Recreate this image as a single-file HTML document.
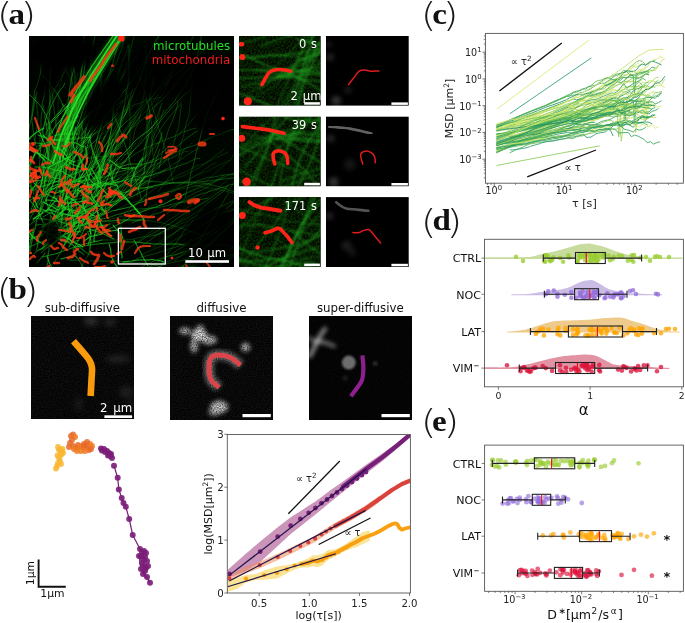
<!DOCTYPE html>
<html><head><meta charset="utf-8"><title>Figure</title>
<style>html,body{margin:0;padding:0;background:#fff;}svg{display:block;}</style></head>
<body><svg width="685" height="623" viewBox="0 0 685 623">
<rect width="685" height="623" fill="#fff"/>
<defs>
<clipPath id="clipc"><rect x="485.8" y="33.8" width="197.2" height="149"/></clipPath>
<clipPath id="clipb"><rect x="227.7" y="434.9" width="182.3" height="157.7"/></clipPath>
<clipPath id="clipA"><rect x="29" y="36" width="205" height="231"/></clipPath>
<filter color-interpolation-filters="sRGB" id="blur05" x="-5%" y="-5%" width="110%" height="110%"><feGaussianBlur stdDeviation="0.5"/></filter>
<filter color-interpolation-filters="sRGB" id="blur06" x="-5%" y="-5%" width="110%" height="110%"><feGaussianBlur stdDeviation="0.6"/></filter>
<filter color-interpolation-filters="sRGB" id="blur07" x="-5%" y="-5%" width="110%" height="110%"><feGaussianBlur stdDeviation="0.7"/></filter>
<filter color-interpolation-filters="sRGB" id="blur09" x="-5%" y="-5%" width="110%" height="110%"><feGaussianBlur stdDeviation="0.9"/></filter>
<filter color-interpolation-filters="sRGB" id="grain" x="-20%" y="-20%" width="140%" height="140%"><feGaussianBlur in="SourceGraphic" stdDeviation="2.2" result="b"/><feTurbulence type="fractalNoise" baseFrequency="0.8" numOctaves="1" seed="5" result="n"/><feColorMatrix in="n" type="matrix" values="0 0 0 0 1  0 0 0 0 1  0 0 0 0 1  1.3 0 0 0 0.05" result="na"/><feComposite in="b" in2="na" operator="arithmetic" k1="1" k2="0" k3="0" k4="0"/></filter>
<filter color-interpolation-filters="sRGB" id="blur1" x="-50%" y="-50%" width="200%" height="200%"><feGaussianBlur stdDeviation="1"/></filter>
<filter color-interpolation-filters="sRGB" id="blur2" x="-50%" y="-50%" width="200%" height="200%"><feGaussianBlur stdDeviation="2"/></filter>
<filter color-interpolation-filters="sRGB" id="blur3" x="-50%" y="-50%" width="200%" height="200%"><feGaussianBlur stdDeviation="3"/></filter>
<filter color-interpolation-filters="sRGB" id="gnoise" x="0" y="0" width="100%" height="100%"><feTurbulence type="fractalNoise" baseFrequency="0.7" numOctaves="1" seed="4"/><feColorMatrix type="matrix" values="0 0 0 0 0  0 0.16 0 0 -0.04  0 0 0 0 0  0 0 0 0 1"/></filter>
<filter color-interpolation-filters="sRGB" id="gnoise2" x="0" y="0" width="100%" height="100%"><feTurbulence type="fractalNoise" baseFrequency="0.55" numOctaves="2" seed="9"/><feColorMatrix type="matrix" values="0.1 0 0 0 -0.03  0 0.42 0 0 -0.12  0 0 0 0 0  0 0 0 0 1"/></filter>
<filter color-interpolation-filters="sRGB" id="wnoise0" x="0" y="0" width="100%" height="100%"><feTurbulence type="fractalNoise" baseFrequency="0.85" numOctaves="1" seed="1"/><feColorMatrix type="matrix" values="0.15 0 0 0 -0.042  0.15 0 0 0 -0.042  0.15 0 0 0 -0.042  0 0 0 0 1"/></filter>
<filter color-interpolation-filters="sRGB" id="wnoise1" x="0" y="0" width="100%" height="100%"><feTurbulence type="fractalNoise" baseFrequency="0.85" numOctaves="1" seed="2"/><feColorMatrix type="matrix" values="0.15 0 0 0 -0.042  0.15 0 0 0 -0.042  0.15 0 0 0 -0.042  0 0 0 0 1"/></filter>
<filter color-interpolation-filters="sRGB" id="wnoise2" x="0" y="0" width="100%" height="100%"><feTurbulence type="fractalNoise" baseFrequency="0.85" numOctaves="1" seed="3"/><feColorMatrix type="matrix" values="0.06 0 0 0 -0.014  0.06 0 0 0 -0.014  0.06 0 0 0 -0.014  0 0 0 0 1"/></filter>
</defs>
<text transform="translate(-3.3 26.8) scale(1.2 1)" font-size="33.8" font-weight="200" font-family='"DejaVu Sans Light", "DejaVu Sans", sans-serif' fill="#1a1a1a">(</text>
<text transform="translate(20.5 26.8) scale(1.2 1)" font-size="33.8" font-weight="200" font-family='"DejaVu Sans Light", "DejaVu Sans", sans-serif' fill="#1a1a1a">)</text>
<text transform="translate(8.5 23.6) scale(1.12 1)" font-size="29.5" font-weight="bold" font-family='"Liberation Serif", "DejaVu Serif", serif' fill="#111">a</text>
<text transform="translate(-3.4 302.7) scale(1.2 1)" font-size="33.8" font-weight="200" font-family='"DejaVu Sans Light", "DejaVu Sans", sans-serif' fill="#1a1a1a">(</text>
<text transform="translate(22.7 302.7) scale(1.2 1)" font-size="33.8" font-weight="200" font-family='"DejaVu Sans Light", "DejaVu Sans", sans-serif' fill="#1a1a1a">)</text>
<text transform="translate(8.5 299.1) scale(1.12 1)" font-size="29.5" font-weight="bold" font-family='"Liberation Serif", "DejaVu Serif", serif' fill="#111">b</text>
<text transform="translate(420.7 26.7) scale(1.2 1)" font-size="33.8" font-weight="200" font-family='"DejaVu Sans Light", "DejaVu Sans", sans-serif' fill="#1a1a1a">(</text>
<text transform="translate(442.8 26.7) scale(1.2 1)" font-size="33.8" font-weight="200" font-family='"DejaVu Sans Light", "DejaVu Sans", sans-serif' fill="#1a1a1a">)</text>
<text transform="translate(432.2 23.5) scale(1.12 1)" font-size="29.5" font-weight="bold" font-family='"Liberation Serif", "DejaVu Serif", serif' fill="#111">c</text>
<text transform="translate(420.7 233.6) scale(1.2 1)" font-size="33.8" font-weight="200" font-family='"DejaVu Sans Light", "DejaVu Sans", sans-serif' fill="#1a1a1a">(</text>
<text transform="translate(446.5 233.6) scale(1.2 1)" font-size="33.8" font-weight="200" font-family='"DejaVu Sans Light", "DejaVu Sans", sans-serif' fill="#1a1a1a">)</text>
<text transform="translate(432.4 230.1) scale(1.12 1)" font-size="29.5" font-weight="bold" font-family='"Liberation Serif", "DejaVu Serif", serif' fill="#111">d</text>
<text transform="translate(420.7 433.6) scale(1.2 1)" font-size="33.8" font-weight="200" font-family='"DejaVu Sans Light", "DejaVu Sans", sans-serif' fill="#1a1a1a">(</text>
<text transform="translate(443.5 433.6) scale(1.2 1)" font-size="33.8" font-weight="200" font-family='"DejaVu Sans Light", "DejaVu Sans", sans-serif' fill="#1a1a1a">)</text>
<text transform="translate(432.0 430.5) scale(1.12 1)" font-size="29.5" font-weight="bold" font-family='"Liberation Serif", "DejaVu Serif", serif' fill="#111">e</text>
<g clip-path="url(#clipA)">
<rect x="29" y="36" width="205" height="231" fill="#000"/>
<rect x="29" y="36" width="205" height="231" filter="url(#gnoise)" opacity="0.6"/>
<g filter="url(#blur07)" fill="none" stroke="#22d422" stroke-linecap="round">
<path d="M64 243Q69 235 72 232Q75 228 78 225Q81 222 84 218Q87 215 90 212Q94 209 97 206Q101 203 104 200Q107 197 111 194Q115 191 118 188Q121 185 124 182L128 179" stroke-opacity="0.46" stroke-width="0.9"/>
<path d="M128 179Q134 173 137 169Q139 165 142 162Q144 158 146 153Q147 149 149 145Q151 141 152 137Q154 133 155 128Q157 124 158 120Q159 115 160 111L161 107" stroke-opacity="0.16" stroke-width="0.9"/>
<path d="M80 196Q87 191 90 188Q94 185 97 182Q100 179 103 175Q106 172 109 168Q112 165 115 162Q118 159 122 155Q125 152 128 149Q131 146 134 142Q137 139 141 136Q144 134 148 131Q151 128 154 125L157 121" stroke-opacity="0.65" stroke-width="0.9"/>
<path d="M157 121Q164 115 166 111Q169 108 172 104Q175 101 177 97Q180 93 182 90Q185 86 187 82Q190 78 191 74Q193 70 195 66Q196 61 197 57Q198 53 199 48Q200 44 201 39Q201 35 202 31L202 26" stroke-opacity="0.37" stroke-width="0.9"/>
<path d="M49 239Q58 235 61 232Q65 230 69 228Q73 225 77 223Q81 221 85 219Q89 217 93 215L96 212" stroke-opacity="0.66" stroke-width="0.9"/>
<path d="M96 212Q104 208 108 206Q112 204 116 202Q120 200 124 198Q129 196 132 194L136 192" stroke-opacity="0.16" stroke-width="0.9"/>
<path d="M102 210Q110 207 114 205Q118 203 121 200Q125 197 128 194Q131 191 134 187Q137 184 141 181Q144 178 147 175L150 172" stroke-opacity="0.46" stroke-width="0.9"/>
<path d="M150 172Q157 165 160 162Q163 159 166 156Q170 153 173 150Q177 147 180 144Q183 141 187 138Q190 136 194 133L198 131" stroke-opacity="0.37" stroke-width="0.9"/>
<path d="M81 202Q86 195 88 191Q90 187 92 183Q95 179 97 175Q99 171 101 167Q104 163 105 159Q107 155 109 151Q111 147 112 143Q114 139 116 135L118 131" stroke-opacity="0.57" stroke-width="0.9"/>
<path d="M118 131Q123 123 126 119Q128 115 130 111Q132 107 134 104Q137 100 138 95Q140 91 142 87Q144 83 146 79Q149 75 151 72L153 68" stroke-opacity="0.16" stroke-width="0.9"/>
<path d="M43 197Q50 192 54 189Q58 186 61 184Q65 181 68 178Q71 175 74 171Q77 168 79 164Q82 160 85 157L88 154" stroke-opacity="0.62" stroke-width="0.9"/>
<path d="M88 154Q93 146 96 143Q99 139 101 135Q103 131 106 128Q108 124 111 120Q113 116 116 113Q118 109 120 105L123 101" stroke-opacity="0.16" stroke-width="0.9"/>
<path d="M84 182Q89 175 91 171Q93 167 95 163Q97 159 99 155Q102 151 104 147Q107 143 109 139L111 136" stroke-opacity="0.47" stroke-width="0.9"/>
<path d="M111 136Q115 127 117 124Q119 120 122 116Q124 112 126 108Q128 104 130 100L132 96" stroke-opacity="0.30" stroke-width="0.9"/>
<path d="M50 233Q53 225 55 220Q56 216 58 212Q60 208 61 203Q62 199 63 194L64 190" stroke-opacity="0.40" stroke-width="0.9"/>
<path d="M64 190Q66 181 68 177Q69 173 70 169Q71 164 72 160Q73 155 73 151L74 146" stroke-opacity="0.22" stroke-width="0.9"/>
<path d="M67 198Q72 191 75 187Q78 183 80 180Q83 176 86 173Q89 170 92 166Q95 163 99 160Q102 158 106 155Q109 151 111 147L114 144" stroke-opacity="0.45" stroke-width="0.9"/>
<path d="M114 144Q119 136 122 133Q125 129 127 126Q130 122 133 119Q135 115 137 111Q139 107 141 103Q143 99 144 94L146 90" stroke-opacity="0.23" stroke-width="0.9"/>
<path d="M63 223Q70 217 74 215Q78 213 81 210Q85 207 89 205Q93 203 97 200Q100 198 104 196Q108 194 112 191L116 189" stroke-opacity="0.49" stroke-width="0.9"/>
<path d="M116 189Q124 185 128 184Q133 182 137 180Q141 179 145 177Q150 176 154 174Q158 173 162 171L166 169" stroke-opacity="0.37" stroke-width="0.9"/>
<path d="M45 202Q49 194 51 190Q53 185 54 181Q56 177 57 173Q58 168 59 164Q60 160 61 155Q62 151 64 147Q65 142 67 138Q69 134 71 130Q72 126 74 122Q75 117 77 113Q78 109 79 104L80 100" stroke-opacity="0.69" stroke-width="0.9"/>
<path d="M80 100Q80 91 80 87Q81 82 81 78Q82 73 82 69Q82 64 83 60Q83 55 83 51Q83 46 84 42Q84 37 84 33Q84 28 84 24Q84 19 84 15Q84 10 85 6Q85 1 85 -3L85 -8" stroke-opacity="0.35" stroke-width="0.9"/>
<path d="M68 237Q72 229 75 225Q77 222 79 218Q82 214 84 210Q86 206 88 202Q90 198 93 194Q95 190 98 187L101 183" stroke-opacity="0.62" stroke-width="0.9"/>
<path d="M101 183Q107 177 110 173Q113 170 116 167Q118 163 121 160Q124 156 127 153Q130 150 133 146L136 143" stroke-opacity="0.24" stroke-width="0.9"/>
<path d="M85 225Q90 217 92 213Q95 209 96 205Q98 201 100 197Q102 193 104 189Q106 185 107 180Q109 176 110 172L111 168" stroke-opacity="0.66" stroke-width="0.9"/>
<path d="M111 168Q113 159 114 154Q115 150 116 146Q118 141 118 137Q119 132 120 128Q120 124 121 119Q122 115 123 110L124 106" stroke-opacity="0.33" stroke-width="0.9"/>
<path d="M60 240Q61 231 61 226Q62 222 62 217Q62 213 62 208Q62 204 61 199Q60 195 60 190Q60 186 60 181Q59 177 60 172Q60 168 60 163Q60 159 60 154Q59 150 59 145Q59 141 59 136L59 132" stroke-opacity="0.63" stroke-width="0.9"/>
<path d="M59 132Q59 123 58 118Q58 114 58 109Q58 105 58 100Q59 96 59 91Q60 87 61 82Q62 78 63 74Q64 69 65 65Q66 61 66 56Q67 52 67 47Q68 43 68 38L69 34" stroke-opacity="0.16" stroke-width="0.9"/>
<path d="M65 189Q72 183 76 181Q80 178 83 176Q87 173 90 170Q94 167 97 164L100 161" stroke-opacity="0.61" stroke-width="0.9"/>
<path d="M100 161Q107 155 110 152Q113 149 117 146Q120 143 124 140L128 138" stroke-opacity="0.24" stroke-width="0.9"/>
<path d="M46 231Q51 224 54 221Q57 217 60 214Q63 211 66 207Q69 204 72 201Q75 197 78 194Q81 190 83 186Q85 182 88 179L90 175" stroke-opacity="0.67" stroke-width="0.9"/>
<path d="M90 175Q94 167 95 162Q97 158 98 154Q100 150 102 146Q104 141 105 137Q107 133 109 129Q112 125 114 122L117 118" stroke-opacity="0.27" stroke-width="0.9"/>
<path d="M26 227Q30 219 32 215Q34 211 36 207Q38 203 40 199Q42 195 43 191Q44 186 45 182L46 177" stroke-opacity="0.52" stroke-width="0.9"/>
<path d="M46 177Q49 169 50 165Q51 160 52 156Q54 152 55 147Q56 143 57 138Q58 134 59 130L60 125" stroke-opacity="0.24" stroke-width="0.9"/>
<path d="M67 225Q73 218 76 215Q80 212 83 209Q86 206 90 203Q93 200 96 197Q99 193 102 190Q105 186 108 183Q111 180 114 177Q117 173 119 169Q122 166 125 162Q127 158 130 155L133 151" stroke-opacity="0.42" stroke-width="0.9"/>
<path d="M133 151Q138 144 141 140Q143 136 145 132Q147 128 148 124Q150 120 152 116Q153 112 155 107Q157 103 159 99Q162 96 164 92Q166 88 167 83Q168 79 170 75Q171 71 173 66L174 62" stroke-opacity="0.21" stroke-width="0.9"/>
<path d="M76 247Q85 246 90 245Q94 244 99 244Q103 243 108 243Q112 243 117 242Q121 242 126 242Q130 242 135 242Q139 242 144 243Q148 243 153 244Q157 244 161 244Q166 245 170 244Q175 244 179 244L184 245" stroke-opacity="0.67" stroke-width="0.9"/>
<path d="M184 245Q193 245 197 245Q202 245 206 245Q211 245 215 245Q220 245 224 245Q229 246 233 247Q238 248 242 249Q247 249 251 250Q255 251 260 251Q264 252 269 252Q273 253 278 254Q282 255 286 256L291 258" stroke-opacity="0.17" stroke-width="0.9"/>
<path d="M95 235Q103 231 107 230Q111 228 115 226Q119 224 123 222Q127 220 131 217Q135 215 139 213Q143 211 147 210Q151 208 156 207Q160 205 164 204Q168 202 172 200Q177 198 181 196L184 194" stroke-opacity="0.68" stroke-width="0.9"/>
<path d="M184 194Q192 190 196 188Q200 185 204 183Q208 180 211 177Q214 174 218 171Q221 169 224 165Q228 162 231 159Q233 155 236 152Q240 149 243 146Q247 143 250 140Q254 137 257 134L260 131" stroke-opacity="0.18" stroke-width="0.9"/>
<path d="M43 246Q50 240 53 237Q56 233 60 231Q63 228 67 225Q71 222 74 220Q78 218 82 215Q86 213 89 210Q93 207 96 204Q100 201 103 198L106 195" stroke-opacity="0.54" stroke-width="0.9"/>
<path d="M106 195Q113 189 116 186Q119 183 123 180Q126 177 129 174Q133 171 136 168Q139 164 142 161Q145 158 148 155Q151 151 154 148Q157 144 160 141L162 137" stroke-opacity="0.33" stroke-width="0.9"/>
<path d="M83 189Q86 181 87 176Q89 172 90 168Q92 164 93 160Q94 155 96 151Q97 147 99 142L100 138" stroke-opacity="0.49" stroke-width="0.9"/>
<path d="M100 138Q103 130 105 125Q106 121 108 117Q110 113 111 109Q113 104 114 100Q116 96 117 92L118 87" stroke-opacity="0.19" stroke-width="0.9"/>
<path d="M31 210Q34 202 36 197Q38 193 39 189Q40 185 42 180Q43 176 44 172Q46 168 47 163L48 159" stroke-opacity="0.56" stroke-width="0.9"/>
<path d="M48 159Q49 150 49 145Q49 141 49 136Q48 132 47 127Q46 123 45 119Q44 114 44 110L43 105" stroke-opacity="0.32" stroke-width="0.9"/>
<path d="M41 253Q48 247 51 245Q55 242 59 239Q62 237 66 234Q70 232 74 230Q78 228 82 226Q86 224 90 222Q94 220 98 218Q102 216 106 213L109 210" stroke-opacity="0.54" stroke-width="0.9"/>
<path d="M109 210Q115 203 118 200Q122 197 125 194Q128 191 131 187Q134 184 137 181Q140 177 143 174Q146 171 150 168Q153 165 156 161L159 158" stroke-opacity="0.36" stroke-width="0.9"/>
<path d="M72 195Q80 192 84 189Q88 187 92 186Q96 184 100 183Q105 181 109 179L113 178" stroke-opacity="0.61" stroke-width="0.9"/>
<path d="M113 178Q121 174 125 173Q130 171 134 169Q138 167 142 165Q146 163 150 161L154 159" stroke-opacity="0.26" stroke-width="0.9"/>
<path d="M67 219Q70 210 71 206Q72 202 73 197Q74 193 74 188Q75 184 75 179Q76 175 76 171L77 166" stroke-opacity="0.60" stroke-width="0.9"/>
<path d="M77 166Q79 157 80 153Q81 148 81 144Q82 140 83 135Q84 131 86 127L87 122" stroke-opacity="0.23" stroke-width="0.9"/>
<path d="M42 235Q49 229 53 227Q56 224 60 221Q63 218 67 216Q70 213 74 210Q77 207 81 204L84 201" stroke-opacity="0.37" stroke-width="0.9"/>
<path d="M84 201Q92 196 95 194Q99 191 103 188Q106 186 110 183Q114 181 118 179Q122 176 126 174L130 172" stroke-opacity="0.16" stroke-width="0.9"/>
<path d="M86 194Q94 189 98 187Q102 184 106 183Q110 182 115 181L119 179" stroke-opacity="0.57" stroke-width="0.9"/>
<path d="M119 179Q128 177 132 176Q136 175 141 174Q145 173 150 172L154 171" stroke-opacity="0.23" stroke-width="0.9"/>
<path d="M68 220Q75 215 79 213Q83 211 87 209Q91 207 95 205Q99 202 103 200Q107 198 111 197L115 195" stroke-opacity="0.36" stroke-width="0.9"/>
<path d="M115 195Q123 191 127 189Q131 186 135 184Q139 182 143 180Q147 177 150 174Q153 171 157 168L160 165" stroke-opacity="0.17" stroke-width="0.9"/>
<path d="M61 218Q63 209 64 205Q64 200 66 196Q67 192 68 187Q69 183 71 179Q72 174 73 170Q73 165 74 161Q75 157 76 152Q77 148 77 143Q78 139 79 134L80 130" stroke-opacity="0.61" stroke-width="0.9"/>
<path d="M80 130Q83 121 84 117Q85 113 86 108Q87 104 89 100Q90 96 92 92Q94 88 97 84Q99 80 101 76Q103 72 105 68Q107 64 110 60Q112 57 115 53L117 49" stroke-opacity="0.32" stroke-width="0.9"/>
<path d="M78 191Q86 189 91 189Q95 188 100 187Q104 186 108 184Q113 183 117 182Q121 181 126 180Q130 179 134 177L139 176" stroke-opacity="0.59" stroke-width="0.9"/>
<path d="M139 176Q147 172 151 170Q155 168 159 166Q163 163 166 161Q170 159 174 156Q178 154 182 151Q185 149 189 146L192 143" stroke-opacity="0.17" stroke-width="0.9"/>
<path d="M70 218Q78 214 82 212Q86 209 90 208Q94 206 98 204Q102 202 106 200Q110 197 114 196Q118 194 123 193Q127 191 131 190Q136 189 140 188Q145 188 149 187Q153 186 158 185Q162 184 167 184L171 183" stroke-opacity="0.50" stroke-width="0.9"/>
<path d="M171 183Q180 182 185 182Q189 183 194 183Q198 183 203 183Q207 184 212 185Q216 186 220 187Q225 188 229 190Q233 191 237 193Q242 194 246 196Q250 197 254 200Q257 203 261 205Q264 208 268 211L271 215" stroke-opacity="0.33" stroke-width="0.9"/>
<path d="M28 191Q35 186 39 183Q42 180 46 177Q49 174 53 172Q57 170 61 167Q65 165 69 164L73 162" stroke-opacity="0.57" stroke-width="0.9"/>
<path d="M73 162Q82 159 86 159Q91 158 95 157Q100 157 104 156Q109 156 113 156L118 156" stroke-opacity="0.30" stroke-width="0.9"/>
<path d="M65 171Q70 163 73 159Q76 156 78 152Q80 148 83 144Q85 140 87 136Q89 132 91 128Q93 124 94 120Q96 116 97 111Q99 107 100 103Q102 99 103 94L104 90" stroke-opacity="0.70" stroke-width="0.9"/>
<path d="M104 90Q107 81 109 77Q111 73 113 69Q115 65 117 61Q119 57 120 53Q122 49 123 44Q125 40 125 36Q126 31 127 27Q128 22 129 18L131 14" stroke-opacity="0.23" stroke-width="0.9"/>
<path d="M53 219Q56 210 58 207Q61 203 62 199Q64 194 65 190Q66 186 67 181L68 177" stroke-opacity="0.62" stroke-width="0.9"/>
<path d="M68 177Q69 168 69 163Q70 159 71 155Q72 150 73 146Q74 142 76 137L77 133" stroke-opacity="0.24" stroke-width="0.9"/>
<path d="M53 264Q58 257 60 253Q62 249 65 245Q67 241 69 237Q71 233 73 229Q74 225 76 220Q77 216 79 212Q81 208 83 204Q85 200 87 196Q89 192 92 188Q94 185 96 181Q99 177 101 173Q104 169 106 165L109 162" stroke-opacity="0.46" stroke-width="0.9"/>
<path d="M109 162Q113 154 116 150Q118 146 121 143Q123 139 126 135Q129 132 131 128Q134 124 137 121Q139 117 143 114Q146 111 149 108Q152 104 154 101Q156 97 159 93Q162 90 165 86Q168 83 170 79L173 75" stroke-opacity="0.26" stroke-width="0.9"/>
<path d="M72 188Q77 180 80 177Q83 173 86 170Q89 167 91 163Q94 160 97 156Q100 152 103 149Q105 145 108 142Q111 139 114 135Q117 132 120 128Q123 125 126 122Q130 119 133 116Q136 112 139 109L142 106" stroke-opacity="0.37" stroke-width="0.9"/>
<path d="M142 106Q149 100 152 97Q155 93 158 90Q162 87 165 84Q168 81 171 78Q175 75 178 72Q182 69 185 66Q188 63 192 60Q195 57 199 55Q202 52 206 49Q209 46 212 43L216 40" stroke-opacity="0.28" stroke-width="0.9"/>
<path d="M71 231Q74 222 76 218Q78 214 80 210Q82 206 85 203Q87 199 89 195Q91 191 93 186Q94 182 97 178Q99 174 101 170Q103 166 104 162Q106 158 109 154Q111 150 113 146L115 142" stroke-opacity="0.58" stroke-width="0.9"/>
<path d="M115 142Q118 134 119 130Q120 125 121 121Q122 116 123 112Q124 107 125 103Q125 99 126 94Q127 90 128 85Q128 81 129 76Q129 72 129 67Q129 63 129 58Q129 54 129 49L129 45" stroke-opacity="0.36" stroke-width="0.9"/>
<path d="M75 187Q81 181 83 177Q86 173 88 169Q89 165 91 161Q92 156 93 152Q95 148 96 144Q97 139 98 135Q100 131 101 126Q103 122 104 118L105 114" stroke-opacity="0.56" stroke-width="0.9"/>
<path d="M105 114Q108 105 110 101Q111 96 112 92Q114 88 115 84Q117 79 118 75Q119 71 121 66Q122 62 124 58Q126 54 127 50L128 45" stroke-opacity="0.16" stroke-width="0.9"/>
<path d="M35 202Q40 195 43 191Q46 188 49 185Q52 181 55 178Q57 174 60 171Q63 168 67 165Q70 162 73 159L76 155" stroke-opacity="0.46" stroke-width="0.9"/>
<path d="M76 155Q82 149 85 145Q88 142 91 138Q94 135 97 131Q100 128 102 124Q104 120 107 117L110 113" stroke-opacity="0.21" stroke-width="0.9"/>
<path d="M117 199Q122 191 124 187Q126 184 130 180Q133 177 136 174Q140 171 143 168Q146 165 150 162Q153 160 157 157Q160 154 164 151L167 148" stroke-opacity="0.37" stroke-width="0.9"/>
<path d="M167 148Q173 141 176 138Q179 135 182 131Q185 128 188 125Q191 121 194 118Q197 114 200 111Q203 107 206 104L209 101" stroke-opacity="0.21" stroke-width="0.9"/>
<path d="M43 217Q51 212 55 211Q59 209 64 208Q68 206 72 206L77 205" stroke-opacity="0.62" stroke-width="0.9"/>
<path d="M77 205Q86 206 90 206Q95 206 99 206Q104 205 108 205L113 205" stroke-opacity="0.19" stroke-width="0.9"/>
<path d="M68 230Q77 229 82 228Q86 228 91 227Q95 226 99 226L104 225" stroke-opacity="0.40" stroke-width="0.9"/>
<path d="M104 225Q113 223 117 222Q122 222 126 221Q130 221 135 221L139 221" stroke-opacity="0.18" stroke-width="0.9"/>
<path d="M30 254Q31 245 32 241Q33 236 34 232Q36 228 36 223Q37 219 39 215Q40 210 42 206L43 202" stroke-opacity="0.62" stroke-width="0.9"/>
<path d="M43 202Q46 193 47 189Q49 185 51 181Q53 177 54 172Q56 168 58 164L61 161" stroke-opacity="0.28" stroke-width="0.9"/>
<path d="M33 221Q38 214 41 210Q43 206 45 202Q46 198 48 194Q50 190 52 186Q54 182 56 178Q59 174 61 170Q63 166 66 162Q68 159 71 155L73 151" stroke-opacity="0.63" stroke-width="0.9"/>
<path d="M73 151Q79 144 81 140Q84 137 87 134Q90 130 93 127Q97 124 100 121Q103 117 106 114Q109 111 113 108Q116 105 120 103L123 100" stroke-opacity="0.38" stroke-width="0.9"/>
<path d="M50 190Q59 186 63 185Q67 183 71 182Q75 180 80 178Q84 177 88 175L92 174" stroke-opacity="0.69" stroke-width="0.9"/>
<path d="M92 174Q101 171 105 169Q109 168 113 166Q118 164 122 163L126 161" stroke-opacity="0.37" stroke-width="0.9"/>
<path d="M92 183Q96 175 98 171Q100 167 101 163Q103 159 104 155Q106 150 108 146Q110 142 111 138Q113 134 116 130Q118 126 120 122Q122 118 125 115Q127 111 129 106Q130 102 132 98Q133 94 135 90Q137 86 139 81L141 77" stroke-opacity="0.50" stroke-width="0.9"/>
<path d="M141 77Q143 69 145 65Q146 60 148 56Q150 52 152 48Q154 44 157 40Q159 36 161 32Q163 28 165 24Q168 21 170 17Q173 13 175 9Q177 5 180 2Q182 -2 185 -6Q187 -9 190 -13Q192 -17 194 -21L196 -25" stroke-opacity="0.35" stroke-width="0.9"/>
<path d="M47 210Q51 202 53 198Q55 194 56 190Q58 185 59 181Q60 177 61 172Q62 168 62 163Q63 159 63 154Q64 150 65 145Q66 141 66 137L67 132" stroke-opacity="0.64" stroke-width="0.9"/>
<path d="M67 132Q68 123 69 119Q70 114 71 110Q72 106 72 101Q73 97 74 92Q75 88 75 83Q75 79 75 74Q74 70 73 65L73 61" stroke-opacity="0.34" stroke-width="0.9"/>
<path d="M54 235Q62 231 65 229Q69 226 73 224Q76 221 80 218Q83 215 86 212L90 209" stroke-opacity="0.47" stroke-width="0.9"/>
<path d="M90 209Q97 203 101 201Q104 198 108 195Q111 192 114 189Q118 186 121 183L124 180" stroke-opacity="0.15" stroke-width="0.9"/>
<path d="M70 203Q73 195 75 191Q77 186 78 182Q79 178 80 173Q81 169 82 164Q83 160 84 156Q86 151 87 147Q88 143 90 139L91 134" stroke-opacity="0.66" stroke-width="0.9"/>
<path d="M91 134Q95 126 96 122Q98 118 99 113Q99 109 100 104Q100 100 101 95Q101 91 101 86Q101 82 101 77L101 73" stroke-opacity="0.34" stroke-width="0.9"/>
<path d="M50 235Q57 230 61 228Q65 226 69 224Q73 222 78 221Q82 220 87 219Q91 218 95 217Q100 215 104 214Q108 213 112 211Q117 210 121 209Q126 208 130 207Q134 205 138 203Q142 202 147 200L151 198" stroke-opacity="0.65" stroke-width="0.9"/>
<path d="M151 198Q159 195 163 193Q167 192 172 191Q176 189 180 188Q185 186 189 185Q193 183 197 181Q201 180 206 178Q210 177 214 177Q219 176 223 175Q228 175 232 174Q237 174 241 173Q245 172 250 171L254 170" stroke-opacity="0.32" stroke-width="0.9"/>
<path d="M10 217Q16 211 19 208Q23 205 27 202Q30 200 34 198Q38 196 42 194Q46 192 50 190Q54 188 59 186L63 185" stroke-opacity="0.64" stroke-width="0.9"/>
<path d="M63 185Q71 181 75 179Q79 178 84 176Q88 175 92 173Q97 172 101 171Q105 170 110 169L114 167" stroke-opacity="0.16" stroke-width="0.9"/>
<path d="M93 197Q96 189 98 185Q100 181 102 177Q104 173 106 169Q108 165 110 161Q113 157 115 153L118 149" stroke-opacity="0.41" stroke-width="0.9"/>
<path d="M118 149Q122 142 125 138Q127 134 129 130Q132 126 134 122Q136 118 138 114Q139 110 141 106L143 102" stroke-opacity="0.32" stroke-width="0.9"/>
<path d="M38 232Q46 227 49 224Q53 221 56 218Q60 215 62 212Q65 208 68 205Q71 201 74 198Q77 194 80 191Q83 188 87 185Q90 182 93 179Q96 175 99 172L103 170" stroke-opacity="0.39" stroke-width="0.9"/>
<path d="M103 170Q108 162 110 158Q112 154 115 151Q118 147 121 144Q123 140 126 136Q129 133 131 129Q134 126 136 122Q139 118 141 114Q143 110 145 106L147 102" stroke-opacity="0.27" stroke-width="0.9"/>
<path d="M78 195Q85 189 88 186Q91 182 94 178Q96 175 99 171Q101 168 104 164Q107 160 110 157Q112 153 115 149Q117 145 119 141Q121 137 123 134Q126 130 129 126Q131 123 134 119Q136 115 139 112L142 109" stroke-opacity="0.39" stroke-width="0.9"/>
<path d="M142 109Q148 102 151 98Q154 95 156 91Q159 87 162 84Q165 80 168 77Q171 74 174 70Q176 67 179 63Q182 59 184 55Q186 51 188 47Q190 43 192 39Q194 35 196 32Q199 28 201 24L203 20" stroke-opacity="0.28" stroke-width="0.9"/>
<path d="M53 200Q56 192 58 188Q60 184 62 180Q64 176 66 171Q68 167 70 164Q73 160 75 156Q78 152 81 149Q83 145 87 142L90 139" stroke-opacity="0.45" stroke-width="0.9"/>
<path d="M90 139Q96 132 99 129Q103 126 106 123Q108 119 111 116Q114 112 117 109Q120 106 123 102Q126 99 129 95L131 92" stroke-opacity="0.22" stroke-width="0.9"/>
<path d="M67 225Q76 223 81 222Q85 222 89 221Q94 220 98 219Q103 219 107 218Q111 217 116 215Q120 214 124 213Q129 211 133 210L137 209" stroke-opacity="0.51" stroke-width="0.9"/>
<path d="M137 209Q146 209 151 208Q155 208 160 207Q164 207 169 205Q173 204 177 203Q182 202 186 202Q191 201 195 200Q200 200 204 199L208 198" stroke-opacity="0.37" stroke-width="0.9"/>
<path d="M43 248Q47 240 48 235Q49 231 51 227Q53 223 55 219Q57 215 58 210Q59 206 60 202Q62 197 63 193Q63 189 64 184Q65 180 66 175Q67 171 67 166L67 162" stroke-opacity="0.48" stroke-width="0.9"/>
<path d="M67 162Q67 153 67 148Q67 144 67 139Q68 135 68 130Q68 126 69 122Q70 117 71 113Q71 108 73 104Q74 100 75 95Q75 91 76 86Q76 82 77 77L78 73" stroke-opacity="0.16" stroke-width="0.9"/>
<path d="M30 181Q39 180 44 181Q48 181 53 181Q57 182 62 182Q66 182 71 182Q75 181 80 181L84 181" stroke-opacity="0.66" stroke-width="0.9"/>
<path d="M84 181Q93 179 97 178Q102 177 106 176Q110 174 115 173Q119 172 123 171L128 169" stroke-opacity="0.18" stroke-width="0.9"/>
<path d="M87 224Q95 219 99 216Q102 214 106 211Q110 209 113 206Q117 203 120 201Q124 198 128 195Q131 192 135 190Q138 187 142 184L146 182" stroke-opacity="0.63" stroke-width="0.9"/>
<path d="M146 182Q153 177 157 175Q161 173 165 170Q169 168 172 165Q176 163 180 160Q184 158 187 155Q191 153 195 150L199 148" stroke-opacity="0.25" stroke-width="0.9"/>
<path d="M39 205Q43 197 45 193Q46 189 48 184Q49 180 51 176Q53 172 55 168Q57 164 59 160Q61 156 62 152Q64 147 66 143L67 139" stroke-opacity="0.62" stroke-width="0.9"/>
<path d="M67 139Q70 130 71 126Q72 122 73 117Q74 113 75 108Q76 104 77 100Q77 95 78 91Q79 86 80 82Q81 77 81 73L82 69" stroke-opacity="0.29" stroke-width="0.9"/>
<path d="M42 184Q48 178 52 176Q55 173 58 169Q61 166 65 163Q69 161 72 158Q76 156 80 153Q83 151 87 148Q90 145 94 142L97 139" stroke-opacity="0.52" stroke-width="0.9"/>
<path d="M97 139Q104 133 107 130Q111 127 114 124Q118 121 120 118Q123 114 127 112Q130 109 134 106Q138 104 142 102L146 99" stroke-opacity="0.21" stroke-width="0.9"/>
<path d="M84 205Q85 196 86 191Q88 187 88 183Q89 178 90 174Q91 169 93 165Q95 161 96 157Q97 152 99 148Q101 144 103 140L105 136" stroke-opacity="0.61" stroke-width="0.9"/>
<path d="M105 136Q109 128 112 125Q115 121 118 118Q120 114 124 111Q128 109 131 106Q135 104 140 103Q144 101 148 100Q153 99 157 98L161 97" stroke-opacity="0.27" stroke-width="0.9"/>
<path d="M71 218Q78 213 82 209Q85 206 88 203Q91 200 95 197Q98 194 101 191L105 188" stroke-opacity="0.49" stroke-width="0.9"/>
<path d="M105 188Q112 183 116 180Q119 178 123 175Q127 172 130 169L134 167" stroke-opacity="0.26" stroke-width="0.9"/>
<path d="M32 211Q37 203 39 199Q42 195 44 192Q47 188 49 184Q52 181 55 177Q57 173 59 169Q61 165 64 162Q66 158 68 154Q71 150 73 146Q75 142 78 139Q81 135 84 132L86 128" stroke-opacity="0.47" stroke-width="0.9"/>
<path d="M86 128Q92 121 95 117Q97 114 100 110Q102 106 104 102Q106 98 109 95Q112 91 114 87Q117 84 120 80Q122 76 125 73Q127 69 130 65Q132 62 135 58L138 55" stroke-opacity="0.25" stroke-width="0.9"/>
<path d="M41 250Q49 246 53 244Q57 241 61 239Q65 237 69 235Q74 234 78 232Q82 230 86 229Q91 228 95 226L99 225" stroke-opacity="0.42" stroke-width="0.9"/>
<path d="M99 225Q107 221 111 219Q116 218 120 217Q124 216 129 214Q133 213 137 212Q142 210 146 209Q150 207 154 205L158 204" stroke-opacity="0.24" stroke-width="0.9"/>
<path d="M39 187Q48 185 52 183Q56 182 60 180Q64 178 68 176Q72 174 77 173Q81 171 85 170L90 169" stroke-opacity="0.67" stroke-width="0.9"/>
<path d="M90 169Q98 167 102 165Q107 164 111 162Q115 160 119 157Q122 155 127 154L131 152" stroke-opacity="0.25" stroke-width="0.9"/>
<path d="M72 227Q81 225 85 224Q90 223 94 222Q99 221 103 221Q108 221 112 221Q117 220 121 220Q125 220 130 220Q134 220 139 220L143 220" stroke-opacity="0.67" stroke-width="0.9"/>
<path d="M143 220Q152 221 157 222Q161 222 166 224Q170 225 174 226Q179 227 183 229Q187 230 191 232Q196 233 200 235L204 236" stroke-opacity="0.23" stroke-width="0.9"/>
<path d="M57 229Q63 224 67 221Q70 218 74 215Q78 213 82 211Q85 208 89 206Q93 204 97 201Q101 199 104 196Q108 194 112 191Q116 189 119 186L123 184" stroke-opacity="0.45" stroke-width="0.9"/>
<path d="M123 184Q131 180 136 179Q140 177 144 177Q149 176 153 175Q157 173 162 172Q166 171 170 169Q174 168 179 166Q183 164 187 163Q191 161 195 159L200 158" stroke-opacity="0.37" stroke-width="0.9"/>
<path d="M51 230Q57 223 60 220Q64 217 67 214Q70 211 73 208Q77 205 80 202Q83 199 86 195Q89 192 93 189Q96 186 99 183Q102 180 106 177Q109 174 113 171L116 168" stroke-opacity="0.52" stroke-width="0.9"/>
<path d="M116 168Q123 163 127 160Q131 157 134 155Q138 152 142 150Q146 148 150 146Q154 144 158 143Q163 141 167 139Q171 138 175 136Q179 134 183 132Q187 131 192 129L196 128" stroke-opacity="0.33" stroke-width="0.9"/>
<path d="M24 229Q31 224 35 221Q38 218 41 215Q45 212 48 209Q51 205 54 202L57 198" stroke-opacity="0.52" stroke-width="0.9"/>
<path d="M57 198Q62 191 65 188Q68 185 71 181Q74 178 77 175Q81 172 83 168L86 165" stroke-opacity="0.25" stroke-width="0.9"/>
<path d="M54 181Q58 173 61 169Q63 165 66 162Q69 158 72 155Q75 152 78 148Q81 145 85 142Q88 139 91 135Q94 132 96 128Q99 125 102 121Q105 118 107 114Q110 111 113 107Q115 103 118 100Q121 96 123 92L126 89" stroke-opacity="0.64" stroke-width="0.9"/>
<path d="M126 89Q131 81 134 78Q136 74 139 70Q141 66 144 63Q146 59 148 55Q150 51 152 47Q154 43 156 39Q159 35 161 31Q164 28 166 24Q169 20 172 17Q174 13 178 10Q181 7 184 4Q187 1 191 -2L194 -5" stroke-opacity="0.21" stroke-width="0.9"/>
<path d="M59 210Q63 202 65 198Q67 194 69 190Q71 186 73 182Q75 178 76 174Q78 170 79 165Q80 161 81 157Q82 152 83 148Q83 143 84 139Q85 134 86 130Q87 126 89 121L90 117" stroke-opacity="0.63" stroke-width="0.9"/>
<path d="M90 117Q94 109 96 105Q97 101 99 97Q101 92 102 88Q104 84 106 80Q108 76 110 72Q111 68 113 63Q114 59 115 55Q117 50 118 46Q120 42 122 38L124 34" stroke-opacity="0.35" stroke-width="0.9"/>
<path d="M59 231Q62 222 62 218Q63 213 64 209Q65 205 66 200Q66 196 67 191Q68 187 69 182Q70 178 70 174Q70 169 70 165Q70 160 70 156Q71 151 71 147Q72 142 72 138Q73 133 73 129L73 124" stroke-opacity="0.57" stroke-width="0.9"/>
<path d="M73 124Q72 115 72 111Q72 106 72 102Q72 97 72 93Q72 88 72 84Q72 79 72 75Q71 70 71 66Q71 61 71 57Q70 52 70 48Q70 43 70 39Q70 34 69 30Q68 25 67 21L67 17" stroke-opacity="0.26" stroke-width="0.9"/>
<path d="M34 190Q43 187 47 185Q51 184 56 182Q60 180 64 179Q68 177 72 175Q76 173 80 171L84 169" stroke-opacity="0.35" stroke-width="0.9"/>
<path d="M84 169Q92 165 96 162Q100 160 104 158Q108 155 111 153Q115 151 119 148L123 146" stroke-opacity="0.19" stroke-width="0.9"/>
<path d="M50 232Q56 225 60 223Q63 220 67 217Q70 214 74 211Q77 208 81 206Q84 203 88 201Q92 198 96 196Q100 194 104 191Q107 189 111 187L115 185" stroke-opacity="0.54" stroke-width="0.9"/>
<path d="M115 185Q123 180 127 178Q131 176 135 174Q139 172 143 170Q147 168 151 166Q155 164 160 163Q164 161 168 159Q172 158 176 156Q180 154 184 152L189 151" stroke-opacity="0.23" stroke-width="0.9"/>
<path d="M40 210Q42 201 42 197Q43 193 44 188Q44 184 45 179L45 175" stroke-opacity="0.70" stroke-width="0.9"/>
<path d="M45 175Q48 166 49 162Q50 157 51 153Q52 148 53 144L54 140" stroke-opacity="0.18" stroke-width="0.9"/>
<path d="M45 211Q53 209 58 207Q62 206 66 204Q70 202 74 200Q78 199 83 198Q87 197 92 197Q96 196 101 196Q105 196 110 195Q114 195 119 194Q123 193 127 192Q132 191 136 190Q140 189 145 188L149 187" stroke-opacity="0.44" stroke-width="0.9"/>
<path d="M149 187Q158 185 162 184Q167 184 171 183Q176 183 180 183Q185 183 189 184Q194 185 198 186Q202 187 207 188Q211 188 216 189Q220 190 225 191Q229 192 233 193Q238 194 242 194L247 195" stroke-opacity="0.23" stroke-width="0.9"/>
<path d="M56 185Q65 184 69 183Q74 183 78 181Q83 180 87 180Q92 179 96 178Q100 178 105 177Q109 175 113 174Q118 172 122 171Q126 170 131 169Q135 167 139 166Q143 164 148 163L152 162" stroke-opacity="0.41" stroke-width="0.9"/>
<path d="M152 162Q160 159 165 157Q169 156 173 154Q177 152 181 150Q185 148 190 147Q194 146 198 144Q202 142 206 140Q210 138 214 136Q219 135 223 133Q227 131 231 130L236 129" stroke-opacity="0.34" stroke-width="0.9"/>
<path d="M26 249Q34 245 38 243Q43 242 47 240Q51 239 56 238Q60 237 64 235Q68 233 72 231Q76 229 80 226Q84 224 87 222L91 219" stroke-opacity="0.69" stroke-width="0.9"/>
<path d="M91 219Q99 215 103 212Q107 210 110 207Q113 204 117 201Q121 198 124 195Q127 192 130 189Q133 186 136 182L139 179" stroke-opacity="0.35" stroke-width="0.9"/>
<path d="M60 216Q63 208 65 203Q66 199 67 195Q69 190 71 186Q72 182 74 178Q75 174 77 169Q78 165 79 161Q80 156 81 152Q82 148 82 143Q82 139 82 134Q82 130 82 125L82 121" stroke-opacity="0.57" stroke-width="0.9"/>
<path d="M82 121Q82 112 81 107Q80 103 79 98Q77 94 76 90Q74 86 72 82Q70 78 68 74Q66 70 64 66Q62 62 60 58Q58 54 56 50Q53 46 50 42L48 39" stroke-opacity="0.18" stroke-width="0.9"/>
<path d="M52 198Q60 195 64 194Q69 193 73 191Q77 190 81 188Q86 187 90 186Q94 185 99 184Q103 184 108 184Q112 183 117 182Q121 181 126 181Q130 181 135 180Q139 180 144 181L148 181" stroke-opacity="0.38" stroke-width="0.9"/>
<path d="M148 181Q157 182 162 182Q166 182 171 183Q175 183 180 183Q184 182 189 182Q193 182 197 182Q202 182 206 181Q211 181 215 180Q220 180 224 179Q229 178 233 178Q238 178 242 177L247 176" stroke-opacity="0.37" stroke-width="0.9"/>
<path d="M79 222Q87 218 90 216Q94 213 98 211Q101 208 105 205Q109 203 112 200L115 196" stroke-opacity="0.70" stroke-width="0.9"/>
<path d="M115 196Q120 189 123 185Q125 181 127 178Q130 174 132 170L134 166" stroke-opacity="0.37" stroke-width="0.9"/>
<path d="M78 215Q82 207 84 203Q86 199 88 195Q89 191 92 187Q94 183 96 179Q98 175 101 171Q103 168 105 164Q108 160 110 156Q112 152 115 149Q118 145 121 142Q124 138 127 135L129 131" stroke-opacity="0.43" stroke-width="0.9"/>
<path d="M129 131Q136 125 139 122Q143 119 146 116Q149 113 152 109Q155 106 159 103Q162 100 165 97Q168 93 171 90Q174 86 177 83Q180 80 182 76Q185 73 188 69Q191 66 194 63L197 59" stroke-opacity="0.30" stroke-width="0.9"/>
<path d="M62 207Q63 198 63 194Q63 189 63 185Q63 180 63 176Q64 171 64 167Q65 162 66 158Q67 154 69 149Q70 145 72 141Q73 137 75 132Q77 128 78 124Q80 120 81 116Q83 111 84 107L86 103" stroke-opacity="0.61" stroke-width="0.9"/>
<path d="M86 103Q87 94 88 90Q89 85 89 81Q90 76 90 72Q91 67 91 63Q91 58 92 54Q92 49 93 45Q94 40 95 36Q96 32 97 27Q98 23 99 19Q100 14 102 10Q104 6 105 2L107 -2" stroke-opacity="0.36" stroke-width="0.9"/>
<path d="M69 260Q78 260 83 261Q87 261 92 261Q96 261 101 261Q105 261 110 261Q114 261 119 261L123 262" stroke-opacity="0.43" stroke-width="0.9"/>
<path d="M123 262Q132 263 137 263Q141 263 146 263Q150 264 155 265Q159 266 163 268Q167 270 171 273L175 275" stroke-opacity="0.34" stroke-width="0.9"/>
<path d="M74 238Q79 231 83 228Q86 224 89 222Q93 219 97 216Q100 214 104 211Q108 208 111 205Q115 203 118 200Q122 197 125 194Q129 191 132 188Q136 186 139 183L143 180" stroke-opacity="0.40" stroke-width="0.9"/>
<path d="M143 180Q150 175 153 172Q157 169 160 166Q164 163 166 159Q168 156 170 151Q172 147 174 143Q175 139 176 134Q178 130 179 126Q179 121 180 117Q180 112 181 108L181 103" stroke-opacity="0.28" stroke-width="0.9"/>
<path d="M73 250Q77 242 80 238Q82 234 84 230Q86 226 89 222Q91 218 93 214Q94 210 96 206Q97 201 98 197Q98 193 98 188Q98 184 98 179L99 175" stroke-opacity="0.67" stroke-width="0.9"/>
<path d="M99 175Q98 166 97 161Q96 157 94 153Q92 149 90 144Q88 140 86 136Q84 132 82 128Q80 125 77 121Q74 117 72 114Q69 110 66 107L62 104" stroke-opacity="0.33" stroke-width="0.9"/>
<path d="M70 220Q78 215 82 213Q86 211 90 209Q94 207 98 206Q103 205 107 204Q111 202 116 201Q120 200 124 199Q129 198 133 196Q137 194 141 192Q145 190 149 188L153 187" stroke-opacity="0.56" stroke-width="0.9"/>
<path d="M153 187Q162 184 166 182Q170 180 174 179Q179 177 183 176Q187 174 191 172Q195 170 199 168Q203 165 206 163Q210 160 213 157Q217 154 221 152L224 149" stroke-opacity="0.21" stroke-width="0.9"/>
<path d="M92 205Q95 197 96 193Q97 188 98 184Q99 179 101 175Q102 171 103 166Q104 162 105 158Q106 153 107 149Q108 145 109 140Q110 136 111 131Q112 127 112 122Q113 118 113 113Q113 109 114 104L115 100" stroke-opacity="0.69" stroke-width="0.9"/>
<path d="M115 100Q117 91 119 87Q120 83 122 79Q123 74 125 70Q126 66 128 62Q129 57 130 53Q131 49 132 44Q133 40 134 36Q135 31 136 27Q138 23 139 18Q140 14 141 9L142 5" stroke-opacity="0.24" stroke-width="0.9"/>
<path d="M64 226Q71 221 75 219Q79 217 83 214Q87 212 91 210Q95 208 99 206Q104 205 108 203L112 202" stroke-opacity="0.52" stroke-width="0.9"/>
<path d="M112 202Q120 198 124 196Q128 194 132 191Q136 189 140 187Q144 185 148 183L152 181" stroke-opacity="0.32" stroke-width="0.9"/>
<path d="M36 225Q45 224 50 225Q54 225 58 227Q63 228 67 230L71 231" stroke-opacity="0.65" stroke-width="0.9"/>
<path d="M71 231Q79 235 84 236Q88 238 92 240Q96 241 100 243L104 245" stroke-opacity="0.22" stroke-width="0.9"/>
<path d="M108 193Q111 185 113 181Q115 177 117 173Q119 169 121 165Q124 161 127 158Q130 155 133 151Q136 148 139 145Q142 142 145 138L148 135" stroke-opacity="0.41" stroke-width="0.9"/>
<path d="M148 135Q155 129 157 125Q160 121 163 118Q166 114 169 111Q171 108 175 104Q178 101 181 98Q184 95 188 92L191 89" stroke-opacity="0.34" stroke-width="0.9"/>
<path d="M42 257Q50 255 55 254Q59 253 63 251Q67 250 72 248Q76 247 80 245Q85 244 89 243Q93 242 98 241L102 240" stroke-opacity="0.66" stroke-width="0.9"/>
<path d="M102 240Q111 240 116 240Q120 240 125 240Q129 240 134 239Q138 238 142 237Q147 236 151 236Q156 235 160 234L164 233" stroke-opacity="0.28" stroke-width="0.9"/>
<path d="M104 214Q106 206 107 201Q108 197 109 193Q110 188 111 184Q112 179 113 175Q114 171 116 166L117 162" stroke-opacity="0.49" stroke-width="0.9"/>
<path d="M117 162Q119 153 120 149Q122 145 124 141Q126 137 128 133Q130 129 132 125L134 121" stroke-opacity="0.15" stroke-width="0.9"/>
<path d="M123 262Q129 261 132 261Q135 260 138 260Q141 260 144 260Q147 260 149 260Q152 259 155 260Q158 260 161 261L164 262" stroke-opacity="0.84" stroke-width="1.1"/>
<path d="M96 196Q99 191 101 189Q102 186 104 184L106 182" stroke-opacity="0.68" stroke-width="1.1"/>
<path d="M108 176Q113 172 115 170Q118 168 120 167Q123 166 126 165Q129 164 132 164Q135 164 138 164L141 164" stroke-opacity="0.51" stroke-width="1.1"/>
<path d="M43 202Q48 205 51 206Q54 207 56 209L59 210" stroke-opacity="0.85" stroke-width="1.1"/>
<path d="M38 146Q43 144 46 143Q49 142 52 141Q55 141 58 140Q60 139 63 139Q66 139 69 139L72 140" stroke-opacity="0.49" stroke-width="1.1"/>
<path d="M102 228Q100 222 100 219Q99 217 98 214Q97 211 96 208L94 206" stroke-opacity="0.86" stroke-width="1.1"/>
<path d="M68 158Q65 153 62 151Q60 149 58 148L55 147" stroke-opacity="0.88" stroke-width="1.1"/>
<path d="M87 164Q87 158 87 155Q87 152 86 149L85 146" stroke-opacity="0.65" stroke-width="1.1"/>
<path d="M83 216Q77 216 74 216Q71 216 68 215Q65 214 62 213Q60 212 57 212Q54 211 51 210L48 209" stroke-opacity="0.65" stroke-width="1.1"/>
<path d="M79 181Q84 184 87 184Q90 185 93 185L96 186" stroke-opacity="0.65" stroke-width="1.1"/>
<path d="M35 167Q41 167 43 167Q46 168 49 168Q52 169 55 170Q58 170 61 171Q64 172 66 174Q69 175 72 177L74 178" stroke-opacity="0.74" stroke-width="1.1"/>
<path d="M27 197Q31 202 33 204Q35 207 36 209Q38 211 39 214Q41 217 42 220Q43 222 45 225L46 227" stroke-opacity="0.68" stroke-width="1.1"/>
<path d="M87 153Q84 158 82 160Q80 163 79 165Q77 168 76 171L75 173" stroke-opacity="0.61" stroke-width="1.1"/>
<path d="M64 158Q70 160 72 161L75 162" stroke-opacity="0.89" stroke-width="1.1"/>
<path d="M62 156Q66 161 69 162Q71 164 74 165Q77 166 80 167L83 167" stroke-opacity="0.76" stroke-width="1.1"/>
<path d="M48 244Q44 247 41 249Q38 250 36 252Q34 254 32 256Q30 259 28 261L26 263" stroke-opacity="0.84" stroke-width="1.1"/>
<path d="M78 190Q83 193 85 195Q88 196 90 198Q92 200 94 203L96 205" stroke-opacity="0.82" stroke-width="1.1"/>
<path d="M71 203Q72 209 72 212Q73 215 73 218Q74 221 74 224L74 227" stroke-opacity="0.73" stroke-width="1.1"/>
<path d="M62 235Q67 238 70 240Q72 242 75 243Q78 244 80 245L83 247" stroke-opacity="0.87" stroke-width="1.1"/>
<path d="M61 241Q67 242 70 242Q73 242 76 241L79 240" stroke-opacity="0.58" stroke-width="1.1"/>
<path d="M30 139Q24 138 21 137Q18 137 15 137Q12 136 9 135Q6 134 4 132Q2 130 0 128L-3 126" stroke-opacity="0.90" stroke-width="1.1"/>
<path d="M138 189Q140 183 142 181L144 178" stroke-opacity="0.57" stroke-width="1.1"/>
<path d="M55 140Q61 141 64 141Q67 142 70 142Q73 143 76 143Q79 144 81 146L84 147" stroke-opacity="0.75" stroke-width="1.1"/>
<path d="M66 218Q66 224 67 227Q68 230 68 233Q68 236 68 239L68 242" stroke-opacity="0.52" stroke-width="1.1"/>
<path d="M68 209Q74 211 77 211Q80 211 83 211Q86 210 89 209Q92 208 95 208Q98 208 100 209L103 210" stroke-opacity="0.46" stroke-width="1.1"/>
<path d="M50 215Q54 220 56 222Q58 224 59 227Q60 230 59 233L59 236" stroke-opacity="0.63" stroke-width="1.1"/>
<path d="M118 182Q113 184 110 184Q107 185 104 185Q101 186 98 186Q95 187 92 187Q89 187 86 186L83 186" stroke-opacity="0.54" stroke-width="1.1"/>
<path d="M97 206Q92 210 90 212Q88 214 86 217Q85 219 83 222L82 224" stroke-opacity="0.88" stroke-width="1.1"/>
<path d="M101 169Q107 171 109 173Q111 176 112 179Q113 181 115 183Q117 185 118 188Q119 191 120 194L121 197" stroke-opacity="0.55" stroke-width="1.1"/>
<path d="M57 199Q51 197 49 195L46 194" stroke-opacity="0.60" stroke-width="1.1"/>
<path d="M66 195Q67 201 68 204Q69 206 69 209Q70 212 71 215Q71 218 71 221Q72 224 72 227L71 230" stroke-opacity="0.69" stroke-width="1.1"/>
<path d="M33 219Q38 216 41 214L43 212" stroke-opacity="0.87" stroke-width="1.1"/>
<path d="M69 247Q72 242 73 239Q75 236 77 234Q79 232 80 229Q80 226 80 223Q79 220 78 218L77 215" stroke-opacity="0.66" stroke-width="1.1"/>
<path d="M47 256Q49 262 50 264Q52 267 52 270Q53 273 54 276Q54 279 56 281L57 284" stroke-opacity="0.69" stroke-width="1.1"/>
<path d="M46 200Q52 200 55 201Q58 201 61 202Q64 202 66 203Q69 203 72 203Q75 202 78 202Q81 202 84 201L87 200" stroke-opacity="0.89" stroke-width="1.1"/>
<path d="M95 171Q98 166 100 164Q102 161 103 159L105 156" stroke-opacity="0.47" stroke-width="1.1"/>
<path d="M68 192Q68 198 68 201Q69 204 68 207Q68 210 69 213L69 216" stroke-opacity="0.45" stroke-width="1.1"/>
<path d="M74 255Q79 259 80 262Q82 264 83 267L84 270" stroke-opacity="0.71" stroke-width="1.1"/>
<path d="M98 212Q98 218 98 221Q98 224 97 227Q96 230 95 233Q94 236 94 239L94 242" stroke-opacity="0.85" stroke-width="1.1"/>
<path d="M63 207Q68 210 71 211Q74 213 76 214L79 214" stroke-opacity="0.76" stroke-width="1.1"/>
<path d="M29 251Q30 246 30 243Q31 240 32 237Q33 234 33 231L34 228" stroke-opacity="0.61" stroke-width="1.1"/>
<path d="M71 226Q70 232 70 235Q69 237 67 240Q66 242 64 245L63 248" stroke-opacity="0.75" stroke-width="1.1"/>
<path d="M48 158Q48 152 47 149Q46 146 45 144Q43 141 42 138Q41 135 40 133Q38 130 38 127L37 124" stroke-opacity="0.74" stroke-width="1.1"/>
<path d="M66 152Q68 146 69 143Q69 140 69 137L69 134" stroke-opacity="0.57" stroke-width="1.1"/>
<path d="M46 199Q47 205 48 207Q50 210 52 212Q54 214 56 217Q58 219 60 221L62 223" stroke-opacity="0.53" stroke-width="1.1"/>
<path d="M62 205Q67 208 70 209Q73 210 76 211Q79 211 81 213L84 214" stroke-opacity="0.53" stroke-width="1.1"/>
<path d="M69 239Q73 234 75 232Q76 229 78 227Q79 224 79 221L80 218" stroke-opacity="0.81" stroke-width="1.1"/>
<path d="M83 187Q88 185 91 185Q94 184 97 183Q100 183 103 183Q106 183 109 184Q112 184 115 185L118 186" stroke-opacity="0.74" stroke-width="1.1"/>
<path d="M52 204Q57 207 60 207L63 207" stroke-opacity="0.56" stroke-width="1.1"/>
<path d="M43 235Q37 238 34 238Q31 239 28 240Q26 241 23 242Q20 244 18 245L15 247" stroke-opacity="0.48" stroke-width="1.1"/>
<path d="M143 158Q139 162 138 165Q136 168 135 171Q134 173 133 176Q132 179 131 182L131 185" stroke-opacity="0.76" stroke-width="1.1"/>
<path d="M52 162Q48 159 45 157Q43 155 40 154Q37 152 35 151Q32 151 29 150Q26 150 23 149L20 148" stroke-opacity="0.81" stroke-width="1.1"/>
<path d="M81 232Q75 231 72 231Q69 231 66 231Q63 231 60 230Q57 230 54 230L51 230" stroke-opacity="0.65" stroke-width="1.1"/>
<path d="M46 162Q42 157 40 155Q38 153 35 152L32 151" stroke-opacity="0.77" stroke-width="1.1"/>
<path d="M114 239Q109 237 106 235Q104 234 101 233Q98 232 95 231Q92 230 90 229Q87 228 84 226L81 225" stroke-opacity="0.62" stroke-width="1.1"/>
<path d="M109 244Q111 250 111 253Q111 256 112 258Q113 261 115 264Q117 266 118 269Q120 271 121 274Q121 277 121 280L121 283" stroke-opacity="0.75" stroke-width="1.1"/>
<path d="M75 133Q78 128 79 126Q81 123 83 121Q85 118 87 116Q89 114 91 112Q94 110 96 109Q99 107 101 106L104 104" stroke-opacity="0.59" stroke-width="1.1"/>
<path d="M76 150Q78 156 80 158Q81 161 82 164L82 167" stroke-opacity="0.67" stroke-width="1.1"/>
<path d="M113 182Q112 176 112 173Q111 170 111 167L111 164" stroke-opacity="0.53" stroke-width="1.1"/>
<path d="M26 198Q25 204 25 207Q25 210 24 213Q24 216 24 219Q23 221 22 224L22 227" stroke-opacity="0.56" stroke-width="1.1"/>
<path d="M46 212Q50 207 52 205Q54 203 56 201L57 198" stroke-opacity="0.56" stroke-width="1.1"/>
<path d="M118 230Q112 231 109 231Q106 232 103 233Q101 235 98 235Q95 236 92 236Q89 237 87 239L84 241" stroke-opacity="0.83" stroke-width="1.1"/>
<path d="M46 145Q40 143 37 143Q34 143 31 143Q28 143 25 144Q22 145 19 145Q16 145 14 146L11 147" stroke-opacity="0.64" stroke-width="1.1"/>
<path d="M50 246Q55 242 57 240Q59 238 62 237Q64 235 66 232Q68 230 70 228Q72 226 74 224L77 222" stroke-opacity="0.80" stroke-width="1.1"/>
<path d="M33 179Q28 177 25 177Q22 176 19 174Q17 172 14 171Q12 169 9 168Q6 167 3 166L0 165" stroke-opacity="0.54" stroke-width="1.1"/>
<path d="M25 188Q27 182 27 179Q28 176 28 173Q28 170 29 167Q30 164 31 162Q33 159 34 156L35 153" stroke-opacity="0.79" stroke-width="1.1"/>
<path d="M48 235Q49 241 49 244Q49 247 49 250Q48 253 48 256Q48 259 48 262L47 265" stroke-opacity="0.47" stroke-width="1.1"/>
<path d="M58 191Q64 190 67 190Q70 189 72 187Q75 186 78 185Q81 183 83 181L85 179" stroke-opacity="0.57" stroke-width="1.1"/>
<path d="M83 193Q83 199 83 202Q83 205 84 208Q85 211 86 214Q87 217 87 220Q88 223 89 225Q90 228 90 231L91 234" stroke-opacity="0.88" stroke-width="1.1"/>
<path d="M70 157Q64 159 62 161Q59 162 56 163Q54 165 51 166L48 168" stroke-opacity="0.89" stroke-width="1.1"/>
<path d="M25 187Q19 188 16 187Q13 187 10 187Q7 187 5 186L2 186" stroke-opacity="0.85" stroke-width="1.1"/>
<path d="M88 233Q91 239 91 242Q90 245 90 248Q90 251 89 253Q88 256 86 259Q85 261 83 264Q82 266 80 269L78 271" stroke-opacity="0.65" stroke-width="1.1"/>
<path d="M140 214Q136 209 134 207Q131 205 130 203Q128 200 126 198Q124 196 122 194L120 191" stroke-opacity="0.86" stroke-width="1.1"/>
<path d="M70 153Q68 158 67 161Q66 164 66 167Q66 170 66 173Q65 176 65 179Q65 182 65 185Q65 188 63 191L61 193" stroke-opacity="0.80" stroke-width="1.1"/>
<path d="M54 216Q51 221 50 224Q48 226 48 229Q47 232 47 235Q47 238 47 241L47 244" stroke-opacity="0.59" stroke-width="1.1"/>
<path d="M40 188Q42 183 42 180Q43 177 43 174Q44 171 44 168L44 165" stroke-opacity="0.89" stroke-width="1.1"/>
<path d="M39 270Q34 268 31 268Q28 268 25 267Q22 267 19 267L16 267" stroke-opacity="0.78" stroke-width="1.1"/>
<path d="M60 156Q61 162 61 165Q61 168 61 171Q61 174 61 177L61 180" stroke-opacity="0.63" stroke-width="1.1"/>
<path d="M113 225Q117 230 119 232Q121 234 121 237Q122 240 121 243Q121 246 121 249Q121 252 122 255L122 258" stroke-opacity="0.78" stroke-width="1.1"/>
<path d="M97 218Q100 223 102 225Q103 228 105 230Q106 233 109 235L112 236" stroke-opacity="0.58" stroke-width="1.1"/>
<path d="M51 217Q49 223 49 226Q49 229 48 232L47 235" stroke-opacity="0.64" stroke-width="1.1"/>
<path d="M36 251Q38 245 38 242Q38 239 40 236Q41 234 42 231Q44 228 45 226L46 223" stroke-opacity="0.64" stroke-width="1.1"/>
<path d="M66 209Q61 212 59 214Q57 216 54 218Q52 221 50 222L47 224" stroke-opacity="0.87" stroke-width="1.1"/>
<path d="M36 168Q36 174 36 177Q36 180 36 183Q36 186 36 189Q36 192 36 195L35 198" stroke-opacity="0.45" stroke-width="1.1"/>
<path d="M68 189Q62 191 59 192L56 193" stroke-opacity="0.74" stroke-width="1.1"/>
<path d="M41 190Q36 186 34 183Q33 181 32 178Q31 175 30 172L30 169" stroke-opacity="0.73" stroke-width="1.1"/>
<path d="M53 210Q47 210 44 211Q41 211 38 211Q35 211 32 212Q29 213 26 215L24 216" stroke-opacity="0.77" stroke-width="1.1"/>
<path d="M91 137Q85 138 82 138Q79 138 76 139L73 139" stroke-opacity="0.59" stroke-width="1.1"/>
<path d="M89 135Q90 141 91 143Q92 146 92 149Q93 152 94 155Q95 158 96 161L96 164" stroke-opacity="0.64" stroke-width="1.1"/>
<path d="M101 186Q100 180 100 177Q100 175 100 172Q100 169 99 166Q98 163 97 160L96 157" stroke-opacity="0.83" stroke-width="1.1"/>
<path d="M43 143Q40 149 38 151Q36 153 34 155Q32 158 31 160L29 163" stroke-opacity="0.52" stroke-width="1.1"/>
<path d="M64 163Q69 167 71 168Q74 169 77 170L80 170" stroke-opacity="0.59" stroke-width="1.1"/>
<path d="M60 179Q54 178 51 177Q48 176 46 174Q43 173 40 172L37 171" stroke-opacity="0.67" stroke-width="1.1"/>
<path d="M33 232Q29 236 26 237Q23 238 20 240Q18 241 15 243Q13 245 11 246L8 248" stroke-opacity="0.51" stroke-width="1.1"/>
<path d="M29 216Q25 211 23 209L21 207" stroke-opacity="0.84" stroke-width="1.1"/>
<path d="M136 168Q130 168 127 168Q124 169 121 168Q119 167 116 165Q114 163 111 161L109 160" stroke-opacity="0.77" stroke-width="1.1"/>
<path d="M99 184Q97 179 96 176Q94 173 93 171L91 168" stroke-opacity="0.89" stroke-width="1.1"/>
<path d="M66 196Q71 198 73 200Q76 202 78 204Q81 206 83 208Q85 210 87 212Q90 213 92 215L95 216" stroke-opacity="0.88" stroke-width="1.1"/>
<path d="M54 136Q60 134 63 134Q66 133 69 134Q72 134 75 134L78 134" stroke-opacity="0.68" stroke-width="1.1"/>
<path d="M134 240Q137 245 138 248Q140 251 141 253Q142 256 144 259Q145 261 147 264L148 266" stroke-opacity="0.63" stroke-width="1.1"/>
<path d="M42 227Q47 224 50 222Q53 221 55 219Q58 218 60 216L63 215" stroke-opacity="0.83" stroke-width="1.1"/>
<path d="M44 128Q39 131 37 132Q34 134 32 136Q30 138 28 140L25 142" stroke-opacity="0.83" stroke-width="1.1"/>
<path d="M77 197Q78 191 78 188Q78 185 79 182Q80 179 81 176Q83 174 84 171Q85 168 86 165Q87 162 87 160L88 157" stroke-opacity="0.79" stroke-width="1.1"/>
<path d="M37 263Q41 258 43 256L45 253" stroke-opacity="0.49" stroke-width="1.1"/>
<path d="M38 135Q44 137 46 138Q49 140 52 140L55 140" stroke-opacity="0.68" stroke-width="1.1"/>
<path d="M121 227Q121 233 122 236L123 239" stroke-opacity="0.74" stroke-width="1.1"/>
<path d="M38 181Q35 186 33 189Q31 191 29 193Q27 195 25 197Q23 200 21 202Q18 203 16 205L14 207" stroke-opacity="0.49" stroke-width="1.1"/>
<path d="M34 191Q30 186 28 184Q26 182 25 179Q23 177 21 174L20 171" stroke-opacity="0.46" stroke-width="1.1"/>
<path d="M64 270Q63 276 63 279Q63 282 62 285Q62 288 61 291Q60 294 59 297L58 299" stroke-opacity="0.83" stroke-width="1.1"/>
<path d="M116 190Q121 194 123 196Q124 199 127 200Q129 202 131 204Q134 206 135 209Q137 211 139 213Q141 215 143 218L144 221" stroke-opacity="0.86" stroke-width="1.1"/>
<path d="M102 211Q102 205 102 202Q101 199 101 196L100 193" stroke-opacity="0.55" stroke-width="1.1"/>
<path d="M27 130Q24 125 22 122Q20 120 18 118Q16 116 14 113Q11 111 10 109Q8 107 6 104Q4 102 2 99L1 97" stroke-opacity="0.60" stroke-width="1.1"/>
<path d="M43 159Q39 155 37 153Q35 151 32 150L30 148" stroke-opacity="0.76" stroke-width="1.1"/>
<path d="M61 219Q55 216 53 214Q50 213 47 212Q45 210 42 209L39 209" stroke-opacity="0.61" stroke-width="1.1"/>
<path d="M88 216Q89 222 89 224Q90 227 90 230Q91 233 91 236Q90 239 89 242L88 245" stroke-opacity="0.71" stroke-width="1.1"/>
<path d="M75 151Q73 145 73 142Q73 139 74 136Q75 133 75 130L76 127" stroke-opacity="0.75" stroke-width="1.1"/>
<path d="M25 228Q25 234 26 237Q26 240 27 242Q27 245 28 248L30 251" stroke-opacity="0.82" stroke-width="1.1"/>
<path d="M54 197Q58 201 60 204L62 206" stroke-opacity="0.84" stroke-width="1.1"/>
<path d="M64 135Q66 129 68 127Q70 125 72 123Q74 121 76 118L78 116" stroke-opacity="0.82" stroke-width="1.1"/>
<path d="M83 186Q78 189 76 191Q74 194 71 195Q69 197 66 199L64 201" stroke-opacity="0.62" stroke-width="1.1"/>
<path d="M60 236Q66 238 69 239Q71 240 74 242Q76 243 78 246Q81 248 83 250Q85 252 87 253L90 255" stroke-opacity="0.55" stroke-width="1.1"/>
<path d="M44 244Q39 242 37 240Q34 238 32 236Q30 234 29 231Q27 229 25 227Q22 225 20 224L17 222" stroke-opacity="0.88" stroke-width="1.1"/>
<path d="M95 180Q91 175 90 172Q88 170 86 167L85 165" stroke-opacity="0.57" stroke-width="1.1"/>
<path d="M48 231Q43 234 40 235Q38 236 35 237Q32 237 29 237Q26 237 23 237L20 237" stroke-opacity="0.70" stroke-width="1.1"/>
<path d="M76 200Q71 199 68 199L65 198" stroke-opacity="0.65" stroke-width="1.1"/>
<path d="M34 218Q40 219 43 219Q46 219 49 220Q52 221 55 221Q58 221 61 222Q64 223 67 224L70 224" stroke-opacity="0.59" stroke-width="1.1"/>
<path d="M111 197Q106 193 104 191Q102 189 100 187Q97 185 95 184Q92 183 90 180Q89 178 88 175Q86 172 86 169L85 166" stroke-opacity="0.77" stroke-width="1.1"/>
<path d="M85 177Q88 182 88 185Q88 188 90 191Q91 193 92 196Q93 199 95 201Q97 204 99 206Q102 207 103 210L105 212" stroke-opacity="0.86" stroke-width="1.1"/>
<path d="M62 241Q57 238 54 236Q51 235 49 234Q46 232 43 231L40 231" stroke-opacity="0.81" stroke-width="1.1"/>
<path d="M61 259Q67 257 70 257L73 257" stroke-opacity="0.82" stroke-width="1.1"/>
<path d="M45 197Q47 191 49 189Q51 187 54 186Q57 184 60 184Q63 184 66 184Q69 184 72 184L75 185" stroke-opacity="0.71" stroke-width="1.1"/>
<path d="M60 159Q58 153 56 151Q55 148 53 146Q51 143 49 141Q47 139 45 137L43 135" stroke-opacity="0.80" stroke-width="1.1"/>
<path d="M87 232Q93 231 96 229Q98 228 101 226Q104 225 107 225L110 224" stroke-opacity="0.49" stroke-width="1.1"/>
<path d="M64 219Q58 219 55 221Q52 222 50 223Q47 224 44 225L42 227" stroke-opacity="0.60" stroke-width="1.1"/>
<path d="M51 139Q57 140 60 139Q63 139 66 139Q69 138 72 138L75 137" stroke-opacity="0.52" stroke-width="1.1"/>
<path d="M79 213Q76 208 76 205Q75 202 76 199Q76 196 76 193Q76 190 75 187Q75 184 76 182L76 179" stroke-opacity="0.46" stroke-width="1.1"/>
<path d="M49 233Q54 236 57 237Q59 239 62 240Q65 241 68 242Q70 244 73 245Q75 247 77 249Q79 252 82 253L84 255" stroke-opacity="0.63" stroke-width="1.1"/>
<path d="M97 178Q99 172 100 169Q102 166 102 164Q103 161 104 158Q105 155 106 152Q107 149 108 147Q110 144 112 142L113 139" stroke-opacity="0.58" stroke-width="1.1"/>
<path d="M60 214Q66 214 69 215Q72 215 75 216Q78 217 81 218Q84 219 87 219L90 220" stroke-opacity="0.79" stroke-width="1.1"/>
<path d="M33 197Q36 203 37 206L38 208" stroke-opacity="0.86" stroke-width="1.1"/>
<path d="M49 187Q51 179 53 176Q54 172 56 168Q57 164 59 161Q60 157 61 153Q63 149 65 146Q68 143 70 140Q73 137 75 134Q78 131 80 128Q83 124 85 121Q88 118 91 116L94 113" stroke-opacity="0.40" stroke-width="0.9"/>
<path d="M35 144Q35 136 36 132Q37 129 37 125Q38 121 38 117Q38 113 37 109Q37 105 36 101L36 97" stroke-opacity="0.31" stroke-width="0.9"/>
<path d="M41 166Q44 158 45 155Q47 151 48 147L49 143" stroke-opacity="0.56" stroke-width="0.9"/>
<path d="M29 174Q30 166 32 162Q33 159 35 155Q37 151 39 148Q41 144 42 141Q44 137 46 133Q48 130 50 126Q51 123 53 119Q56 116 58 113Q61 110 63 107L66 104" stroke-opacity="0.45" stroke-width="0.9"/>
<path d="M42 188Q42 180 42 176Q42 172 42 168Q43 164 43 160Q43 156 44 152Q45 149 47 145Q48 141 50 137Q52 134 53 130Q55 127 56 123Q57 119 58 115Q60 112 62 108L63 104" stroke-opacity="0.35" stroke-width="0.9"/>
<path d="M65 138Q68 130 70 127Q71 123 73 119Q74 116 75 112Q76 108 77 104Q77 100 78 96Q79 92 80 88Q81 84 82 80Q83 77 84 73Q84 69 85 65Q85 61 86 57L86 53" stroke-opacity="0.57" stroke-width="0.9"/>
<path d="M45 190Q46 182 46 178Q47 174 47 170Q48 166 48 162Q49 158 49 154Q49 150 49 146Q49 142 49 138L48 134" stroke-opacity="0.34" stroke-width="0.9"/>
<path d="M40 172Q39 164 40 160Q40 156 40 152Q40 148 40 144Q40 140 40 136Q41 132 41 128Q41 124 41 120Q41 116 42 112Q42 108 42 104Q43 100 44 97Q44 93 45 89L45 85" stroke-opacity="0.39" stroke-width="0.9"/>
<path d="M71 147Q74 140 76 136Q78 133 79 129L80 125" stroke-opacity="0.53" stroke-width="0.9"/>
<path d="M65 178Q64 170 63 166Q63 162 63 158Q62 154 63 150Q64 146 65 142Q65 138 65 134Q65 130 65 126L65 122" stroke-opacity="0.56" stroke-width="0.9"/>
<path d="M66 145Q67 137 68 133Q68 129 69 125Q69 121 70 117Q71 113 72 110Q73 106 74 102Q75 98 76 94Q76 90 78 86Q79 82 80 78Q81 75 81 71Q82 67 83 63L85 59" stroke-opacity="0.52" stroke-width="0.9"/>
<path d="M74 139Q72 131 71 127Q70 123 69 119Q68 116 66 112Q65 108 63 105Q61 101 59 97Q58 94 55 91Q53 88 50 84Q48 81 45 78L42 75" stroke-opacity="0.47" stroke-width="0.9"/>
<path d="M34 195Q32 187 31 183Q30 179 29 175Q28 171 27 167Q26 164 25 160Q25 156 24 152Q24 148 24 144Q24 140 23 136Q22 132 21 128L20 124" stroke-opacity="0.38" stroke-width="0.9"/>
<path d="M48 176Q49 168 48 164Q48 160 49 156Q49 152 49 148Q50 144 50 140Q51 136 51 132L51 128" stroke-opacity="0.35" stroke-width="0.9"/>
<path d="M44 184Q46 176 47 172Q48 169 50 165Q51 161 53 157Q55 154 57 151Q59 147 62 145Q65 142 68 139Q70 136 73 133Q76 130 78 127Q81 124 83 121Q86 118 89 115L91 112" stroke-opacity="0.50" stroke-width="0.9"/>
<path d="M74 170Q73 162 73 158Q73 154 73 150Q73 146 73 142L73 138" stroke-opacity="0.38" stroke-width="0.9"/>
<path d="M32 191Q36 184 37 181Q39 177 41 173Q42 170 43 166Q45 162 45 158Q46 154 47 150Q47 146 47 142Q47 138 47 134Q47 130 46 126L46 122" stroke-opacity="0.54" stroke-width="0.9"/>
<path d="M69 146Q68 138 68 134Q68 130 68 126L68 122" stroke-opacity="0.40" stroke-width="0.9"/>
<path d="M32 193Q31 186 30 182Q29 178 28 174L27 170" stroke-opacity="0.30" stroke-width="0.9"/>
<path d="M26 191Q25 183 24 179Q24 175 23 171Q23 167 23 163Q22 159 23 155Q23 151 23 147Q24 143 25 139L25 135" stroke-opacity="0.59" stroke-width="0.9"/>
<path d="M26 188Q26 180 26 176Q26 172 26 168Q25 164 24 160Q23 157 22 153Q21 149 20 145Q19 141 18 137Q17 133 16 130Q15 126 14 122Q12 118 11 114Q10 110 9 107L7 103" stroke-opacity="0.36" stroke-width="0.9"/>
<path d="M67 155Q67 147 67 143Q67 139 67 135Q67 131 67 127Q68 123 68 119Q68 115 68 111Q68 107 68 103Q68 99 69 95Q69 91 70 87Q71 84 71 80Q72 76 73 72L74 68" stroke-opacity="0.50" stroke-width="0.9"/>
<path d="M41 136Q43 129 44 125Q45 121 46 117Q47 113 48 109Q49 105 50 102Q52 98 53 94Q54 90 56 87Q58 83 60 80Q62 76 64 73Q66 69 68 66L70 62" stroke-opacity="0.30" stroke-width="0.9"/>
<path d="M59 179Q59 171 59 167Q58 163 57 159Q57 155 55 152Q53 148 52 144Q50 141 50 137Q49 133 49 129L48 125" stroke-opacity="0.50" stroke-width="0.9"/>
<path d="M39 158Q41 150 41 146Q42 142 43 138Q43 134 43 130Q44 126 45 122Q46 118 47 115Q49 111 51 107Q52 104 54 100Q56 97 58 93Q60 90 63 87L65 83" stroke-opacity="0.53" stroke-width="0.9"/>
<path d="M26 163Q26 155 26 151Q26 147 27 143Q28 139 28 135Q29 131 29 128Q30 124 31 120Q32 116 33 112Q34 108 34 104Q35 100 36 96L37 92" stroke-opacity="0.46" stroke-width="0.9"/>
<path d="M64 138Q66 130 66 126Q67 122 67 118Q67 114 68 111Q69 107 69 103Q70 99 72 95L73 91" stroke-opacity="0.51" stroke-width="0.9"/>
<path d="M69 187Q71 180 73 176Q75 172 77 169Q79 166 81 162Q83 159 85 155Q87 152 89 148L91 145" stroke-opacity="0.45" stroke-width="0.9"/>
<path d="M41 173Q45 165 46 162Q46 158 48 154Q49 150 50 146L51 142" stroke-opacity="0.35" stroke-width="0.9"/>
<path d="M67 162Q70 155 73 152Q75 148 78 146Q81 143 84 141Q88 138 91 136Q94 134 98 132Q101 129 104 127Q107 124 110 122Q113 119 116 116L118 113" stroke-opacity="0.44" stroke-width="0.9"/>
<path d="M53 134Q50 127 49 123Q48 119 46 115Q44 112 42 108Q40 105 37 102Q34 99 31 96Q28 94 25 91L22 89" stroke-opacity="0.53" stroke-width="0.9"/>
<path d="M57 144Q57 136 57 132Q57 128 56 124Q55 120 55 116Q54 112 54 108Q53 104 53 100Q53 96 52 92L52 88" stroke-opacity="0.31" stroke-width="0.9"/>
<path d="M50 137Q50 129 49 125Q49 121 49 117Q50 113 50 109Q50 105 50 101Q50 97 50 93Q49 89 50 85Q50 81 50 77Q50 73 51 69L51 65" stroke-opacity="0.59" stroke-width="0.9"/>
<path d="M37 149Q35 142 34 138Q34 134 33 130Q33 126 32 122Q32 118 32 114Q32 110 33 106Q33 102 34 98Q34 94 35 90Q37 86 38 82Q39 79 40 75Q41 71 41 67L42 63" stroke-opacity="0.44" stroke-width="0.9"/>
<path d="M95 73Q89 79 87 82Q85 85 82 88Q80 92 78 95Q76 99 74 102Q72 106 70 109L68 113" stroke-opacity="0.52" stroke-width="1.0"/>
<path d="M87 90Q83 97 81 101Q79 105 77 108Q76 112 74 116Q73 119 71 123L69 127" stroke-opacity="0.47" stroke-width="1.0"/>
<path d="M100 67Q96 74 94 78Q93 81 91 85Q89 88 87 91Q84 95 82 98Q81 102 79 106Q77 109 76 113Q74 116 72 120L70 123" stroke-opacity="0.69" stroke-width="1.0"/>
<path d="M94 78Q89 84 86 87Q83 90 80 92Q78 95 75 98Q72 101 69 104L66 107" stroke-opacity="0.62" stroke-width="1.0"/>
<path d="M101 67Q96 72 94 76Q91 79 89 82Q86 85 84 88Q81 91 78 94L76 97" stroke-opacity="0.49" stroke-width="1.0"/>
<path d="M95 73Q91 79 88 82Q86 86 83 89Q81 92 78 95Q75 98 72 100Q70 103 67 106Q64 109 61 111Q58 114 55 117Q52 120 49 123L46 125" stroke-opacity="0.48" stroke-width="1.0"/>
<path d="M81 93Q77 100 75 103Q73 107 71 110Q69 114 67 117Q64 120 62 123L60 127" stroke-opacity="0.51" stroke-width="1.0"/>
<path d="M88 87Q84 94 82 97Q80 101 77 104Q75 107 73 110Q71 114 68 117L66 120" stroke-opacity="0.66" stroke-width="1.0"/>
<path d="M87 81Q83 88 81 92Q79 95 76 98Q73 101 71 104Q68 106 65 109Q62 112 59 115Q56 118 53 121L51 123" stroke-opacity="0.63" stroke-width="1.0"/>
<path d="M91 80Q86 86 84 89Q81 92 79 95Q77 98 74 102Q72 105 69 108Q67 111 65 114Q62 118 60 121Q57 124 55 127Q53 131 50 134L48 137" stroke-opacity="0.67" stroke-width="1.0"/>
<path d="M135 244Q144 239 148 236Q152 234 157 231Q161 229 165 226Q170 224 174 221Q178 218 182 215Q186 213 191 210Q195 208 199 205Q204 203 208 200Q212 197 216 194Q220 191 224 189L228 186" stroke-opacity="0.34" stroke-width="0.9"/>
<path d="M117 218Q125 212 129 209Q133 206 137 203Q141 199 145 196Q149 193 153 190Q157 187 161 185Q165 182 170 180Q174 178 178 175Q183 173 187 171Q192 168 196 166Q201 165 206 163Q210 161 215 158Q219 156 224 154L228 152" stroke-opacity="0.21" stroke-width="0.9"/>
<path d="M114 277Q123 274 128 273Q133 272 138 271Q143 269 148 268Q152 266 157 265Q162 263 167 262Q172 260 176 258Q181 256 185 254Q190 252 194 250L199 249" stroke-opacity="0.22" stroke-width="0.9"/>
<path d="M156 273Q162 265 164 261Q166 256 169 252Q172 248 175 244Q178 240 181 236Q183 231 187 228Q190 224 193 220Q196 216 199 212L203 209" stroke-opacity="0.31" stroke-width="0.9"/>
<path d="M164 194Q173 189 177 186Q182 184 186 182Q191 179 195 176Q199 174 203 171Q207 168 211 165L216 163" stroke-opacity="0.19" stroke-width="0.9"/>
<path d="M174 261Q182 255 186 252Q190 249 194 246Q198 243 203 241Q207 238 211 235Q215 233 219 230Q223 227 227 224Q231 221 235 218Q239 215 243 212Q247 209 251 206Q255 203 260 200Q264 197 268 194Q272 191 276 188L280 185" stroke-opacity="0.25" stroke-width="0.9"/>
<path d="M191 266Q200 262 205 261Q209 259 214 258Q219 256 224 256Q229 255 234 254Q239 253 244 252Q249 252 254 251Q258 250 263 249Q268 249 273 248Q278 248 283 248L288 247" stroke-opacity="0.26" stroke-width="0.9"/>
<path d="M158 192Q164 184 167 180Q170 176 173 172Q176 168 178 163Q180 159 182 154L184 150" stroke-opacity="0.27" stroke-width="0.9"/>
<path d="M169 201Q178 197 183 195Q187 193 192 191Q197 189 201 187Q206 185 210 183Q215 181 220 179Q224 177 229 175Q234 174 238 172Q243 171 248 169Q253 168 257 166Q262 165 267 163L272 162" stroke-opacity="0.31" stroke-width="0.9"/>
<path d="M219 258Q227 253 232 250Q236 247 240 244Q244 241 248 238Q252 235 256 232Q260 229 263 226Q267 222 271 219Q274 215 277 211Q281 208 284 204Q288 201 291 197Q295 194 299 190Q302 187 306 183Q309 179 312 176L315 172" stroke-opacity="0.26" stroke-width="0.9"/>
<path d="M105 193Q113 187 117 184Q121 181 125 179Q129 176 134 174Q138 171 142 168L146 166" stroke-opacity="0.25" stroke-width="0.9"/>
<path d="M160 244Q168 238 172 235Q176 232 180 229Q185 227 189 224Q193 221 197 219Q202 216 206 214Q211 211 215 209Q220 207 224 205Q229 203 233 201Q238 199 242 197Q247 195 252 193L256 191" stroke-opacity="0.26" stroke-width="0.9"/>
<path d="M106 267Q113 260 117 257Q121 254 125 251Q129 248 133 245Q137 242 141 239Q145 236 149 233Q153 230 158 228Q162 225 166 222Q170 219 174 217Q178 214 182 211Q187 208 191 205Q195 202 199 199Q203 196 207 193L211 190" stroke-opacity="0.23" stroke-width="0.9"/>
<path d="M136 259Q145 256 150 255Q155 254 160 252Q165 251 169 249Q174 248 179 246Q183 244 188 242L192 239" stroke-opacity="0.31" stroke-width="0.9"/>
<path d="M149 267Q158 262 162 259Q166 257 171 255Q175 252 179 249Q183 247 188 244Q192 241 196 239Q201 237 205 234L210 232" stroke-opacity="0.31" stroke-width="0.9"/>
<path d="M171 229Q179 222 182 219Q186 216 190 213Q194 209 198 206Q202 203 206 200Q209 197 213 193Q217 190 220 186Q224 183 228 180Q231 176 235 173L239 170" stroke-opacity="0.16" stroke-width="0.9"/>
<path d="M153 247Q161 241 165 238Q169 236 174 233Q178 230 182 227Q186 224 189 221L193 217" stroke-opacity="0.25" stroke-width="0.9"/>
<path d="M226 258Q235 254 240 251Q244 249 248 246Q253 244 256 240Q260 237 264 234Q268 231 272 228L275 224" stroke-opacity="0.28" stroke-width="0.9"/>
<path d="M128 283Q137 279 142 277Q146 276 151 274Q156 272 160 270Q165 269 170 268Q175 268 180 267Q185 267 190 267Q195 266 200 266Q205 266 210 265L215 265" stroke-opacity="0.35" stroke-width="0.9"/>
<path d="M128 278Q137 275 142 273Q146 271 151 269Q156 268 160 266Q165 264 170 263Q175 262 180 261Q185 259 189 259Q194 258 199 258Q204 257 209 257Q214 256 219 256L224 255" stroke-opacity="0.28" stroke-width="0.9"/>
<path d="M169 258Q178 254 182 252Q187 249 191 246Q195 244 199 241Q203 239 207 235Q211 232 215 229L219 226" stroke-opacity="0.21" stroke-width="0.9"/>
<path d="M141 255Q150 251 154 249Q159 247 164 245Q168 243 173 241Q177 239 182 236Q186 234 190 232Q195 230 199 227Q203 225 208 222Q212 219 216 216Q220 214 225 212Q230 211 235 209Q239 207 244 206L249 204" stroke-opacity="0.23" stroke-width="0.9"/>
<path d="M115 211Q124 206 128 204Q133 203 138 201Q143 200 147 198Q152 197 157 196Q162 194 167 193Q172 192 176 190Q181 189 186 188Q191 187 196 186Q201 185 206 184L211 183" stroke-opacity="0.23" stroke-width="0.9"/>
<path d="M115 233Q121 225 123 221Q126 217 129 213Q132 209 136 205Q139 202 143 198L146 194" stroke-opacity="0.28" stroke-width="0.9"/>
<path d="M138 232Q145 224 148 220Q150 216 154 212Q157 209 160 205Q163 201 167 197Q170 194 174 191Q178 187 182 184Q186 181 190 179Q194 176 199 174Q204 173 208 171Q213 168 217 166Q222 164 226 162L231 160" stroke-opacity="0.17" stroke-width="0.9"/>
<path d="M132 223Q141 219 146 218Q150 216 155 214Q160 213 164 211Q169 208 173 206Q178 204 182 202Q187 200 192 198Q196 196 201 194Q206 193 210 191Q215 190 220 188Q225 187 229 185L234 184" stroke-opacity="0.37" stroke-width="0.9"/>
<path d="M119 279Q127 274 132 271Q136 269 141 267Q145 265 150 263Q154 261 159 259Q164 258 169 256Q174 255 178 254Q183 252 188 251L193 249" stroke-opacity="0.37" stroke-width="0.9"/>
<path d="M136 249Q145 244 149 241Q153 238 157 235Q161 232 166 230Q170 227 174 225Q179 222 183 220Q188 218 192 215Q196 213 200 210Q204 206 208 203Q212 200 216 197Q220 194 224 191L227 188" stroke-opacity="0.29" stroke-width="0.9"/>
<path d="M205 248Q212 240 216 237Q219 234 223 231Q227 227 231 224Q234 220 237 216Q240 212 243 208Q246 204 249 200Q252 197 255 193Q258 188 262 185Q265 181 268 177Q271 173 274 169Q276 164 279 160Q282 156 284 152L286 147" stroke-opacity="0.16" stroke-width="0.9"/>
<path d="M227 193Q233 184 235 180Q238 176 241 172Q244 168 248 164Q251 161 255 157L258 154" stroke-opacity="0.21" stroke-width="0.9"/>
<path d="M159 278Q168 274 173 272Q177 269 182 267Q186 265 191 264Q196 262 200 260Q205 258 210 256Q214 255 219 253Q224 251 228 249Q233 248 238 246L243 245" stroke-opacity="0.19" stroke-width="0.9"/>
<path d="M163 280Q172 274 176 271Q180 268 184 265Q188 262 192 259Q195 256 199 253Q203 250 207 246Q211 243 215 240Q218 236 222 233Q226 230 229 226Q233 223 237 220Q241 216 244 213L248 210" stroke-opacity="0.34" stroke-width="0.9"/>
<path d="M167 214Q174 208 178 204Q182 201 186 198Q190 196 195 193Q199 191 204 189Q208 187 212 184Q216 181 220 178L224 175" stroke-opacity="0.30" stroke-width="0.9"/>
<path d="M153 236Q162 232 167 230Q171 228 176 226Q180 224 185 222Q189 219 194 217L198 215" stroke-opacity="0.23" stroke-width="0.9"/>
<path d="M226 209Q233 203 237 199Q240 196 244 192Q248 189 252 186Q255 182 259 179Q263 176 267 173Q271 171 275 168Q280 165 284 162Q288 159 292 156Q296 153 300 150Q304 147 308 145Q312 142 317 140L321 137" stroke-opacity="0.32" stroke-width="0.9"/>
<path d="M198 278Q206 274 210 271Q215 268 219 265Q223 263 227 260Q232 257 236 254Q240 252 244 249Q248 246 252 242Q255 239 259 236Q262 232 266 228Q269 225 273 221L276 218" stroke-opacity="0.35" stroke-width="0.9"/>
<path d="M106 205Q113 198 117 195Q121 192 125 189Q129 186 133 183Q136 179 140 176L144 173" stroke-opacity="0.22" stroke-width="0.9"/>
<path d="M181 269Q187 261 189 257Q192 253 195 249Q197 244 200 240Q202 236 205 231Q208 227 210 223Q213 219 216 214Q218 210 221 206Q223 202 226 197L229 193" stroke-opacity="0.27" stroke-width="0.9"/>
<path d="M127 179Q128 169 129 164Q129 159 129 154Q129 149 130 144Q130 139 130 134Q130 129 130 124Q130 119 130 114Q130 109 129 104Q128 99 127 94L125 90" stroke-opacity="0.27" stroke-width="0.9"/>
<path d="M173 182Q171 172 170 167Q169 162 168 158Q166 153 165 148Q163 143 162 138Q161 134 159 129Q157 124 156 119Q155 114 153 110Q152 105 151 100L149 95" stroke-opacity="0.28" stroke-width="0.9"/>
<path d="M144 178Q144 168 145 163Q145 158 146 153Q146 148 147 143Q148 138 149 133Q149 128 149 123Q150 118 150 113Q149 108 148 104L146 99" stroke-opacity="0.37" stroke-width="0.9"/>
<path d="M137 196Q139 186 141 181Q142 176 144 172Q145 167 147 162Q149 157 150 153Q151 148 152 143Q153 138 155 133Q157 129 159 124Q161 119 162 115L164 110" stroke-opacity="0.32" stroke-width="0.9"/>
<path d="M159 169Q161 159 162 154Q163 149 164 144Q165 140 167 135Q168 130 170 126Q173 121 174 116Q176 112 177 107L178 102" stroke-opacity="0.33" stroke-width="0.9"/>
<path d="M116 205Q120 196 123 192Q126 188 129 184Q132 180 134 176Q137 171 139 167Q142 163 144 159Q147 154 149 150Q152 146 154 141Q156 137 159 132Q161 128 164 124Q167 120 170 116Q174 112 177 108L180 105" stroke-opacity="0.30" stroke-width="0.9"/>
<path d="M141 167Q143 157 144 152Q145 147 146 142Q147 138 147 133Q147 128 147 123Q147 118 147 113Q148 108 149 103Q150 98 151 93Q151 88 153 83L154 78" stroke-opacity="0.37" stroke-width="0.9"/>
<path d="M144 178Q149 169 151 165Q153 160 154 156Q156 151 158 146Q160 141 161 137L162 132" stroke-opacity="0.40" stroke-width="0.9"/>
<path d="M185 197Q188 187 189 182Q190 177 191 172Q193 168 194 163Q195 158 196 153Q197 148 199 143Q200 138 201 134Q202 129 204 124Q205 119 207 114Q209 110 211 105Q213 101 215 96L218 92" stroke-opacity="0.35" stroke-width="0.9"/>
<path d="M130 155Q132 145 133 140Q134 135 135 130Q137 126 139 121Q140 116 141 111Q142 106 143 101Q144 96 144 92Q145 87 145 82Q145 77 146 72Q146 67 146 62Q146 57 146 52L145 47" stroke-opacity="0.24" stroke-width="0.9"/>
<path d="M153 155Q152 145 152 140Q152 135 152 130Q152 125 151 120Q150 115 149 110Q149 105 147 100Q146 96 144 91Q143 86 141 81Q140 77 138 72L136 67" stroke-opacity="0.25" stroke-width="0.9"/>
<path d="M142 201Q139 191 138 187Q136 182 135 177Q133 172 132 168Q130 163 129 158Q128 153 126 148Q125 144 123 139Q122 134 120 130Q118 125 116 120Q114 116 113 111Q111 106 110 101Q109 96 108 91L107 86" stroke-opacity="0.41" stroke-width="0.9"/>
<path d="M110 175Q110 165 110 160Q111 155 112 150Q113 145 115 141Q116 136 118 131Q120 127 122 122Q124 117 126 113Q127 108 129 103Q130 98 131 94L133 89" stroke-opacity="0.38" stroke-width="0.9"/>
<path d="M146 197Q147 187 149 182Q150 178 152 173Q153 168 155 163Q156 159 158 154L160 149" stroke-opacity="0.38" stroke-width="0.9"/>
<path d="M144 149Q148 140 149 135Q151 131 153 126Q155 121 157 117Q159 112 160 108L162 103" stroke-opacity="0.30" stroke-width="0.9"/>
<path d="M179 158Q180 148 181 143Q183 138 184 134Q185 129 186 124Q188 119 189 114Q190 109 190 104Q191 99 191 94Q191 89 192 84L193 80" stroke-opacity="0.27" stroke-width="0.9"/>
</g>
<g filter="url(#blur3)" fill="#000">
<ellipse cx="51" cy="233" rx="11" ry="14" fill-opacity="0.9"/>
<ellipse cx="62" cy="52" rx="36" ry="18" fill-opacity="0.95"/>
<ellipse cx="165" cy="70" rx="42" ry="28" fill-opacity="0.75"/>
<ellipse cx="212" cy="240" rx="28" ry="34" fill-opacity="0.7"/>
<ellipse cx="34" cy="257" rx="6" ry="10" fill-opacity="0.8"/>
<ellipse cx="85" cy="260" rx="7" ry="8" fill-opacity="0.7"/>
<ellipse cx="214" cy="95" rx="24" ry="42" fill-opacity="0.8"/>
<ellipse cx="140" cy="100" rx="12" ry="16" fill-opacity="0.5"/>
<ellipse cx="0" cy="0" rx="15" ry="30" fill-opacity="0.93" transform="translate(104 104) rotate(32)"/>
<ellipse cx="0" cy="0" rx="10" ry="20" fill-opacity="0.8" transform="translate(50 78) rotate(30)"/>
</g>
<path d="M121 33Q108 52 102 61Q96 70 91 78Q86 87 82 96Q77 104 73 112Q69 121 66 130Q62 138 59 147Q56 156 54 166L51 175" fill="none" stroke="#1fc81f" stroke-opacity="0.55" stroke-width="10" stroke-linecap="round" filter="url(#blur2)"/>
<g filter="url(#blur06)" fill="none" stroke="#28ea28" stroke-linecap="round">
<path d="M118 34Q104 55 98 65Q91 75 86 84Q80 94 76 102Q71 111 68 120Q64 128 61 136Q58 145 56 154L53 163" stroke-opacity="0.95" stroke-width="1.7"/>
<path d="M124 34Q110 56 104 66Q97 77 92 86Q86 96 82 105Q77 114 74 122Q70 131 67 140L64 149" stroke-opacity="0.85" stroke-width="1.4"/>
<path d="M113 36Q99 56 92 66Q86 76 80 85Q75 94 70 102Q66 111 62 119Q59 127 56 135L53 143" stroke-opacity="0.75" stroke-width="1.3"/>
<path d="M120 38Q106 60 100 70Q94 81 89 90Q84 100 80 109Q76 118 72 128Q69 137 66 148L63 158" stroke-opacity="0.80" stroke-width="1.3"/>
</g>
<g filter="url(#blur07)" fill="none" stroke="#ff3a14" stroke-linecap="round" stroke-linejoin="round">
<path d="M116 44Q110 52 106 57Q103 62 100 67Q96 72 93 76L90 81" stroke-opacity="0.8" stroke-width="2.8"/>
<path d="M84 77Q79 84 76 87Q74 90 72 92L70 95" stroke-opacity="0.8" stroke-width="3.6"/>
<path d="M74 95 L71 102" stroke-opacity="0.8" stroke-width="3"/>
<path d="M68 116Q62 125 60 128L58 132" stroke-opacity="0.8" stroke-width="2"/>
<circle cx="121.3" cy="38.4" r="3.2" fill="#ff2418" stroke="none"/>
<circle cx="112.5" cy="65.7" r="1.3" fill="#ff2418" stroke="none"/>
<path d="M147 118 L151 116" stroke-opacity="0.8" stroke-width="3.6"/>
<circle cx="223" cy="118.6" r="1.8" fill="#ff2418" stroke="none"/>
<path d="M210 134 L214 134" stroke-opacity="0.8" stroke-width="2"/>
<path d="M200 144 L204 144" stroke-opacity="0.8" stroke-width="5"/>
<path d="M168 147Q176 146 176 148Q175 149 172 150L168 150" stroke-opacity="0.8" stroke-width="1.6"/>
<path d="M164 158Q170 154 173 152L176 151" stroke-opacity="0.8" stroke-width="2.2"/>
<path d="M166 153Q172 150 174 150L177 149" stroke-opacity="0.8" stroke-width="1.8"/>
<path d="M207 263 L210 267" stroke-opacity="0.8" stroke-width="1.8"/>
<path d="M149 199Q157 197 162 196L168 194" stroke-opacity="0.8" stroke-width="2.4"/>
<path d="M176 196Q178 194 180 194Q181 195 181 197Q180 198 179 199Q178 199 177 198L176 196" stroke-opacity="0.8" stroke-width="2.4"/>
<path d="M189 202Q193 200 196 200L198 200" stroke-opacity="0.8" stroke-width="4.2"/>
<path d="M195 203 L198 201" stroke-opacity="0.8" stroke-width="3"/>
<circle cx="160.5" cy="201.3" r="2" fill="#ff2418" stroke="none"/>
<path d="M164 210Q175 210 182 211L189 211" stroke-opacity="0.8" stroke-width="2.4"/>
<path d="M129 216Q141 216 148 217L154 217" stroke-opacity="0.8" stroke-width="2.4"/>
<path d="M158 220 L164 215" stroke-opacity="0.8" stroke-width="2.2"/>
<path d="M135 253Q138 248 140 247Q142 246 146 246L150 246" stroke-opacity="0.8" stroke-width="2.2"/>
<circle cx="172" cy="258" r="1.3" fill="#ff2418" stroke="none"/>
<path d="M186 265 L189 270" stroke-opacity="0.8" stroke-width="1.6"/>
<circle cx="112" cy="262" r="1.7" fill="#ff2418" stroke="none"/>
<path d="M117 141Q120 137 122 136Q124 134 125 136L126 137" stroke-opacity="0.8" stroke-width="3"/>
<circle cx="110.5" cy="191.7" r="2.5" fill="#ff2418" stroke="none"/>
<path d="M108 128 L111 124" stroke-opacity="0.8" stroke-width="2.2"/>
<path d="M35 118Q37 124 38 126L39 129" stroke-opacity="0.8" stroke-width="2.2"/>
<circle cx="33" cy="144" r="2" fill="#ff2418" stroke="none"/>
<path d="M43 146Q45 146 46 146Q48 145 49 145L50 144" stroke-opacity="0.8" stroke-width="2.3"/>
<path d="M82 223Q81 222 80 221Q79 221 79 220L79 219" stroke-opacity="0.8" stroke-width="2.4"/>
<path d="M73 187Q72 186 72 186Q71 185 71 184L70 184" stroke-opacity="0.8" stroke-width="2.7"/>
<path d="M104 201Q103 202 103 203Q102 203 101 203L101 204" stroke-opacity="0.8" stroke-width="2.3"/>
<path d="M107 225Q105 227 104 227Q103 227 101 227L100 227" stroke-opacity="0.8" stroke-width="2.2"/>
<path d="M81 187Q83 187 84 187Q85 187 86 188L86 188" stroke-opacity="0.8" stroke-width="2.4"/>
<path d="M131 186Q129 185 128 184Q127 183 126 183L125 182" stroke-opacity="0.8" stroke-width="2.3"/>
<path d="M91 221Q95 222 96 222Q98 221 100 221L101 220" stroke-opacity="0.8" stroke-width="2.2"/>
<path d="M36 171Q34 170 32 169Q31 169 30 168L28 168" stroke-opacity="0.8" stroke-width="2.8"/>
<path d="M145 205Q146 203 146 203Q146 202 146 201L146 200" stroke-opacity="0.8" stroke-width="2.3"/>
<path d="M108 195Q111 193 113 193Q114 193 116 193L118 193" stroke-opacity="0.8" stroke-width="2.9"/>
<path d="M36 175Q36 173 35 173Q35 172 35 171L35 170" stroke-opacity="0.8" stroke-width="2.3"/>
<path d="M103 190Q101 194 101 195Q100 197 99 199L98 201" stroke-opacity="0.8" stroke-width="2.5"/>
<path d="M67 192Q66 189 65 188Q65 187 63 186L62 185" stroke-opacity="0.8" stroke-width="2.8"/>
<path d="M32 230Q30 231 30 231Q29 232 28 232L27 232" stroke-opacity="0.8" stroke-width="2.5"/>
<path d="M29 176Q32 176 34 176Q36 176 38 177L40 177" stroke-opacity="0.8" stroke-width="2.6"/>
<path d="M30 197Q27 198 26 198Q24 199 22 199L21 199" stroke-opacity="0.8" stroke-width="2.4"/>
<path d="M30 259Q31 257 32 257Q33 256 34 256L35 257" stroke-opacity="0.8" stroke-width="2.4"/>
<path d="M144 221Q144 223 144 224Q145 225 145 226L146 227" stroke-opacity="0.8" stroke-width="2.8"/>
<path d="M80 207Q79 209 78 210Q77 211 76 212L75 213" stroke-opacity="0.8" stroke-width="2.5"/>
<path d="M66 167Q69 169 70 169Q72 170 73 169L74 169" stroke-opacity="0.8" stroke-width="2.6"/>
<path d="M111 205Q108 204 106 204Q104 205 102 205L101 205" stroke-opacity="0.8" stroke-width="2.4"/>
<path d="M97 255Q95 255 93 254Q92 254 92 253L91 252" stroke-opacity="0.8" stroke-width="2.6"/>
<path d="M74 197Q71 195 71 194Q70 193 69 191L68 190" stroke-opacity="0.8" stroke-width="2.6"/>
<path d="M91 226Q90 222 89 221Q87 219 86 218L84 217" stroke-opacity="0.8" stroke-width="2.7"/>
<path d="M40 170Q36 171 35 172Q33 173 32 174L31 175" stroke-opacity="0.8" stroke-width="2.8"/>
<path d="M38 211Q36 210 34 210Q33 211 32 211L31 212" stroke-opacity="0.8" stroke-width="2.4"/>
<path d="M89 228Q88 227 87 227Q86 227 85 228L85 228" stroke-opacity="0.8" stroke-width="2.3"/>
<path d="M83 203Q84 202 85 202Q86 201 87 201L88 200" stroke-opacity="0.8" stroke-width="2.2"/>
<path d="M104 253Q107 256 109 256Q110 257 112 256L114 256" stroke-opacity="0.8" stroke-width="2.3"/>
<path d="M104 174Q106 171 106 170Q107 168 107 167L108 165" stroke-opacity="0.8" stroke-width="2.7"/>
<path d="M61 240Q63 240 64 240Q65 240 65 240L66 241" stroke-opacity="0.8" stroke-width="2.3"/>
<path d="M86 164Q87 162 87 160Q87 159 86 157L86 156" stroke-opacity="0.8" stroke-width="2"/>
<path d="M72 243Q73 240 74 238Q74 236 75 235L75 233" stroke-opacity="0.8" stroke-width="2.1"/>
<path d="M105 266Q102 267 100 267Q98 267 96 267L95 267" stroke-opacity="0.8" stroke-width="2.1"/>
<path d="M47 172Q48 174 49 175Q49 176 50 176L50 177" stroke-opacity="0.8" stroke-width="2.3"/>
<path d="M71 218Q69 219 69 219Q68 219 67 219L66 219" stroke-opacity="0.8" stroke-width="2.8"/>
<path d="M80 258Q82 260 84 261Q85 262 87 262L88 263" stroke-opacity="0.8" stroke-width="2.3"/>
<path d="M111 236Q108 234 106 232Q105 231 104 229L102 228" stroke-opacity="0.8" stroke-width="2.5"/>
<path d="M86 169Q85 169 84 169Q83 169 83 169L82 169" stroke-opacity="0.8" stroke-width="2"/>
<path d="M37 151Q34 150 32 149Q31 148 29 148L27 147" stroke-opacity="0.8" stroke-width="2.8"/>
<path d="M27 184Q30 182 31 182Q33 181 34 181L36 180" stroke-opacity="0.8" stroke-width="2.2"/>
<path d="M121 153Q118 154 116 154Q114 154 112 154L111 154" stroke-opacity="0.8" stroke-width="2.3"/>
<path d="M87 169Q85 169 84 169Q84 169 83 169L82 169" stroke-opacity="0.8" stroke-width="2.2"/>
<path d="M50 163Q47 163 46 163Q44 164 43 164L42 165" stroke-opacity="0.8" stroke-width="2.3"/>
<path d="M90 224Q91 224 91 225Q92 225 92 226L92 227" stroke-opacity="0.8" stroke-width="2.1"/>
<path d="M35 150Q32 148 31 147Q29 146 29 144L28 143" stroke-opacity="0.8" stroke-width="2.5"/>
<path d="M83 165Q83 167 83 168Q83 168 83 169L83 170" stroke-opacity="0.8" stroke-width="2.6"/>
<path d="M48 140Q49 139 50 138Q50 138 51 138L52 137" stroke-opacity="0.8" stroke-width="2.8"/>
<path d="M117 193Q119 195 119 196Q120 197 121 197L122 198" stroke-opacity="0.8" stroke-width="2.9"/>
<path d="M121 252Q120 252 119 253Q118 253 118 253L117 254" stroke-opacity="0.8" stroke-width="2.2"/>
<path d="M43 244Q43 242 44 242Q44 241 45 241L46 240" stroke-opacity="0.8" stroke-width="2.1"/>
<path d="M51 246Q53 248 54 249Q56 249 57 248L58 248" stroke-opacity="0.8" stroke-width="2.3"/>
<path d="M74 152Q77 153 79 154Q81 155 82 156L83 158" stroke-opacity="0.8" stroke-width="2.4"/>
<path d="M86 234Q84 236 82 237Q81 238 79 238L77 238" stroke-opacity="0.8" stroke-width="2.1"/>
<path d="M71 229Q73 232 73 233Q74 234 74 236L75 237" stroke-opacity="0.8" stroke-width="2.4"/>
<path d="M119 223Q118 222 118 221Q118 220 118 220L118 219" stroke-opacity="0.8" stroke-width="2.5"/>
<path d="M59 205Q60 204 60 203Q60 202 60 201L60 200" stroke-opacity="0.8" stroke-width="2.9"/>
<path d="M47 171Q47 173 46 173Q46 174 46 175L45 175" stroke-opacity="0.8" stroke-width="2.3"/>
<path d="M28 143Q26 142 26 142Q25 142 24 142L24 142" stroke-opacity="0.8" stroke-width="2.4"/>
<path d="M102 233Q99 231 98 229Q97 228 96 226L95 224" stroke-opacity="0.8" stroke-width="2.7"/>
<path d="M106 211Q106 214 107 215Q107 216 107 217L108 218" stroke-opacity="0.8" stroke-width="2.1"/>
<path d="M71 180Q69 181 68 182Q68 182 67 183L67 184" stroke-opacity="0.8" stroke-width="2.8"/>
<path d="M115 191Q113 194 111 195Q110 196 108 197L106 197" stroke-opacity="0.8" stroke-width="2.4"/>
<path d="M78 204Q76 204 75 204Q74 205 73 205L73 206" stroke-opacity="0.8" stroke-width="2.2"/>
<path d="M56 271Q54 274 52 275Q51 276 49 277L48 278" stroke-opacity="0.8" stroke-width="2.8"/>
<path d="M49 266Q46 268 45 269Q44 270 42 271L40 272" stroke-opacity="0.8" stroke-width="2.4"/>
<path d="M91 187Q88 187 87 187Q86 187 85 186L83 186" stroke-opacity="0.8" stroke-width="2.6"/>
<path d="M62 155Q59 154 58 153Q57 153 56 152L55 151" stroke-opacity="0.8" stroke-width="2.5"/>
<path d="M29 195Q27 198 25 200Q24 201 23 203L22 205" stroke-opacity="0.8" stroke-width="2.1"/>
<path d="M120 235Q120 237 120 238Q121 239 120 240L120 241" stroke-opacity="0.8" stroke-width="2.7"/>
<path d="M65 204Q63 202 62 201Q61 200 60 198L60 197" stroke-opacity="0.8" stroke-width="2.5"/>
<path d="M79 184Q77 184 76 185Q76 185 75 185L75 186" stroke-opacity="0.8" stroke-width="2.2"/>
<path d="M94 209Q91 210 89 212Q88 213 87 215L87 217" stroke-opacity="0.8" stroke-width="2"/>
<path d="M32 161Q29 160 27 160Q26 160 24 160L22 160" stroke-opacity="0.8" stroke-width="2.6"/>
<path d="M74 252Q75 251 76 250Q76 250 77 249L78 249" stroke-opacity="0.8" stroke-width="2.7"/>
<path d="M34 177Q35 178 36 178Q37 178 37 178L38 178" stroke-opacity="0.8" stroke-width="2.6"/>
<path d="M59 263Q57 263 56 263Q56 263 55 263L54 263" stroke-opacity="0.8" stroke-width="2.3"/>
<path d="M88 215Q85 216 83 217Q81 217 79 218L78 218" stroke-opacity="0.8" stroke-width="2.3"/>
<path d="M26 148Q29 149 30 150Q32 150 33 151L34 152" stroke-opacity="0.8" stroke-width="2.2"/>
<path d="M38 191Q37 194 37 195Q36 197 36 198L35 199" stroke-opacity="0.8" stroke-width="2.2"/>
<path d="M53 219Q54 219 54 218Q54 217 55 217L55 216" stroke-opacity="0.8" stroke-width="2.2"/>
<path d="M33 178Q30 181 29 182Q27 183 26 184L24 185" stroke-opacity="0.8" stroke-width="2"/>
<path d="M31 190Q31 192 31 193Q31 194 30 195L30 196" stroke-opacity="0.8" stroke-width="2.2"/>
<path d="M70 232Q66 231 65 231Q63 230 61 230L59 230" stroke-opacity="0.8" stroke-width="2.2"/>
<path d="M42 175Q41 172 41 171Q40 170 40 169L39 168" stroke-opacity="0.8" stroke-width="2"/>
<path d="M96 211Q97 210 97 209Q97 208 97 208L96 207" stroke-opacity="0.8" stroke-width="2.1"/>
<path d="M55 144Q54 143 53 142Q52 141 52 140L51 139" stroke-opacity="0.8" stroke-width="2.6"/>
<path d="M99 142Q101 144 102 146Q102 147 102 149L102 151" stroke-opacity="0.8" stroke-width="2.4"/>
<path d="M125 215Q128 216 129 216Q131 216 133 216L134 215" stroke-opacity="0.8" stroke-width="2.5"/>
<path d="M109 188Q110 190 111 191Q112 192 114 192L115 193" stroke-opacity="0.8" stroke-width="2.4"/>
<path d="M51 192Q53 192 53 192Q54 193 55 193L55 193" stroke-opacity="0.8" stroke-width="2"/>
<path d="M99 255Q98 258 97 260Q96 261 95 263L94 264" stroke-opacity="0.8" stroke-width="2.8"/>
<path d="M63 146Q66 147 67 146Q68 146 69 144L70 143" stroke-opacity="0.8" stroke-width="2.1"/>
<path d="M65 176Q62 179 62 180Q61 182 61 183L61 185" stroke-opacity="0.8" stroke-width="2.2"/>
<path d="M67 250Q64 248 63 247Q62 245 61 244L59 243" stroke-opacity="0.8" stroke-width="2.5"/>
<path d="M69 223Q70 225 71 226Q71 227 71 228L70 230" stroke-opacity="0.8" stroke-width="2.8"/>
<path d="M34 163Q32 161 31 160Q31 159 31 158L31 157" stroke-opacity="0.8" stroke-width="2.6"/>
<path d="M110 231Q108 230 107 230Q106 230 104 230L103 230" stroke-opacity="0.8" stroke-width="2.4"/>
<path d="M130 195Q131 192 132 191Q133 190 134 189L136 188" stroke-opacity="0.8" stroke-width="2.8"/>
<path d="M75 254Q73 256 72 257Q71 257 70 257L68 258" stroke-opacity="0.8" stroke-width="2.9"/>
<path d="M38 186Q40 189 41 191Q42 192 43 194L44 195" stroke-opacity="0.8" stroke-width="2.3"/>
<path d="M84 202Q87 202 88 203Q89 203 91 203L92 204" stroke-opacity="0.8" stroke-width="2.6"/>
<path d="M28 180Q26 182 25 183Q24 184 23 185L22 186" stroke-opacity="0.8" stroke-width="2.4"/>
<path d="M34 201Q35 199 36 198Q37 198 38 198L39 198" stroke-opacity="0.8" stroke-width="2.6"/>
<path d="M140 227Q136 229 135 230Q133 230 131 231L129 232" stroke-opacity="0.8" stroke-width="2.6"/>
<path d="M31 253Q29 253 28 253Q27 253 26 253L25 252" stroke-opacity="0.8" stroke-width="2.4"/>
<path d="M84 238Q84 240 84 241Q84 242 84 244L84 245" stroke-opacity="0.8" stroke-width="2.3"/>
<path d="M82 191Q83 194 84 195Q86 196 87 197L88 198" stroke-opacity="0.8" stroke-width="2.7"/>
<path d="M65 182Q63 184 62 185Q61 185 60 186L59 187" stroke-opacity="0.8" stroke-width="2.1"/>
<path d="M97 216Q97 220 96 222Q95 224 94 226L94 227" stroke-opacity="0.8" stroke-width="2.6"/>
<path d="M36 176Q35 174 34 174Q34 173 33 173L32 173" stroke-opacity="0.8" stroke-width="2.5"/>
<path d="M122 249Q122 246 123 245Q123 244 124 242L124 241" stroke-opacity="0.8" stroke-width="2.7"/>
<path d="M85 189Q87 191 88 191Q89 192 90 192L91 192" stroke-opacity="0.8" stroke-width="2.8"/>
<path d="M41 232Q39 235 38 236Q37 238 37 239L37 241" stroke-opacity="0.8" stroke-width="2.1"/>
</g>
<text x="230.2" y="49.9" font-size="11.85" text-anchor="end" font-family='"DejaVu Sans", "Liberation Sans", sans-serif' fill="#21e021">microtubules</text>
<text x="230.2" y="64.1" font-size="11.85" text-anchor="end" font-family='"DejaVu Sans", "Liberation Sans", sans-serif' fill="#ee1c1c">mitochondria</text>
<rect x="118.4" y="228.3" width="46.9" height="35.7" fill="none" stroke="#fff" stroke-width="1.3"/>
<rect x="185.3" y="260.2" width="43.7" height="2.6" fill="#fff"/>
<text x="207" y="256.8" font-size="11.6" word-spacing="0.8" text-anchor="middle" font-family='"DejaVu Sans", "Liberation Sans", sans-serif' fill="#fff">10 μm</text>
</g>
<clipPath id="clipS0"><rect x="239" y="36" width="81.6" height="69.6"/></clipPath>
<g clip-path="url(#clipS0)"><rect x="239" y="36" width="81.6" height="69.6" fill="#020502"/>
<rect x="239" y="36" width="81.6" height="69.6" fill="#000" filter="url(#gnoise2)"/>
<g filter="url(#blur09)" fill="none" stroke-linecap="round">
<path d="M222 67Q231 69 235 70Q240 70 244 70Q249 70 253 70Q258 70 262 70Q267 70 271 70Q276 70 280 70Q285 69 289 69Q294 69 298 70Q303 71 307 71Q312 71 316 71L321 72" stroke="#28c828" stroke-opacity="0.47" stroke-width="1.4"/>
<path d="M227 42Q235 37 239 35Q243 33 247 31Q251 29 255 27Q259 25 263 24Q268 22 272 21Q276 19 280 18Q285 17 289 15Q293 14 298 13Q302 12 306 11Q311 10 315 10L320 9" stroke="#28c828" stroke-opacity="0.34" stroke-width="1.4"/>
<path d="M279 77Q287 73 291 71Q294 68 298 66Q302 64 306 62Q310 60 314 57Q317 55 321 51Q324 48 328 46Q331 43 335 40Q339 38 343 36Q347 34 351 32Q355 30 359 27L363 25" stroke="#28c828" stroke-opacity="0.38" stroke-width="1.4"/>
<path d="M235 79Q244 78 248 78Q253 78 257 78Q262 77 266 77Q271 77 275 77Q280 78 284 77Q289 76 293 76Q298 76 302 75Q307 75 311 74Q316 74 320 74Q325 74 329 75L334 76" stroke="#28c828" stroke-opacity="0.47" stroke-width="1.4"/>
<path d="M255 70Q264 71 269 72Q273 73 277 74Q282 76 286 77Q290 77 295 78Q299 79 304 80Q308 80 313 80Q317 81 322 81Q326 82 331 82Q335 82 340 83Q344 83 349 83L353 83" stroke="#28c828" stroke-opacity="0.43" stroke-width="1.4"/>
<path d="M276 77Q285 75 289 73Q294 72 298 71Q302 70 307 70Q311 69 316 68Q320 68 325 67Q329 66 333 64Q338 63 342 62Q346 61 351 59Q355 58 359 56Q363 55 368 54L372 52" stroke="#28c828" stroke-opacity="0.37" stroke-width="1.4"/>
<path d="M258 89Q266 85 269 82Q273 79 277 76Q280 74 284 71Q288 69 291 66Q295 64 299 61Q303 59 307 57Q311 55 315 53Q319 51 323 50Q327 48 332 47Q336 45 340 44L345 43" stroke="#28c828" stroke-opacity="0.39" stroke-width="1.4"/>
<path d="M252 57Q261 56 265 56Q270 56 274 56Q279 56 283 56Q288 56 292 57Q297 57 301 58Q305 59 310 60Q314 61 319 62Q323 63 327 64Q331 66 336 67Q340 68 344 70L349 71" stroke="#28c828" stroke-opacity="0.27" stroke-width="1.4"/>
<path d="M299 61Q307 58 311 56Q316 54 320 54Q325 54 329 53Q333 52 338 51Q342 50 346 49Q351 47 355 46Q359 45 364 44Q368 43 373 42Q377 41 381 40Q386 39 390 38L394 37" stroke="#28c828" stroke-opacity="0.49" stroke-width="1.4"/>
<path d="M241 87Q250 85 254 84Q258 83 263 82Q267 81 272 80Q276 79 280 78Q285 77 289 75Q293 74 297 72Q302 71 306 69Q310 68 314 66Q319 65 323 63Q327 62 331 60L335 58" stroke="#28c828" stroke-opacity="0.38" stroke-width="1.4"/>
<path d="M225 60Q234 59 238 59Q243 58 247 58Q252 58 256 57Q260 57 265 56Q269 55 274 55Q278 55 283 55Q287 55 292 54Q296 54 301 53Q305 52 310 51Q314 50 318 49L323 48" stroke="#28c828" stroke-opacity="0.50" stroke-width="1.4"/>
<path d="M261 46Q269 43 274 41Q278 40 282 38Q287 37 291 36Q295 34 299 33Q304 32 308 31Q313 30 317 29Q321 28 326 28Q330 27 335 26Q339 26 344 25Q348 25 353 24L357 24" stroke="#28c828" stroke-opacity="0.40" stroke-width="1.4"/>
<path d="M296 39Q305 41 309 42Q314 42 318 44Q322 45 326 47Q331 48 335 49Q340 49 344 51Q348 52 352 54Q356 56 360 58Q364 60 368 63Q372 65 376 67Q380 69 383 72L387 75" stroke="#28c828" stroke-opacity="0.52" stroke-width="1.4"/>
<path d="M234 92Q243 95 247 96Q252 98 256 100Q260 101 264 103Q268 105 272 107Q276 108 281 110Q285 112 289 113Q293 115 297 116Q302 118 306 119Q311 120 315 121Q319 122 324 123L328 124" stroke="#28c828" stroke-opacity="0.52" stroke-width="1.4"/>
<path d="M286 79Q291 71 293 68Q296 64 298 60Q300 56 302 52Q304 48 307 44Q309 41 312 37Q314 33 317 29Q319 26 323 23Q326 20 330 17Q333 15 337 12Q341 9 344 7L348 4" stroke="#28c828" stroke-opacity="0.31" stroke-width="1.4"/>
<path d="M237 105Q245 107 250 108Q254 109 258 111Q263 112 267 113Q271 115 275 116Q280 118 284 119Q289 120 293 121Q297 123 301 124Q306 126 310 127Q314 129 318 130Q322 132 326 134L331 136" stroke="#28c828" stroke-opacity="0.43" stroke-width="1.4"/>
<path d="M249 94Q256 88 259 85Q262 82 266 79Q269 76 272 72Q274 69 277 65Q280 62 284 59Q287 56 290 53Q293 49 296 46Q300 43 302 40Q305 36 308 33Q311 29 314 26L317 22" stroke="#28c828" stroke-opacity="0.26" stroke-width="1.4"/>
<path d="M233 46Q242 44 246 42Q250 41 255 40Q259 38 263 37Q267 35 272 34Q276 33 280 32Q285 31 289 31Q294 31 298 31Q303 31 307 31Q312 32 316 32Q321 33 325 34L329 35" stroke="#28c828" stroke-opacity="0.33" stroke-width="1.4"/>
<path d="M279 73Q288 72 292 72Q297 72 301 72Q306 73 310 73Q315 73 319 75Q323 76 328 77Q332 78 336 79Q341 79 345 80Q350 82 354 83Q358 84 362 86Q367 87 371 89L375 90" stroke="#28c828" stroke-opacity="0.30" stroke-width="1.4"/>
<path d="M245 55Q253 59 257 61Q261 63 265 65Q269 67 273 68Q278 69 282 71Q286 72 290 74Q295 76 299 78Q303 80 307 82Q311 84 314 86Q318 89 322 91Q326 93 330 95L334 97" stroke="#28c828" stroke-opacity="0.49" stroke-width="1.4"/>
<path d="M229 111Q237 108 241 106Q245 104 249 101Q253 99 256 96Q260 94 264 92Q268 90 272 87Q276 85 279 82Q282 79 285 76Q289 72 292 69Q295 66 298 63Q301 60 304 56L308 53" stroke="#28c828" stroke-opacity="0.21" stroke-width="1.4"/>
<path d="M296 111Q305 111 309 110Q314 109 318 109Q323 109 327 109Q332 109 336 108Q341 108 345 107Q349 105 353 104Q358 102 362 101Q366 99 370 98Q375 96 379 94Q383 92 387 91L391 89" stroke="#28c828" stroke-opacity="0.44" stroke-width="1.4"/>
<path d="M293 111Q301 71 308 51L315 31" stroke="#28c828" stroke-opacity="0.40" stroke-width="1.4"/>
<path d="M275 111Q292 71 301 51L311 31" stroke="#28c828" stroke-opacity="0.35" stroke-width="1.4"/>
<path d="M279 111Q304 71 309 51L314 31" stroke="#28c828" stroke-opacity="0.37" stroke-width="1.4"/>
<path d="M297 111Q305 71 320 51L334 31" stroke="#28c828" stroke-opacity="0.50" stroke-width="1.4"/>
<path d="M284 111Q304 71 315 51L325 31" stroke="#28c828" stroke-opacity="0.38" stroke-width="1.4"/>
<path d="M297 111Q302 71 315 51L329 31" stroke="#28c828" stroke-opacity="0.39" stroke-width="1.4"/>
</g>
<g filter="url(#blur06)" fill="none" stroke-linecap="round" stroke-linejoin="round">
<path d="M261.9 84.7 C262.5 83.6 264.2 80.2 265.5 78 C266.8 75.8 268.1 73.2 269.9 71.8 C271.6 70.4 273.8 70 276 69.7 C278.2 69.4 280.6 69.5 283 69.8 C285.4 70 289.4 71 290.7 71.2" stroke="#ff2418" stroke-width="3.6"/>
<circle cx="247.8" cy="101.2" r="4" fill="#ff2418"/>
<path d="M240.5 44.2 L242 44.2" stroke="#ff2418" stroke-width="4.5"/>
<circle cx="242.3" cy="57" r="3" fill="#ff2418"/>
</g>
<text transform="translate(317 47.800000000000004) scale(1 1.1)" font-size="11.4" word-spacing="1.1" text-anchor="end" font-family='"DejaVu Sans", "Liberation Sans", sans-serif' fill="#fff">0 s</text>
<text x="321.6" y="99.5" font-size="11.7" word-spacing="1.0" text-anchor="end" font-family='"DejaVu Sans", "Liberation Sans", sans-serif' fill="#fff">2 μm</text>
<rect x="304.2" y="102.2" width="15.7" height="2.5" fill="#fff"/>
</g>
<rect x="326" y="36" width="82.7" height="69.6" fill="#000"/>
<g filter="url(#blur2)" fill="#fff">
<circle cx="330" cy="57.3" r="4" fill-opacity="0.12"/>
<circle cx="336.2" cy="100.8" r="5" fill-opacity="0.18"/>
<circle cx="328.7" cy="44.3" r="3" fill-opacity="0.1"/>
<circle cx="348" cy="90" r="4" fill-opacity="0.08"/>
</g>
<g filter="url(#blur07)" fill="none" stroke-linecap="round" stroke-linejoin="round">
</g>
<path d="M348.6 84.6 C349.5 83.4 352.2 79.7 354 77.5 C355.8 75.3 357.3 72.5 359.1 71.2 C360.9 70 362.7 70 364.7 70 C366.7 70 368.5 71 370.9 71.2 C373.3 71.4 377.6 71 379 71" fill="none" stroke="#e01c1c" stroke-width="1.5" stroke-linejoin="round" stroke-linecap="round"/>
<rect x="391.4" y="102.4" width="16.5" height="2.5" fill="#fff"/>
<clipPath id="clipS1"><rect x="239" y="116.7" width="81.6" height="69.5"/></clipPath>
<g clip-path="url(#clipS1)"><rect x="239" y="116.7" width="81.6" height="69.5" fill="#020502"/>
<rect x="239" y="116.7" width="81.6" height="69.5" fill="#000" filter="url(#gnoise2)"/>
<g filter="url(#blur09)" fill="none" stroke-linecap="round">
<path d="M261 124Q268 130 272 132Q276 135 280 137Q283 140 287 142Q291 144 295 146Q299 149 303 151Q306 154 310 156Q314 159 318 161Q322 163 325 166Q329 168 333 170Q337 173 341 175L345 178" stroke="#28c828" stroke-opacity="0.47" stroke-width="1.4"/>
<path d="M242 149Q250 146 254 144Q258 142 262 140Q267 138 271 136Q275 135 279 133Q283 132 288 130Q292 129 296 128Q301 127 305 125Q309 123 313 121Q317 119 321 117Q324 114 328 111L331 108" stroke="#28c828" stroke-opacity="0.35" stroke-width="1.4"/>
<path d="M245 167Q251 160 254 157Q257 153 260 150Q263 146 266 143Q269 139 272 136Q275 133 277 129Q280 126 283 122Q286 119 288 115Q291 111 294 108Q297 104 300 101Q303 98 306 94L309 91" stroke="#28c828" stroke-opacity="0.44" stroke-width="1.4"/>
<path d="M275 139Q284 140 288 140Q293 140 297 140Q301 141 306 141Q310 141 315 142Q319 142 324 142Q328 143 333 143Q337 143 342 143Q346 143 351 143Q355 143 360 144Q364 144 369 143L373 143" stroke="#28c828" stroke-opacity="0.51" stroke-width="1.4"/>
<path d="M284 117Q293 119 298 120Q302 120 307 120Q311 121 316 121Q320 121 325 121Q329 122 334 123Q338 124 342 125Q347 126 351 126Q356 126 360 126Q365 125 369 125Q374 124 378 125L383 125" stroke="#28c828" stroke-opacity="0.51" stroke-width="1.4"/>
<path d="M239 113Q248 112 253 112Q257 111 262 111Q266 111 271 110Q275 110 280 110Q284 110 289 110Q293 110 298 110Q302 110 307 110Q311 110 316 110Q320 110 325 110Q329 110 334 111L338 112" stroke="#28c828" stroke-opacity="0.31" stroke-width="1.4"/>
<path d="M218 165Q225 170 229 173Q233 175 236 178Q240 181 244 183Q247 186 251 188Q256 190 260 191Q264 193 268 194Q272 196 276 198Q281 200 285 201Q289 203 293 204Q298 205 302 206L306 207" stroke="#28c828" stroke-opacity="0.53" stroke-width="1.4"/>
<path d="M235 168Q243 172 247 174Q251 176 255 178Q259 180 263 182Q267 184 271 186Q275 188 279 191Q283 193 286 195Q290 198 294 200Q298 203 302 204Q306 206 310 209Q314 211 318 213L322 215" stroke="#28c828" stroke-opacity="0.33" stroke-width="1.4"/>
<path d="M269 156Q276 151 279 148Q282 145 286 142Q289 138 292 135Q295 131 297 128Q300 124 303 121Q306 118 309 114Q312 111 315 108Q318 104 321 101Q324 98 327 94Q330 91 334 88L337 85" stroke="#28c828" stroke-opacity="0.35" stroke-width="1.4"/>
<path d="M269 131Q277 134 282 135Q286 137 291 137Q295 137 299 138Q304 138 308 139Q313 139 317 140Q322 141 326 141Q331 141 335 141Q340 142 344 142Q349 142 353 143Q358 144 362 145L366 147" stroke="#28c828" stroke-opacity="0.50" stroke-width="1.4"/>
<path d="M215 169Q222 165 226 162Q230 160 234 158Q238 156 242 154Q246 152 250 149Q254 147 258 145Q262 143 266 142Q270 140 275 139Q279 138 283 137Q288 135 292 134Q296 133 301 132L305 131" stroke="#28c828" stroke-opacity="0.48" stroke-width="1.4"/>
<path d="M218 128Q226 124 230 122Q234 121 238 119Q243 117 246 115Q250 113 255 111Q259 109 263 107Q267 105 271 103Q275 102 279 100Q283 98 287 96Q291 93 295 91Q298 88 302 86L306 84" stroke="#28c828" stroke-opacity="0.28" stroke-width="1.4"/>
<path d="M262 191Q271 190 276 189Q280 188 284 186Q289 185 293 183Q297 182 301 180Q305 179 310 177Q314 176 318 175Q323 174 327 174Q332 173 336 172Q341 171 345 169Q349 167 352 164L355 161" stroke="#28c828" stroke-opacity="0.34" stroke-width="1.4"/>
<path d="M221 112Q228 107 232 104Q235 101 239 98Q242 95 246 92Q249 90 253 87Q256 84 260 81Q263 78 266 75Q269 71 272 68Q275 65 279 62Q282 59 285 56Q288 52 291 49L294 46" stroke="#28c828" stroke-opacity="0.32" stroke-width="1.4"/>
<path d="M212 134Q220 138 224 140Q228 141 232 143Q236 145 240 147Q244 150 249 151Q253 152 257 154Q261 156 265 158Q269 160 273 162Q278 163 282 165Q286 167 290 168Q294 170 299 171L303 173" stroke="#28c828" stroke-opacity="0.38" stroke-width="1.4"/>
<path d="M212 187Q219 181 222 178Q225 175 228 171Q231 168 233 164Q236 160 238 156Q240 152 243 149Q245 145 248 142Q251 138 254 135Q257 131 260 128Q263 125 267 122Q270 119 274 116L277 114" stroke="#28c828" stroke-opacity="0.23" stroke-width="1.4"/>
<path d="M269 140Q276 145 279 148Q283 151 286 154Q290 157 293 160Q297 163 300 166Q303 169 306 172Q310 175 312 179Q315 182 318 186Q320 190 323 193Q325 197 328 201Q331 204 334 208L337 211" stroke="#28c828" stroke-opacity="0.45" stroke-width="1.4"/>
<path d="M233 194Q242 196 247 196Q251 197 256 197Q260 197 264 198Q269 198 273 198Q278 198 282 198Q287 198 291 198Q296 199 300 199Q305 199 309 199Q314 199 318 199Q323 200 327 199L332 199" stroke="#28c828" stroke-opacity="0.20" stroke-width="1.4"/>
<path d="M272 132Q281 133 285 133Q290 133 294 133Q299 134 303 134Q308 134 312 135Q317 135 321 136Q325 137 330 138Q334 139 338 140Q343 142 347 143Q352 144 356 145Q360 146 365 146L369 146" stroke="#28c828" stroke-opacity="0.36" stroke-width="1.4"/>
<path d="M282 181Q291 178 295 176Q299 175 303 174Q308 173 312 171Q316 170 320 168Q325 166 329 164Q333 162 337 161Q341 159 345 157Q349 156 354 154Q358 152 362 150Q365 148 369 146L374 144" stroke="#28c828" stroke-opacity="0.40" stroke-width="1.4"/>
<path d="M210 130Q219 131 224 131Q228 131 233 132Q237 132 241 133Q246 133 250 135Q254 136 259 137Q263 138 268 138Q272 138 277 138Q281 138 286 138Q290 138 295 139Q299 139 304 138L308 138" stroke="#28c828" stroke-opacity="0.24" stroke-width="1.4"/>
<path d="M222 152Q231 149 235 148Q239 146 244 144Q248 143 252 141Q256 139 260 138Q265 137 269 136Q274 136 278 135Q283 135 287 135Q292 135 296 135Q301 134 305 134Q310 134 314 133L319 133" stroke="#28c828" stroke-opacity="0.28" stroke-width="1.4"/>
<path d="M291 191Q299 151 316 131L333 111" stroke="#28c828" stroke-opacity="0.52" stroke-width="1.4"/>
<path d="M246 191Q268 151 272 131L276 111" stroke="#28c828" stroke-opacity="0.48" stroke-width="1.4"/>
<path d="M270 191Q282 151 299 131L316 111" stroke="#28c828" stroke-opacity="0.46" stroke-width="1.4"/>
<path d="M251 191Q268 151 274 131L280 111" stroke="#28c828" stroke-opacity="0.34" stroke-width="1.4"/>
<path d="M295 191Q319 151 319 131L319 111" stroke="#28c828" stroke-opacity="0.52" stroke-width="1.4"/>
<path d="M279 191Q284 151 293 131L302 111" stroke="#28c828" stroke-opacity="0.38" stroke-width="1.4"/>
</g>
<g filter="url(#blur06)" fill="none" stroke-linecap="round" stroke-linejoin="round">
<path d="M242.3 126.6 C243.9 126.8 248.6 127.4 252 127.8 C255.4 128.2 258.8 128.6 262.5 129.1 C266.2 129.6 270.4 130.3 274 131 C277.6 131.7 282.3 133 284 133.4" stroke="#ff2418" stroke-width="3.6"/>
<path d="M274.8 164 C274.5 163 273.4 159.8 273.2 158 C273 156.2 272.9 154.2 273.5 153 C274.1 151.8 275.8 151.3 277 151 C278.2 150.7 279.6 150.8 281 151.2 C282.4 151.6 284.4 152.4 285.5 153.5 C286.6 154.6 286.9 156.3 287.3 158 C287.7 159.7 287.6 162.5 287.7 163.4" stroke="#ff2418" stroke-width="3.6"/>
<circle cx="246.6" cy="181.8" r="4.2" fill="#ff2418"/>
<circle cx="241.7" cy="138.3" r="3.5" fill="#ff2418"/>
</g>
<text transform="translate(317 128.7) scale(1 1.1)" font-size="11.4" word-spacing="1.1" text-anchor="end" font-family='"DejaVu Sans", "Liberation Sans", sans-serif' fill="#fff">39 s</text>
<rect x="304.2" y="182.8" width="15.7" height="2.5" fill="#fff"/>
</g>
<rect x="326" y="116.7" width="82.7" height="69.5" fill="#000"/>
<g filter="url(#blur2)" fill="#fff">
<circle cx="330.6" cy="138.6" r="4" fill-opacity="0.13"/>
<circle cx="349.8" cy="164.6" r="6" fill-opacity="0.08"/>
<circle cx="333.7" cy="182" r="5" fill-opacity="0.18"/>
</g>
<g filter="url(#blur07)" fill="none" stroke-linecap="round" stroke-linejoin="round">
<path d="M329.3 126.8 C331.1 126.9 336.6 127.3 340 127.6 C343.4 127.9 346.3 128 349.8 128.6 C353.3 129.2 357.4 130.2 361 131 C364.6 131.8 369.8 133.2 371.5 133.6" stroke="#8a8a8a" stroke-width="2.6" stroke-opacity="0.7"/>
</g>
<path d="M362.8 164 C362.5 163 361.3 159.8 361 158 C360.7 156.2 360.2 154.7 361 153.5 C361.8 152.3 364.3 151.2 366 151 C367.7 150.8 369.8 151.9 371 152.5 C372.2 153.1 372.7 153.7 373.4 154.7 C374.1 155.7 374.7 157.2 375 158.5 C375.3 159.8 375.2 162.1 375.2 162.8" fill="none" stroke="#e01c1c" stroke-width="1.5" stroke-linejoin="round" stroke-linecap="round"/>
<rect x="391.4" y="183" width="16.5" height="2.5" fill="#fff"/>
<clipPath id="clipS2"><rect x="239" y="197.1" width="81.6" height="69.9"/></clipPath>
<g clip-path="url(#clipS2)"><rect x="239" y="197.1" width="81.6" height="69.9" fill="#020502"/>
<rect x="239" y="197.1" width="81.6" height="69.9" fill="#000" filter="url(#gnoise2)"/>
<g filter="url(#blur09)" fill="none" stroke-linecap="round">
<path d="M222 243Q230 238 233 235Q237 232 240 229Q243 225 247 223Q250 220 253 217Q257 214 260 211Q263 208 266 204Q269 201 272 197Q275 194 277 190Q279 186 281 182Q283 178 285 174L287 170" stroke="#28c828" stroke-opacity="0.28" stroke-width="1.4"/>
<path d="M221 260Q229 261 234 261Q238 261 243 261Q247 261 252 261Q256 261 261 261Q265 260 270 260Q274 259 279 259Q283 258 288 257Q292 256 296 254Q301 253 305 251Q309 250 313 249L318 247" stroke="#28c828" stroke-opacity="0.44" stroke-width="1.4"/>
<path d="M255 254Q263 251 268 250Q272 249 277 249Q281 248 285 247Q290 246 294 245Q299 244 303 243Q307 241 311 240Q315 238 320 236Q324 234 328 232Q332 230 336 228Q340 226 344 225L348 223" stroke="#28c828" stroke-opacity="0.42" stroke-width="1.4"/>
<path d="M251 272Q260 270 264 268Q268 266 272 264Q276 262 280 260Q284 258 288 255Q292 253 295 250Q299 247 303 245Q306 243 310 240Q314 237 317 234Q320 231 322 227Q325 224 328 220L330 216" stroke="#28c828" stroke-opacity="0.53" stroke-width="1.4"/>
<path d="M294 203Q302 198 305 195Q308 192 312 189Q315 186 318 183Q322 180 325 176Q328 173 330 169Q333 166 335 162Q338 158 341 155Q344 151 346 148Q349 144 352 140Q354 137 357 133L359 129" stroke="#28c828" stroke-opacity="0.37" stroke-width="1.4"/>
<path d="M230 194Q238 192 243 192Q247 191 252 190Q256 190 261 190Q265 189 270 189Q274 188 279 188Q283 189 288 188Q292 188 297 188Q301 188 306 188Q310 189 315 189Q319 189 324 190L328 190" stroke="#28c828" stroke-opacity="0.36" stroke-width="1.4"/>
<path d="M282 262Q291 261 295 260Q299 260 304 259Q308 258 313 257Q317 257 322 257Q326 256 331 257Q335 257 340 257Q344 257 349 257Q353 257 358 258Q362 260 366 261Q371 262 375 262L379 263" stroke="#28c828" stroke-opacity="0.30" stroke-width="1.4"/>
<path d="M229 246Q237 248 242 249Q246 251 250 252Q254 254 259 255Q263 257 267 258Q272 258 276 259Q280 260 285 261Q289 262 294 263Q298 265 302 266Q306 268 311 268Q315 269 320 270L324 270" stroke="#28c828" stroke-opacity="0.53" stroke-width="1.4"/>
<path d="M222 228Q231 227 235 226Q240 226 244 225Q249 225 253 225Q258 225 262 225Q267 226 271 227Q275 228 280 228Q284 229 289 230Q293 231 298 232Q302 232 306 233Q311 234 315 235L320 235" stroke="#28c828" stroke-opacity="0.39" stroke-width="1.4"/>
<path d="M292 231Q299 236 302 239Q306 242 309 246Q312 249 316 251Q320 253 324 256Q327 258 331 261Q335 264 338 266Q342 269 346 271Q350 273 354 275Q358 277 362 278Q367 280 370 283L374 285" stroke="#28c828" stroke-opacity="0.45" stroke-width="1.4"/>
<path d="M295 237Q302 231 306 228Q309 225 312 222Q316 219 319 216Q322 212 325 209Q328 206 331 202Q334 199 337 196Q340 193 344 190Q347 187 351 184Q354 182 358 179Q361 176 365 174L369 171" stroke="#28c828" stroke-opacity="0.32" stroke-width="1.4"/>
<path d="M252 219Q259 224 263 227Q266 230 270 233Q273 235 276 238Q280 241 283 244Q287 247 290 250Q294 252 298 254Q302 257 306 259Q310 261 314 263Q318 265 322 268Q326 270 330 272L334 274" stroke="#28c828" stroke-opacity="0.21" stroke-width="1.4"/>
<path d="M250 277Q258 281 262 283Q266 285 270 287Q273 289 277 292Q281 294 286 295Q290 297 294 298Q298 300 303 301Q307 302 311 304Q315 306 320 307Q324 308 328 309Q333 311 337 312L341 314" stroke="#28c828" stroke-opacity="0.28" stroke-width="1.4"/>
<path d="M238 259Q247 262 251 263Q255 264 260 265Q264 267 268 268Q273 269 277 270Q282 271 286 271Q290 272 295 273Q299 274 303 276Q307 278 311 280Q315 282 320 284Q324 285 328 287L332 288" stroke="#28c828" stroke-opacity="0.53" stroke-width="1.4"/>
<path d="M228 189Q235 185 240 183Q244 181 248 180Q252 179 256 177Q260 175 264 172Q268 170 271 167Q274 164 278 161Q281 158 285 155Q288 152 292 150Q296 147 299 144Q303 142 307 139L310 136" stroke="#28c828" stroke-opacity="0.26" stroke-width="1.4"/>
<path d="M245 260Q251 253 254 250Q257 246 259 243Q262 239 265 236Q268 233 271 229Q273 225 276 222Q279 218 281 215Q284 211 287 208Q290 204 293 201Q296 198 299 194Q302 191 305 187L308 184" stroke="#28c828" stroke-opacity="0.36" stroke-width="1.4"/>
<path d="M242 264Q250 268 254 270Q258 272 263 273Q267 274 271 276Q275 278 279 280Q284 281 288 283Q292 284 296 285Q301 287 305 288Q309 289 314 289Q318 290 323 291Q327 292 332 292L336 293" stroke="#28c828" stroke-opacity="0.25" stroke-width="1.4"/>
<path d="M210 232Q218 228 222 225Q225 223 229 221Q233 218 237 216Q241 214 245 212Q249 209 253 207Q257 205 261 203Q265 202 269 200Q273 197 277 195Q281 193 284 190Q288 188 292 185L295 182" stroke="#28c828" stroke-opacity="0.33" stroke-width="1.4"/>
<path d="M235 245Q243 250 247 252Q251 254 254 257Q258 259 262 262Q265 265 269 268Q272 270 276 273Q279 276 283 279Q287 281 291 284Q294 286 298 288Q302 291 306 293Q310 295 314 297L318 299" stroke="#28c828" stroke-opacity="0.26" stroke-width="1.4"/>
<path d="M242 275Q251 272 255 271Q260 271 264 270Q269 269 273 268Q278 267 282 266Q286 266 291 265Q295 264 300 263Q304 263 309 263Q313 264 317 265Q322 266 326 267Q331 268 335 268L340 269" stroke="#28c828" stroke-opacity="0.53" stroke-width="1.4"/>
<path d="M227 209Q236 209 240 210Q245 211 249 212Q253 213 258 214Q262 214 267 215Q271 216 275 218Q280 219 284 220Q288 221 293 222Q297 222 302 223Q306 224 311 224Q315 224 320 225L324 226" stroke="#28c828" stroke-opacity="0.26" stroke-width="1.4"/>
<path d="M283 202Q291 207 295 209Q299 211 302 214Q306 216 310 219Q313 222 317 224Q321 227 324 229Q328 232 332 235Q335 237 339 239Q343 242 347 244Q350 247 354 250Q357 253 360 256L363 260" stroke="#28c828" stroke-opacity="0.24" stroke-width="1.4"/>
<path d="M281 272Q293 232 312 212L330 192" stroke="#28c828" stroke-opacity="0.37" stroke-width="1.4"/>
<path d="M236 272Q248 232 260 212L272 192" stroke="#28c828" stroke-opacity="0.30" stroke-width="1.4"/>
<path d="M283 272Q294 232 310 212L325 192" stroke="#28c828" stroke-opacity="0.32" stroke-width="1.4"/>
<path d="M263 272Q282 232 286 212L290 192" stroke="#28c828" stroke-opacity="0.34" stroke-width="1.4"/>
<path d="M288 272Q301 232 309 212L318 192" stroke="#28c828" stroke-opacity="0.44" stroke-width="1.4"/>
<path d="M277 272Q300 232 307 212L314 192" stroke="#28c828" stroke-opacity="0.51" stroke-width="1.4"/>
</g>
<g filter="url(#blur06)" fill="none" stroke-linecap="round" stroke-linejoin="round">
<path d="M249.6 202.1 C250.5 202.7 253.1 204.6 255 205.5 C256.9 206.4 258.8 207 261.3 207.6 C263.8 208.2 266.8 208.5 270 209 C273.2 209.5 278.6 210.4 280.3 210.7" stroke="#ff2418" stroke-width="4"/>
<path d="M265 232.8 C266.2 232.5 269.6 231.4 272 230.7 C274.4 230 276.8 227.8 279.1 228.5 C281.4 229.2 283.9 232.7 286 235 C288.1 237.3 291 241.3 292 242.6" stroke="#ff2418" stroke-width="3.6"/>
<circle cx="242.3" cy="215.6" r="3.5" fill="#ff2418"/>
<circle cx="257.6" cy="247.5" r="2.2" fill="#ff2418"/>
</g>
<text transform="translate(317 209.7) scale(1 1.1)" font-size="11.4" word-spacing="1.1" text-anchor="end" font-family='"DejaVu Sans", "Liberation Sans", sans-serif' fill="#fff">171 s</text>
<rect x="304.2" y="263.6" width="15.7" height="2.5" fill="#fff"/>
</g>
<rect x="326" y="197.1" width="82.7" height="69.9" fill="#000"/>
<g filter="url(#blur2)" fill="#fff">
<circle cx="329.3" cy="215.9" r="4" fill-opacity="0.12"/>
<circle cx="346.7" cy="245.6" r="5" fill-opacity="0.1"/>
<circle cx="352" cy="252" r="4" fill-opacity="0.08"/>
</g>
<g filter="url(#blur07)" fill="none" stroke-linecap="round" stroke-linejoin="round">
<path d="M336.2 202.2 C337 202.8 339.4 205 341 206 C342.6 207 343.4 207.8 346.1 208.4 C348.8 209 353.3 209.2 357 209.6 C360.7 210 366.5 210.7 368.4 210.9" stroke="#8a8a8a" stroke-width="2.6" stroke-opacity="0.6"/>
</g>
<path d="M352.9 232.6 C353.9 232.6 357.6 232.9 359.1 232.6 C360.7 232.3 360.6 231.5 362.2 231 C363.8 230.5 366.8 229.3 368.4 229.5 C369.9 229.7 370.2 230.7 371.5 232 C372.8 233.3 374.5 235.7 376 237.5 C377.5 239.3 379.8 242 380.6 242.9" fill="none" stroke="#e01c1c" stroke-width="1.5" stroke-linejoin="round" stroke-linecap="round"/>
<rect x="391.4" y="263.8" width="16.5" height="2.5" fill="#fff"/>
<rect x="31.3" y="316.8" width="102.6" height="102.2" fill="#0a0a0a"/>
<rect x="31.3" y="316.8" width="102.6" height="102.2" fill="#000" filter="url(#wnoise0)"/>
<rect x="170.1" y="316.6" width="102.7" height="102.6" fill="#0a0a0a"/>
<rect x="170.1" y="316.6" width="102.7" height="102.6" fill="#000" filter="url(#wnoise1)"/>
<rect x="309.1" y="316.6" width="102.9" height="102.6" fill="#0a0a0a"/>
<rect x="309.1" y="316.6" width="102.9" height="102.6" fill="#000" filter="url(#wnoise2)"/>
<g filter="url(#blur3)" fill="#fff">
<ellipse cx="91" cy="321" rx="7" ry="4" fill-opacity="0.18"/>
<ellipse cx="110" cy="322" rx="6" ry="4" fill-opacity="0.12"/>
<ellipse cx="118" cy="359" rx="13" ry="3" fill-opacity="0.13"/>
<ellipse cx="126" cy="392" rx="6" ry="6" fill-opacity="0.1"/>
<ellipse cx="79" cy="404" rx="4" ry="7" fill-opacity="0.08"/>
<ellipse cx="131" cy="405" rx="4" ry="6" fill-opacity="0.06"/>
</g>
<g filter="url(#grain)" fill="#fff">
<ellipse cx="185" cy="331" rx="6" ry="3.5" fill-opacity="0.8"/>
<ellipse cx="199" cy="335" rx="8" ry="6" fill-opacity="0.95"/>
<ellipse cx="209" cy="340" rx="8" ry="4.5" fill-opacity="0.8"/>
<ellipse cx="194" cy="346" rx="4" ry="7" fill-opacity="0.75"/>
<ellipse cx="200" cy="329" rx="4" ry="4" fill-opacity="0.8"/>
<ellipse cx="245.6" cy="347.3" rx="4.5" ry="4.5" fill-opacity="0.8"/>
<ellipse cx="219.2" cy="407" rx="9" ry="6.5" fill-opacity="0.85"/>
<ellipse cx="214" cy="412" rx="6" ry="4" fill-opacity="0.6"/>
</g>
<path d="M240.5 365.2 C238.8 363.9 234 359.2 230.3 357.5 C226.6 355.8 221.6 354.9 218.3 355 C215 355.1 212.2 355.7 210.7 358.4 C209.1 361.1 208.9 367.5 209 371.2 C209.1 374.9 209.8 377.8 211.5 380.5 C213.2 383.2 217.9 386.2 219.2 387.3" fill="none" stroke="#fff" stroke-opacity="0.5" stroke-width="10" filter="url(#grain)"/>
<path d="M240.5 365.2 C238.8 363.9 234 359.2 230.3 357.5 C226.6 355.8 221.6 354.9 218.3 355 C215 355.1 212.2 355.7 210.7 358.4 C209.1 361.1 208.9 367.5 209 371.2 C209.1 374.9 209.8 377.8 211.5 380.5 C213.2 383.2 217.9 386.2 219.2 387.3" fill="none" stroke="#d9454a" stroke-width="5"/>
<g filter="url(#blur2)" fill="none" stroke="#fff" stroke-linecap="round">
<path d="M310 356 L316 344 L320 336 L325 329" stroke-opacity="0.5" stroke-width="4.5"/>
<path d="M318 341 L326 343 L334 346" stroke-opacity="0.42" stroke-width="4"/>
<path d="M309 338 L316 342" stroke-opacity="0.35" stroke-width="4"/>
</g>
<g filter="url(#blur1)" fill="#fff">
<circle cx="348.8" cy="362.6" r="7" fill-opacity="0.42"/>
<circle cx="375.2" cy="363.5" r="2.5" fill-opacity="0.15"/>
<circle cx="345" cy="378" r="3" fill-opacity="0.08"/>
</g>
<path d="M362.6 357.5 C362.7 359.2 363.5 364.2 363.4 368 C363.3 371.8 363.1 376.7 362 380 C360.9 383.3 358.6 385.6 357 388 C355.4 390.4 353 393.4 352.2 394.5" fill="none" stroke="#8e1f8e" stroke-width="4.2" stroke-linecap="square"/>
<path d="M73.5 341.2 C74.9 342.8 79.3 347.8 82 351 C84.7 354.2 87.8 357.7 89.5 360.5 C91.2 363.3 91.7 364.8 92 368 C92.3 371.2 91.7 375.3 91.5 380 C91.3 384.7 90.8 393.3 90.6 396" fill="none" stroke="#f99b0c" stroke-width="6.6" stroke-linejoin="round"/>
<rect x="104.4" y="415.3" width="27.7" height="2.7" fill="#fff"/>
<rect x="242.5" y="414" width="28.3" height="3.2" fill="#fff"/>
<rect x="381.5" y="414" width="28.3" height="3.2" fill="#fff"/>
<text x="132.2" y="411.5" font-size="11.8" word-spacing="2" text-anchor="end" font-family='"DejaVu Sans", "Liberation Sans", sans-serif' fill="#fff">2 μm</text>
<text x="82.4" y="312.2" font-size="11.8" text-anchor="middle" font-family='"DejaVu Sans", "Liberation Sans", sans-serif' fill="#111">sub-diffusive</text>
<text x="221.4" y="312.2" font-size="11.8" text-anchor="middle" font-family='"DejaVu Sans", "Liberation Sans", sans-serif' fill="#111">diffusive</text>
<text x="360.3" y="312.2" font-size="11.8" text-anchor="middle" font-family='"DejaVu Sans", "Liberation Sans", sans-serif' fill="#111">super-diffusive</text>
<circle cx="58" cy="447" r="2.9" fill="#f9b630" fill-opacity="0.85"/>
<circle cx="60" cy="449.5" r="2.9" fill="#f9b630" fill-opacity="0.85"/>
<circle cx="62" cy="452" r="2.9" fill="#f9b630" fill-opacity="0.85"/>
<circle cx="61" cy="455" r="2.9" fill="#f9b630" fill-opacity="0.85"/>
<circle cx="59" cy="458" r="2.9" fill="#f9b630" fill-opacity="0.85"/>
<circle cx="60" cy="461" r="2.9" fill="#f9b630" fill-opacity="0.85"/>
<circle cx="58" cy="463" r="2.9" fill="#f9b630" fill-opacity="0.85"/>
<circle cx="57" cy="466" r="2.9" fill="#f9b630" fill-opacity="0.85"/>
<circle cx="56" cy="468.5" r="2.9" fill="#f9b630" fill-opacity="0.85"/>
<circle cx="59" cy="450" r="2.9" fill="#f9b630" fill-opacity="0.85"/>
<circle cx="62.5" cy="449" r="2.9" fill="#f9b630" fill-opacity="0.85"/>
<circle cx="63" cy="453" r="2.9" fill="#f9b630" fill-opacity="0.85"/>
<circle cx="57.5" cy="455.5" r="2.9" fill="#f9b630" fill-opacity="0.85"/>
<circle cx="61" cy="464" r="2.9" fill="#f9b630" fill-opacity="0.85"/>
<circle cx="71" cy="436" r="3.0" fill="#e86a2a" fill-opacity="0.85"/>
<circle cx="73" cy="434.5" r="3.0" fill="#e86a2a" fill-opacity="0.85"/>
<circle cx="75" cy="437" r="3.0" fill="#f07a22" fill-opacity="0.85"/>
<circle cx="72" cy="440" r="3.0" fill="#e86a2a" fill-opacity="0.85"/>
<circle cx="70" cy="443" r="3.0" fill="#e86a2a" fill-opacity="0.85"/>
<circle cx="73" cy="446" r="3.0" fill="#e86a2a" fill-opacity="0.85"/>
<circle cx="76" cy="448" r="3.0" fill="#e86a2a" fill-opacity="0.85"/>
<circle cx="78" cy="445" r="3.0" fill="#e86a2a" fill-opacity="0.85"/>
<circle cx="80" cy="447" r="3.0" fill="#f07a22" fill-opacity="0.85"/>
<circle cx="82" cy="446" r="3.0" fill="#f07a22" fill-opacity="0.85"/>
<circle cx="84" cy="448" r="3.0" fill="#e86a2a" fill-opacity="0.85"/>
<circle cx="86" cy="445" r="3.0" fill="#e86a2a" fill-opacity="0.85"/>
<circle cx="88" cy="447" r="3.0" fill="#e86a2a" fill-opacity="0.85"/>
<circle cx="90" cy="444" r="3.0" fill="#f07a22" fill-opacity="0.85"/>
<circle cx="92" cy="446" r="3.0" fill="#f07a22" fill-opacity="0.85"/>
<circle cx="89" cy="450" r="3.0" fill="#e86a2a" fill-opacity="0.85"/>
<circle cx="85" cy="451" r="3.0" fill="#f07a22" fill-opacity="0.85"/>
<circle cx="81" cy="451" r="3.0" fill="#f07a22" fill-opacity="0.85"/>
<circle cx="77" cy="451" r="3.0" fill="#f07a22" fill-opacity="0.85"/>
<circle cx="74" cy="449" r="3.0" fill="#f07a22" fill-opacity="0.85"/>
<circle cx="69" cy="447" r="3.0" fill="#e86a2a" fill-opacity="0.85"/>
<circle cx="87" cy="442" r="3.0" fill="#e86a2a" fill-opacity="0.85"/>
<circle cx="84" cy="444" r="3.0" fill="#e86a2a" fill-opacity="0.85"/>
<circle cx="91" cy="449" r="3.0" fill="#e86a2a" fill-opacity="0.85"/>
<polyline points="114,465.7 117.7,477.8 118.8,489.4 121.7,498 123.5,503 125.8,506.7 129.2,519 132.7,535 140,549 142,552 144,551 146,553 141,556 143,559 145,557 147,561 142,563 144,566 146,568 148,566 145,571 143,574 147,577 150,582.7 141,569 139,556" fill="none" stroke="#7a1d78" stroke-width="1.2"/>
<circle cx="101" cy="448.5" r="3.0" fill="#7a1d78" fill-opacity="0.9"/>
<circle cx="104" cy="449" r="3.0" fill="#7a1d78" fill-opacity="0.9"/>
<circle cx="107" cy="451" r="3.0" fill="#7a1d78" fill-opacity="0.9"/>
<circle cx="109" cy="453" r="3.0" fill="#7a1d78" fill-opacity="0.9"/>
<circle cx="110.5" cy="456" r="3.0" fill="#7a1d78" fill-opacity="0.9"/>
<circle cx="112" cy="458" r="3.0" fill="#7a1d78" fill-opacity="0.9"/>
<circle cx="105" cy="452" r="3.0" fill="#7a1d78" fill-opacity="0.9"/>
<circle cx="102" cy="450.5" r="3.0" fill="#7a1d78" fill-opacity="0.9"/>
<circle cx="108" cy="455.5" r="3.0" fill="#7a1d78" fill-opacity="0.9"/>
<circle cx="111" cy="454" r="3.0" fill="#7a1d78" fill-opacity="0.9"/>
<circle cx="114" cy="465.7" r="3.0" fill="#7a1d78" fill-opacity="0.9"/>
<circle cx="117.7" cy="477.8" r="3.0" fill="#7a1d78" fill-opacity="0.9"/>
<circle cx="118.8" cy="489.4" r="3.0" fill="#7a1d78" fill-opacity="0.9"/>
<circle cx="121.7" cy="498" r="3.0" fill="#7a1d78" fill-opacity="0.9"/>
<circle cx="123.5" cy="503" r="3.0" fill="#7a1d78" fill-opacity="0.9"/>
<circle cx="125.8" cy="506.7" r="3.0" fill="#7a1d78" fill-opacity="0.9"/>
<circle cx="129.2" cy="519" r="3.0" fill="#7a1d78" fill-opacity="0.9"/>
<circle cx="132.7" cy="535" r="3.0" fill="#7a1d78" fill-opacity="0.9"/>
<circle cx="140" cy="549" r="3.0" fill="#7a1d78" fill-opacity="0.9"/>
<circle cx="142" cy="552" r="3.0" fill="#7a1d78" fill-opacity="0.9"/>
<circle cx="144" cy="551" r="3.0" fill="#7a1d78" fill-opacity="0.9"/>
<circle cx="146" cy="553" r="3.0" fill="#7a1d78" fill-opacity="0.9"/>
<circle cx="141" cy="556" r="3.0" fill="#7a1d78" fill-opacity="0.9"/>
<circle cx="143" cy="559" r="3.0" fill="#7a1d78" fill-opacity="0.9"/>
<circle cx="145" cy="557" r="3.0" fill="#7a1d78" fill-opacity="0.9"/>
<circle cx="147" cy="561" r="3.0" fill="#7a1d78" fill-opacity="0.9"/>
<circle cx="142" cy="563" r="3.0" fill="#7a1d78" fill-opacity="0.9"/>
<circle cx="144" cy="566" r="3.0" fill="#7a1d78" fill-opacity="0.9"/>
<circle cx="146" cy="568" r="3.0" fill="#7a1d78" fill-opacity="0.9"/>
<circle cx="148" cy="566" r="3.0" fill="#7a1d78" fill-opacity="0.9"/>
<circle cx="145" cy="571" r="3.0" fill="#7a1d78" fill-opacity="0.9"/>
<circle cx="143" cy="574" r="3.0" fill="#7a1d78" fill-opacity="0.9"/>
<circle cx="147" cy="577" r="3.0" fill="#7a1d78" fill-opacity="0.9"/>
<circle cx="150" cy="582.7" r="3.0" fill="#7a1d78" fill-opacity="0.9"/>
<circle cx="141" cy="569" r="3.0" fill="#7a1d78" fill-opacity="0.9"/>
<circle cx="139" cy="556" r="3.0" fill="#7a1d78" fill-opacity="0.9"/>
<path d="M38.6 559.5V586.8H65.8" fill="none" stroke="#111" stroke-width="1.9"/>
<text transform="translate(34.2 573) rotate(-90)" font-size="10.8" text-anchor="middle" font-family='"DejaVu Sans", "Liberation Sans", sans-serif' fill="#111">1μm</text>
<text x="52.4" y="596.9" font-size="10.8" text-anchor="middle" font-family='"DejaVu Sans", "Liberation Sans", sans-serif' fill="#111">1μm</text>
<g clip-path="url(#clipb)">
<path d="M227.5 569.9 L245 554.5 L260.2 541.4 L277.7 527.2 L290.7 517.3 L300.3 511.2 L308.7 505.8 L315.4 501.5 L321.5 497 L330 490.6 L342 482.2 L355 472.7 L367.8 463.4 L382.3 453.4 L396 443.5 L396 449.5 L382.3 461.2 L367.8 472.2 L355 482.3 L342 492.8 L330 502.4 L321.5 509.4 L315.4 514.5 L308.7 519.8 L300.3 526.6 L290.7 534.1 L277.7 546 L260.2 562 L245 571.5 L227.5 578.1Z" fill="#a03c80" fill-opacity="0.55"/>
<path d="M227.5 575.8 L245 567.3 L259.7 561.8 L277.7 553.8 L290.2 547.8 L300.3 542.8 L308.3 539.2 L315.1 535.5 L321.5 531.3 L335 522.8 L350 514.8 L365.8 505.3 L379.4 495.8 L379.4 502.2 L365.8 511.7 L350 521.2 L335 529.2 L321.5 537.7 L315.1 541.9 L308.3 545.6 L300.3 549.2 L290.2 554.2 L277.7 560.2 L259.7 568.2 L245 573.7 L227.5 582.2Z" fill="#f08a5a" fill-opacity="0.55"/>
<path d="M227.5 580.2 L237 578 L246 575 L256 573.9 L264.2 570.5 L277 566.6 L286.7 565 L294.7 563.4 L301.4 560.9 L307.9 558.4 L312.7 555.2 L317.5 555.3 L322.3 553.9 L328 550.1 L336 549.2 L344.1 545 L351 540.2 L357 536 L363 532 L369.8 530.2 L369.8 540.8 L363 544 L357 547 L351 548.8 L344.1 551.4 L336 555.8 L328 559.9 L322.3 565.5 L317.5 567.3 L312.7 566.2 L307.9 567.4 L301.4 567.5 L294.7 569.6 L286.7 573.6 L277 578.4 L264.2 579.7 L256 580.1 L246 582.4 L237 589 L227.5 591.8Z" fill="#f8d86a" fill-opacity="0.7"/>
<polyline points="342,487.5 355,477.5 367.8,467.8 382.3,457.3 396,446.5 410.5,434.2" fill="none" stroke="#76207a" stroke-width="4.4" stroke-linejoin="round"/>
<polyline points="335,526 350,518 365.8,508.5 379.4,499 392,490 402,484 410.5,480.5" fill="none" stroke="#d8443c" stroke-width="4.2" stroke-linejoin="round"/>
<polyline points="301.4,564.2 307.9,562.9 312.7,560.7 317.5,561.3 322.3,559.7 328,555 336,552.5 344.1,548.2 351,544.5 357,541.5 363,538 369.8,535.5 375,533.5 379.4,531.3 385,528 389,525.7 392.5,524 395.5,523.3 397.5,524.5 399.5,528 401.9,529.7 405,528.5 410.5,527.3" fill="none" stroke="#f9a012" stroke-width="3.8" stroke-linejoin="round"/>
<circle cx="260.2" cy="551.7" r="2.4" fill="#76207a"/>
<circle cx="277.7" cy="536.6" r="2.4" fill="#76207a"/>
<circle cx="290.7" cy="525.7" r="2.4" fill="#76207a"/>
<circle cx="300.3" cy="518.9" r="2.4" fill="#76207a"/>
<circle cx="308.7" cy="512.8" r="2.4" fill="#76207a"/>
<circle cx="315.4" cy="508" r="2.4" fill="#76207a"/>
<circle cx="321.5" cy="503.2" r="2.4" fill="#76207a"/>
<circle cx="327" cy="499.5" r="2.4" fill="#76207a"/>
<circle cx="332" cy="496" r="2.4" fill="#76207a"/>
<circle cx="337" cy="492.5" r="2.4" fill="#76207a"/>
<circle cx="342" cy="489" r="2.4" fill="#76207a"/>
<circle cx="347" cy="485.5" r="2.4" fill="#76207a"/>
<circle cx="352" cy="482" r="2.4" fill="#76207a"/>
<circle cx="357" cy="478.6" r="2.4" fill="#76207a"/>
<circle cx="362" cy="475" r="2.4" fill="#76207a"/>
<circle cx="366" cy="472" r="2.4" fill="#76207a"/>
<circle cx="229.5" cy="574" r="2.4" fill="#76207a"/>
<circle cx="229.2" cy="578.3" r="2.1" fill="#d8443c"/>
<circle cx="259.7" cy="565" r="2.1" fill="#d8443c"/>
<circle cx="277.7" cy="557" r="2.1" fill="#d8443c"/>
<circle cx="290.2" cy="551" r="2.1" fill="#d8443c"/>
<circle cx="300.3" cy="546" r="2.1" fill="#d8443c"/>
<circle cx="308.3" cy="542.4" r="2.1" fill="#d8443c"/>
<circle cx="315.1" cy="538.7" r="2.1" fill="#d8443c"/>
<circle cx="321.5" cy="534.5" r="2.1" fill="#d8443c"/>
<circle cx="326" cy="531.5" r="2.1" fill="#d8443c"/>
<circle cx="330.5" cy="528.5" r="2.1" fill="#d8443c"/>
<circle cx="335" cy="526" r="2.1" fill="#d8443c"/>
<circle cx="339.5" cy="523.5" r="2.1" fill="#d8443c"/>
<circle cx="344" cy="521" r="2.1" fill="#d8443c"/>
<circle cx="348.5" cy="518.5" r="2.1" fill="#d8443c"/>
<circle cx="353" cy="516" r="2.1" fill="#d8443c"/>
<circle cx="357.5" cy="513.5" r="2.1" fill="#d8443c"/>
<circle cx="362" cy="511" r="2.1" fill="#d8443c"/>
<circle cx="246" cy="578.7" r="2.1" fill="#f9a012"/>
<circle cx="264.2" cy="575.1" r="2.1" fill="#f9a012"/>
<circle cx="277" cy="573" r="2.1" fill="#f9a012"/>
<circle cx="286.7" cy="569.3" r="2.1" fill="#f9a012"/>
<circle cx="294.7" cy="565.5" r="2.1" fill="#f9a012"/>
<circle cx="301.4" cy="564.2" r="2.1" fill="#f9a012"/>
<circle cx="307.9" cy="562.9" r="2.1" fill="#f9a012"/>
<circle cx="312.7" cy="560.7" r="2.1" fill="#f9a012"/>
<circle cx="317.5" cy="561.3" r="2.1" fill="#f9a012"/>
<circle cx="322.3" cy="559.7" r="2.1" fill="#f9a012"/>
<circle cx="326.5" cy="557.5" r="2.1" fill="#f9a012"/>
<circle cx="330.5" cy="555.5" r="2.1" fill="#f9a012"/>
<circle cx="334.5" cy="554" r="2.1" fill="#f9a012"/>
<circle cx="338.5" cy="552" r="2.1" fill="#f9a012"/>
<circle cx="342.5" cy="549.5" r="2.1" fill="#f9a012"/>
<circle cx="346.5" cy="547.5" r="2.1" fill="#f9a012"/>
<line x1="229.2" y1="575.4" x2="366.5" y2="469" stroke="#20124a" stroke-width="1.2"/>
<line x1="229.2" y1="581" x2="365.8" y2="510.4" stroke="#20124a" stroke-width="1.2"/>
<line x1="227.5" y1="586.7" x2="335.8" y2="553.8" stroke="#20124a" stroke-width="1.2"/>
</g>
<line x1="288.3" y1="513.8" x2="339.8" y2="461" stroke="#111" stroke-width="1.3"/>
<line x1="318.7" y1="544.5" x2="370.5" y2="518" stroke="#111" stroke-width="1.3"/>
<text x="296" y="482.2" font-size="9.8" font-family='"DejaVu Sans", "Liberation Sans", sans-serif' fill="#222">∝ τ<tspan dy="-4.2" font-size="7.2">2</tspan></text>
<text x="344.4" y="536.2" font-size="9.8" font-family='"DejaVu Sans", "Liberation Sans", sans-serif' fill="#222">∝ τ</text>
<rect x="227.3" y="434.5" width="183.09999999999997" height="158.5" fill="none" stroke="#555" stroke-width="0.9"/>
<path d="M227.3 593h-3M227.3 540.1h-3M227.3 487.2h-3M227.3 434.3h-3M259.2 593.0v3M309.3 593.0v3M359.4 593.0v3M409.5 593.0v3" stroke="#444" stroke-width="0.7"/>
<text x="223.8" y="596.5" font-size="10.2" text-anchor="end" font-family='"DejaVu Sans", "Liberation Sans", sans-serif' fill="#222">0</text>
<text x="223.8" y="543.6" font-size="10.2" text-anchor="end" font-family='"DejaVu Sans", "Liberation Sans", sans-serif' fill="#222">1</text>
<text x="223.8" y="490.7" font-size="10.2" text-anchor="end" font-family='"DejaVu Sans", "Liberation Sans", sans-serif' fill="#222">2</text>
<text x="223.8" y="437.8" font-size="10.2" text-anchor="end" font-family='"DejaVu Sans", "Liberation Sans", sans-serif' fill="#222">3</text>
<text x="259.2" y="607.3" font-size="10.2" text-anchor="middle" font-family='"DejaVu Sans", "Liberation Sans", sans-serif' fill="#222">0.5</text>
<text x="309.3" y="607.3" font-size="10.2" text-anchor="middle" font-family='"DejaVu Sans", "Liberation Sans", sans-serif' fill="#222">1.0</text>
<text x="359.4" y="607.3" font-size="10.2" text-anchor="middle" font-family='"DejaVu Sans", "Liberation Sans", sans-serif' fill="#222">1.5</text>
<text x="409.5" y="607.3" font-size="10.2" text-anchor="middle" font-family='"DejaVu Sans", "Liberation Sans", sans-serif' fill="#222">2.0</text>
<text x="318.7" y="619" font-size="11" text-anchor="middle" font-family='"DejaVu Sans", "Liberation Sans", sans-serif' fill="#111">log(τ[s])</text>
<text transform="translate(211.5 513.9) rotate(-90)" font-size="11" text-anchor="middle" font-family='"DejaVu Sans", "Liberation Sans", sans-serif' fill="#111">log(MSD[μm<tspan dy="-3.8" font-size="7.4">2</tspan><tspan dy="3.8">])</tspan></text>
<g clip-path="url(#clipc)">
<polyline points="496.4,130.6 503.4,129.3 510.5,128.2 517.5,126.9 524.5,125.8 531.6,124.6 538.6,123.5 545.6,123 552.6,121.7 559.7,120.5 566.7,119.4 569.9,120.3 573,121.2 576.2,121.4 579.4,121.4 582.5,120.6 585.7,120.2 588.9,119.3 592,119.4 595.2,118.7 598.3,117.9 601.5,118 604.7,116.1 607.8,115.2 611,113.8 614.2,113.8 617.3,114.9 620.5,113.9 623.7,113.4 626.8,114.5 630,113.5 633.1,114.2 636.3,110.7 639.5,112.4 642.6,113.1 645.8,114" fill="none" stroke="#8acb58" stroke-width="0.9" stroke-opacity="0.95"/>
<polyline points="496.4,151 503.4,148.3 510.5,146 517.5,143.7 524.5,141.5 531.6,139.3 538.6,137 545.6,134.2 552.6,132.3 559.7,130.2 566.7,127.7 569.9,125.4 573,123.8 576.2,124.2 579.4,125.1 582.5,123.8 585.7,123.2 588.9,123 592,121.1 595.2,119.1 598.3,117.9 601.5,116.6 604.7,115.1 607.8,112.7 611,111.1 614.2,109.6 617.3,107.8 620.5,106.5 623.7,106.3 626.8,102.9 630,104.5 633.1,105.2 636.3,103.5 639.5,102.1 642.6,100.3 645.8,102.1 647.2,118.5 649,101 652.1,101.9" fill="none" stroke="#d6ea70" stroke-width="0.9" stroke-opacity="0.95"/>
<polyline points="509.7,152.8 516.8,149.5 523.8,146.6 530.8,143.2 537.9,140.4 544.9,137.2 551.9,133.8 559,129.9 566,126.8 569.1,125.3 572.3,124.2 575.5,123 578.6,122.5 581.8,121.5 585,119 588.1,117.9 591.3,116 594.5,114.3 597.6,113.7 600.8,111.5 603.9,109.1 607.1,107.9 610.3,106.9 613.4,105.4 616.6,106.2 619.8,104.8 622.9,104.3 626.1,102.3 629.3,104.1 632.4,102.8 635.6,100.1 638.7,99.6 641.9,98.5 645.1,99.1 648.2,96.9 651.4,97.7" fill="none" stroke="#4fb257" stroke-width="0.9" stroke-opacity="0.95"/>
<polyline points="496.4,127.9 503.4,125.6 510.5,122.6 517.5,119.9 524.5,116.9 531.6,114.3 538.6,112.4 545.6,109.7 552.6,107.3 559.7,104.5 566.7,101.4 569.9,101 573,98.6 576.2,97.5 579.4,97.1 582.5,95.5 585.7,94.4 588.9,92.4 592,90.7 595.2,90 598.3,88 601.5,85.7 604.7,84.6 607.8,81.6 611,80.4 614.2,79.8 617.3,76.7 620.5,74.5 623.7,72.4 626.8,70 630,70.5 633.1,66.8 636.3,66.9 639.5,65.1 642.6,63.7" fill="none" stroke="#c3e066" stroke-width="0.9" stroke-opacity="0.95"/>
<polyline points="496.4,134 503.4,133 510.5,132 517.5,131.1 524.5,129.7 531.6,128.6 538.6,127.1 545.6,126.3 552.6,125.1 559.7,123.7 566.7,122.6 569.9,121.5 573,121.5 576.2,121.3 579.4,121.1 582.5,120.4 585.7,119.2 588.9,119.1 592,119.6 595.2,118.8 598.3,117.6 601.5,117.5 604.7,116.2 607.8,116.1 611,116.6 614.2,116.2 617.3,113.9 618.7,136.8 620.5,113.3 623.7,111.9" fill="none" stroke="#8acb58" stroke-width="0.9" stroke-opacity="0.95"/>
<polyline points="496.4,151.6 503.4,148.6 510.5,145.5 517.5,142.5 524.5,139.5 531.6,136.5 538.6,133.5 545.6,130.5 552.6,127.9 559.7,124.3 566.7,121.4 569.9,120.4 573,119.2 576.2,116.9 579.4,115.3 582.5,114.8 585.7,113.4" fill="none" stroke="#6bbf55" stroke-width="0.9" stroke-opacity="0.95"/>
<polyline points="510.2,137.4 517.3,135.7 524.3,134.1 531.3,132.1 538.4,130.1 545.4,127.9 552.4,125.7 559.5,123.5 566.5,121.7 569.6,121.3 572.8,120 576,118.6 579.1,117.1 582.3,116.2 585.5,115.8 588.6,114.6 591.8,114 595,113.5 598.1,113.2 601.3,113 604.4,114.7 607.6,114.5 610.8,113.2 613.9,112.6 617.1,111.3 620.3,111.8 623.4,109.5 626.6,110.5 629.8,110 632.9,108.3 636.1,108.4 639.2,108.3 642.4,103.7 645.6,101.6" fill="none" stroke="#a8d65c" stroke-width="0.9" stroke-opacity="0.95"/>
<polyline points="496.4,149.1 503.4,148.2 510.5,147.2 517.5,146.1 524.5,144.6 531.6,143.7 538.6,142.6 545.6,141.6 552.6,140.5 559.7,139.5 566.7,138.2 569.9,138.4 573,138.5 576.2,137.1 579.4,136.1 582.5,135.9 585.7,134.7 588.9,133.5 592,133 595.2,132.2 598.3,131.5 601.5,130.8 604.7,130.2 607.8,129 611,129" fill="none" stroke="#6bbf55" stroke-width="0.9" stroke-opacity="0.95"/>
<polyline points="496.4,139.7 503.4,135.9 510.5,133.4 517.5,130.2 524.5,127.1 531.6,123.9 538.6,121 545.6,117.6 552.6,114.6 559.7,111.7 566.7,109 569.9,108 573,105.8 576.2,104.5 579.4,102.9" fill="none" stroke="#4fb257" stroke-width="0.9" stroke-opacity="0.95"/>
<polyline points="509.9,143.9 516.9,142.8 523.9,141.8 530.9,141 538,140 545,138.9 552,137.6 559.1,137.1 566.1,136.2 569.3,136.3 572.4,135.9 575.6,134.8 578.7,134.8 581.9,134.2 585.1,134.3 588.2,133.7 591.4,131.2 594.6,131.2 597.7,131.4 600.9,131.1 604.1,130 607.2,129.7 610.4,129.2 613.5,128.8 616.7,129 619.9,127.2 621.3,141.2 623,126.3 626.2,123.8 629.4,124 632.5,123.3 635.7,122.7 638.9,120" fill="none" stroke="#a8d65c" stroke-width="0.9" stroke-opacity="0.95"/>
<polyline points="496.4,148.5 503.4,146.1 510.5,143.7 517.5,141.7 524.5,139.9 531.6,138.3 538.6,136 545.6,134.6 552.6,132.6 559.7,130.5 566.7,128.8 569.9,127.8 573,127 576.2,126.7 579.4,127.1 582.5,126.6 585.7,127.7 588.9,127 592,126.3 595.2,124.3 598.3,123.1 601.5,121.4 604.7,120.6 607.8,120 611,119 614.2,117.1 617.3,116.2 620.5,115.7 623.7,113 626.8,111.7 630,111.5 633.1,114.2 636.3,113 639.5,112.3 642.6,113.1 645.8,112 649,112 652.1,108.8 655.3,107.4" fill="none" stroke="#3aa65c" stroke-width="0.9" stroke-opacity="0.95"/>
<polyline points="496.4,143.3 503.4,140.5 510.5,138.1 517.5,135.3 524.5,133.1 531.6,130.6 538.6,127.7 545.6,124.9 552.6,122.1 559.7,119 566.7,116.4 569.9,115.4 573,115.7 576.2,114.2 579.4,112.2 582.5,111.3 585.7,110.3 588.9,108.6 592,107 595.2,106 598.3,105.3 601.5,104.4 604.7,105.2 607.8,104.4 611,102.3 614.2,100.1 617.3,103.2 620.5,102.7 623.7,100.2 625.1,119.3 626.8,100.7 630,101.4 633.1,100.1 634.5,123.6 636.3,100.8 639.5,96.7 642.6,92.8 645.8,89.1 649,88.8 652.1,86.3 655.3,87" fill="none" stroke="#1f8f6a" stroke-width="0.9" stroke-opacity="0.95"/>
<polyline points="496.4,130.3 503.4,128.1 510.5,125.6 517.5,123.2 524.5,121.2 531.6,118.9 538.6,116.5 545.6,114.1 552.6,112 559.7,109.3 566.7,107.2 569.9,106 573,104.6 576.2,102.8 579.4,102.1 582.5,101.3 585.7,100.5 588.9,98.8 592,98.4 595.2,96.5 598.3,96 601.5,94.5 604.7,92.7 607.8,91.7 611,90.1 614.2,89.1 617.3,91 620.5,90.1 623.7,87.2 626.8,86.9 630,86.8 633.1,88 636.3,87.9 639.5,89.2 642.6,87.4 645.8,88.2 649,88 652.1,87.2 655.3,86.1 658.5,85.3 661.6,85.9 664.8,87.6" fill="none" stroke="#d6ea70" stroke-width="0.9" stroke-opacity="0.95"/>
<polyline points="496.4,136.4 503.4,134.8 510.5,132.8 517.5,131.5 524.5,130 531.6,128.6 538.6,126.7 545.6,125.2 552.6,123.5 559.7,122.2 566.7,120.8 569.9,120.1 573,120.9 576.2,119.1 579.4,117.7 582.5,118.5 585.7,117.2 588.9,116.7 592,115.6 595.2,114.7 598.3,115.2 601.5,114.8 604.7,112.9 607.8,112.7 611,112.9 614.2,113.3 617.3,115.1 620.5,114.1 623.7,113.1 626.8,108.5 630,107 633.1,105.6 636.3,104.6 639.5,103.6 642.6,104.2 645.8,102.9 649,103.1" fill="none" stroke="#4fb257" stroke-width="0.9" stroke-opacity="0.95"/>
<polyline points="496.4,144.1 503.4,140.6 510.5,137.4 517.5,134.3 524.5,131.4 531.6,128.2 538.6,124.7 545.6,121.3 552.6,118.2 559.7,114.8 566.7,111.6 569.9,111.2 573,109.2 576.2,107.3 579.4,104.6 582.5,103.2 585.7,102.7 588.9,100.7 592,97.2 595.2,96.4 598.3,93.6 601.5,92.1 604.7,90.1 607.8,88.6 611,87.8 614.2,85.5 617.3,85.2 620.5,83.8 623.7,80.9 626.8,78.8 630,76.3 633.1,74.9 636.3,73.4 639.5,69.3 642.6,70.6 645.8,68.1" fill="none" stroke="#c3e066" stroke-width="0.9" stroke-opacity="0.95"/>
<polyline points="496.4,143.4 503.4,141.6 510.5,140 517.5,138.1 524.5,136.3 531.6,134.7 538.6,132.8 545.6,131.2 552.6,129.9 559.7,127.8 566.7,126 569.9,126.1 573,124.4 576.2,123.4 579.4,123.9 582.5,121.9 585.7,120.9 588.9,119.4 592,118.5 595.2,117.9 598.3,118.4 601.5,116.9 604.7,116.1 607.8,115.6 611,114.6 614.2,113.7 617.3,112 620.5,112.1 623.7,112.4 626.8,110.6 630,110.3 633.1,106.8 636.3,103.2" fill="none" stroke="#2a9a63" stroke-width="0.9" stroke-opacity="0.95"/>
<polyline points="496.4,136.5 503.4,133.3 510.5,129.9 517.5,127.3 524.5,124.1 531.6,120.8 538.6,117.2 545.6,114 552.6,111.4 559.7,108.2 566.7,105.4 569.9,104.3 573,102.2 576.2,101.7 579.4,99.2 582.5,97.3 585.7,95.6 588.9,94.2 592,93.4 595.2,91.8 598.3,90.3 601.5,89.5 604.7,88.3 607.8,85.2 611,84 614.2,82 617.3,81.1 620.5,78.3 623.7,76 626.8,74.9 630,71.9 633.1,71 636.3,73.6 639.5,71.8 642.6,72.1 645.8,71.2 649,71.4" fill="none" stroke="#8acb58" stroke-width="0.9" stroke-opacity="0.95"/>
<polyline points="496.4,144.1 503.4,141.5 510.5,139.5 517.5,137.3 524.5,134.6 531.6,132.5 538.6,130.3 545.6,127.9 552.6,126.2 559.7,123.7 566.7,121.5 569.9,120.3 573,120.6 576.2,120.5 579.4,119.4 582.5,118.2 585.7,117.7 588.9,116.8 592,117 595.2,116.8 598.3,115.9 601.5,115.1 604.7,114.9 607.8,114.9 611,114.1 614.2,113 617.3,112.6 620.5,111.4 623.7,111.2 626.8,114.7 630,115.5 633.1,113.9 636.3,111.1 639.5,110" fill="none" stroke="#d6ea70" stroke-width="0.9" stroke-opacity="0.95"/>
<polyline points="496.4,129.2 503.4,127.7 510.5,125.6 517.5,123.9 524.5,122.2 531.6,120.5 538.6,119.1 545.6,117 552.6,114.9 559.7,113.1 566.7,111.1 569.9,109 573,108.2 576.2,107.3 579.4,105.7 582.5,105.4 585.7,104.2 588.9,104.1 592,102.6 595.2,102.4 598.3,101.5 601.5,100.6 604.7,100.8 607.8,100.3 611,99.2 614.2,98.6 617.3,99.3 620.5,100 623.7,99.9 626.8,97.1 630,99.9 633.1,99.1 636.3,95.4 639.5,91.6 642.6,86.9 645.8,85" fill="none" stroke="#4fb257" stroke-width="0.9" stroke-opacity="0.95"/>
<polyline points="496.4,148.1 503.4,146.1 510.5,144.6 517.5,143.2 524.5,141.6 531.6,139.9 538.6,138 545.6,136.6 552.6,135.4 559.7,133.7 566.7,132.7 569.9,132.7 573,133.1 576.2,132.9 579.4,131.6 582.5,132.5 585.7,131.5 588.9,130.7 592,131.2 595.2,130.8 598.3,129.7 601.5,129.6 604.7,128.6 607.8,128.5 611,127.9 614.2,124.9 617.3,124.4 620.5,126.4 623.7,125.2 626.8,124 630,125.4 633.1,127.2 636.3,124.2 639.5,122.9 642.6,122.2 645.8,121.9 649,122.3 652.1,123.7" fill="none" stroke="#2a9a63" stroke-width="0.9" stroke-opacity="0.95"/>
<polyline points="496.4,152.8 503.4,149.7 510.5,146.5 517.5,143.5 524.5,140.7 531.6,137.3 538.6,133.9 545.6,130.4 552.6,127.4 559.7,123.8 566.7,120.6 569.9,118.4 573,116.6 576.2,115.5 579.4,114.2 582.5,111.8 585.7,110.6 588.9,109 592,107.4 595.2,105.6 598.3,103.1 601.5,102.2 604.7,100.4 607.8,99.3 611,97.9 614.2,96.9 617.3,98.5 620.5,98.1 623.7,99.4 626.8,99.3 630,95.7 633.1,94.9 636.3,94.4 639.5,87.8 642.6,86.6 645.8,87.7 649,83.4 652.1,81.4 655.3,77.9 658.5,77.2" fill="none" stroke="#a8d65c" stroke-width="0.9" stroke-opacity="0.95"/>
<polyline points="496.4,150.7 503.4,148.6 510.5,146.3 517.5,144.1 524.5,142.2 531.6,139.9 538.6,138.1 545.6,136.1 552.6,134.1 559.7,132 566.7,130.3 569.9,128.2 573,127.2 576.2,126.2 579.4,124.9 582.5,125.2 585.7,124.5 588.9,123.5 592,121.9 595.2,120 598.3,119.3 601.5,116.9 604.7,115.7 607.8,114.9 611,113.2 614.2,113.8 617.3,115.2 620.5,116 621.9,128.2 623.7,116.5 626.8,115.8 630,114.7 633.1,113.1 636.3,114.5 639.5,115.6" fill="none" stroke="#a8d65c" stroke-width="0.9" stroke-opacity="0.95"/>
<polyline points="508.7,142.3 515.8,141.4 522.8,140.4 529.8,139.4 536.8,138.2 543.9,137.6 550.9,137.1 557.9,136 565,135.2 568.1,134.6 571.3,133.7 574.5,132.9 577.6,131.8 580.8,131.2 583.9,130.7 587.1,131.5 590.3,130.4 593.4,131 596.6,130.6 599.8,129.2 602.9,130 606.1,129.1 609.3,129.2 612.4,128.9 615.6,129.8 618.7,133.2 621.9,132.7 625.1,132.6 628.2,132.5 631.4,136.7 634.6,135.1 637.7,136 640.9,137.6 644.1,139.4 647.2,142.7 650.4,141.7 653.5,144.1 656.7,142.7 659.9,141.8" fill="none" stroke="#3aa65c" stroke-width="0.9" stroke-opacity="0.95"/>
<polyline points="496.4,131.6 503.4,130.2 510.5,128.9 517.5,127.7 524.5,126.6 531.6,125.2 538.6,124 545.6,122.4 552.6,121.5 559.7,120.1 566.7,118.2 569.9,118.8 573,118.5 576.2,116.9 579.4,117.3 582.5,116.9 585.7,117.1 588.9,116.6 592,115.5 595.2,113 598.3,112 601.5,110.3 604.7,110.5 607.8,108.8 611,107.5 614.2,107.6 617.3,108.7 620.5,107.6 623.7,109.9 626.8,109.6 630,107.5 633.1,106.8 636.3,110.5 639.5,111.7 642.6,111 645.8,108.4 649,107.6 652.1,104.9 655.3,103.8" fill="none" stroke="#d6ea70" stroke-width="0.9" stroke-opacity="0.95"/>
<polyline points="496.4,140.8 503.4,138 510.5,134.8 517.5,131.5 524.5,128 531.6,125 538.6,121.4 545.6,118.2 552.6,114.4 559.7,111.2 566.7,107.8 569.9,106.7 573,106.1 576.2,103.8 579.4,101.6 582.5,98.9 585.7,96.8 588.9,95.8 592,95.7 595.2,94.8 598.3,93.9 601.5,93.1" fill="none" stroke="#2a9a63" stroke-width="0.9" stroke-opacity="0.95"/>
<polyline points="496.4,142.5 503.4,140.5 510.5,138.2 517.5,136.4 524.5,134.3 531.6,132.5 538.6,131 545.6,129.3 552.6,127.5 559.7,125.6 566.7,124 569.9,123.6 573,122.2 576.2,122 579.4,121.8 582.5,121.2 585.7,121.5 588.9,120.4 592,119.6 595.2,118.2 598.3,117.9 601.5,116 604.7,115.5 607.8,115.6 611,114.9 614.2,112.7 617.3,110.9 620.5,112.6 623.7,112.4 626.8,114.3 630,112.3 633.1,112.1 636.3,110.1 639.5,107.2 642.6,105.7" fill="none" stroke="#2a9a63" stroke-width="0.9" stroke-opacity="0.95"/>
<polyline points="496.4,145.4 503.4,143.5 510.5,142.1 517.5,140.7 524.5,138.9 531.6,137.3 538.6,135.4 545.6,133.9 552.6,132.2 559.7,130.5 566.7,129.3 569.9,129.4 573,128.1 576.2,127.3 579.4,127.4 582.5,126.4 585.7,124.3 588.9,122.5 592,122.6 595.2,122.3" fill="none" stroke="#3aa65c" stroke-width="0.9" stroke-opacity="0.95"/>
<polyline points="496.4,141.9 503.4,139.4 510.5,137.4 517.5,135.2 524.5,133 531.6,130.9 538.6,128.4 545.6,126.2 552.6,124 559.7,121.9 566.7,120.1 569.9,118.6 573,116.4 576.2,115.2 579.4,114.9 582.5,116 585.7,114.8 588.9,112.8 592,111.5 595.2,109.7 598.3,107.4" fill="none" stroke="#2a9a63" stroke-width="0.9" stroke-opacity="0.95"/>
<polyline points="509.3,136.5 516.4,135.7 523.4,135 530.4,133.8 537.4,133.7 544.5,132.5 551.5,131.5 558.5,130.3 565.6,129 568.7,129.2 571.9,129.6 575.1,130 578.2,129.6 581.4,128.4 584.5,127.7 587.7,127.2 590.9,125.8 594,126 597.2,126 600.4,126.6 603.5,125.6 606.7,124.8 609.9,126 613,124.5 616.2,121.5 619.3,122.3 622.5,123.1 625.7,122.6 628.8,121.9 632,122.8 635.2,122.1 638.3,122.8 641.5,122 644.7,123.5 647.8,125.2" fill="none" stroke="#4fb257" stroke-width="0.9" stroke-opacity="0.95"/>
<polyline points="496.4,143.8 503.4,142 510.5,140.3 517.5,138.4 524.5,136.3 531.6,134.7 538.6,132.8 545.6,131.2 552.6,129.6 559.7,128.1 566.7,125.7 569.9,124.7 573,124.1 576.2,122.4 579.4,123.1 582.5,122.2 585.7,121.8 588.9,120.4 592,120.5 595.2,119.5 598.3,118.7 601.5,116.7 604.7,116.2 607.8,115.4 611,114.1 614.2,112.9 617.3,111.3 620.5,111.3 623.7,109.8 626.8,107.3 630,103.2 633.1,104.6 636.3,107.5" fill="none" stroke="#c3e066" stroke-width="0.9" stroke-opacity="0.95"/>
<polyline points="496.4,148.3 503.4,146.1 510.5,144.5 517.5,142.7 524.5,140.5 531.6,138.9 538.6,137 545.6,135 552.6,133.5 559.7,131.9 566.7,129.9 569.9,128.4 573,127.9 576.2,128 579.4,127.4 582.5,125.7 585.7,128 588.9,125.6 592,125 595.2,124.6 598.3,124.5 601.5,122.8 604.7,121.7 607.8,120.8 611,120.2 614.2,122.3 617.3,121.5 620.5,121.6 623.7,120.3 626.8,118.6 630,115.8 633.1,113.6 636.3,117 639.5,117.8 642.6,117.2 645.8,116 649,117.1" fill="none" stroke="#8acb58" stroke-width="0.9" stroke-opacity="0.95"/>
<polyline points="509.7,141.2 516.8,139.4 523.8,137.8 530.8,136.3 537.9,134.8 544.9,133.8 551.9,132.3 559,130.8 566,129.2 569.1,128.4 572.3,127 575.5,124.6 578.6,124.8 581.8,124.9 585,123.7 588.1,124.7 591.3,124.9 594.5,124.9 597.6,125 600.8,125.2 603.9,125.5 607.1,125.5 610.3,124.5 613.4,122.6 616.6,123.2 619.8,121.9 622.9,121.2 626.1,120.2 629.3,120.7 632.4,121.7 635.6,122.6 638.7,122.6 641.9,123 645.1,120.6 648.2,117.9 651.4,116.6 654.6,115.1" fill="none" stroke="#1f8f6a" stroke-width="0.9" stroke-opacity="0.95"/>
<polyline points="496.4,126 503.4,124.8 510.5,123.3 517.5,121.9 524.5,120.4 531.6,119.4 538.6,118.2 545.6,116.9 552.6,116.1 559.7,115.6 566.7,114.2 569.9,114.1 573,112.9 576.2,111.7 579.4,111.3 582.5,109.7 585.7,110.4 588.9,109.5 592,108.2 595.2,108 598.3,107.5 601.5,108.2 604.7,106.8 607.8,105.2 611,104.9 614.2,103.4 617.3,105.8 620.5,105.3 623.7,104.5 626.8,104 630,104.6 633.1,106.6 636.3,110 639.5,112.4 642.6,113.9 645.8,109.3 649,106.5 652.1,101.9" fill="none" stroke="#c3e066" stroke-width="0.9" stroke-opacity="0.95"/>
<polyline points="510,125.4 517,124 524.1,122.9 531.1,121.5 538.1,119.6 545.2,117.6 552.2,116.1 559.2,114.7 566.3,113.3 569.4,114.1 572.6,112.7 575.7,112.8 578.9,111.3 582.1,111.9 585.2,112.3 588.4,111.3 591.6,111.2 594.7,109.9 597.9,109.2 601.1,109.4 604.2,108.2 607.4,106.9 610.5,107.7 613.7,105.5 616.9,104.4 620,102.5 623.2,105.5 626.4,103" fill="none" stroke="#8acb58" stroke-width="0.9" stroke-opacity="0.95"/>
<polyline points="496.4,145.6 503.4,142.9 510.5,140.1 517.5,137.3 524.5,134.9 531.6,131.9 538.6,128.8 545.6,126.2 552.6,123.2 559.7,120.4 566.7,118 569.9,117 573,115.9 576.2,114.4 579.4,114 582.5,112.2 585.7,111 588.9,108.3 592,107.4 595.2,105.3 598.3,103.9 601.5,102.2 604.7,99.7 607.8,97.7 611,96.7 614.2,94.4 617.3,95.6 620.5,92.2 623.7,89.4 626.8,89.6 630,89.5 633.1,88.4 636.3,88 639.5,84.7 642.6,82.1 645.8,83 649,80.8 652.1,80.6 655.3,81.9 658.5,82.4 661.6,84.8 664.8,78.8" fill="none" stroke="#c3e066" stroke-width="0.9" stroke-opacity="0.95"/>
<polyline points="510.3,132.4 517.3,130.5 524.3,128.7 531.4,126.6 538.4,125.2 545.4,123.9 552.5,122.2 559.5,120.6 566.5,119 569.7,118 572.8,114.7 576,114.5 579.2,113.6 582.3,112.6 585.5,111.8 588.7,110.2 591.8,108 595,108.1 598.2,107.2 601.3,106.6 604.5,105.5 607.6,105.9 610.8,106.5 614,107.5 617.1,106 620.3,105.1 623.5,105.2" fill="none" stroke="#2a9a63" stroke-width="0.9" stroke-opacity="0.95"/>
<polyline points="496.4,139.3 503.4,137.3 510.5,136.1 517.5,134.1 524.5,132.6 531.6,130.4 538.6,128.9 545.6,126.8 552.6,124.7 559.7,122.6 566.7,120.6 569.9,120.8 573,119 576.2,117.9 579.4,119.1 582.5,117.6 585.7,117.1 588.9,116 592,115.2 595.2,113.7 598.3,113 601.5,112.2 604.7,111 607.8,110.7 611,109.4 614.2,108.6 617.3,109.2 620.5,107.1 623.7,107.9 626.8,107.3 630,106.3 633.1,105.3 636.3,106.1 639.5,106.6 642.6,106 645.8,104.4 649,108" fill="none" stroke="#a8d65c" stroke-width="0.9" stroke-opacity="0.95"/>
<polyline points="510.5,128.6 517.5,127.1 524.5,125.9 531.6,125 538.6,123.2 545.6,121.6 552.6,120.5 559.7,119.5 566.7,118.2 569.9,116.2 573,115.7 576.2,115.7 579.4,115.3 582.5,116.5 585.7,115.3 588.8,114.6 592,113.1 595.2,112.2 598.3,111.4 601.5,110.7 604.7,111.5 607.8,110.9 611,110.1 614.2,108.6 617.3,107 620.5,106.8 623.6,105.2 626.8,103.9 630,105.9 633.1,105.7 636.3,107.3 639.5,106.3 642.6,107.6 645.8,107.5 649,107.2 652.1,105.8 655.3,106.5 658.4,106.9 661.6,105.8" fill="none" stroke="#d6ea70" stroke-width="0.9" stroke-opacity="0.95"/>
<polyline points="496.4,144.1 503.4,141.3 510.5,138.2 517.5,135.6 524.5,132.5 531.6,129.8 538.6,126.6 545.6,123.5 552.6,120.7 559.7,117.8 566.7,114.9 569.9,114 573,112.7 576.2,111.1 579.4,110.2 582.5,109.2 585.7,108.3 588.9,106.1 592,104.6 595.2,103.4 598.3,100.9 601.5,100.2 604.7,99.1 607.8,96.2 611,95.5 614.2,94.9 617.3,93.9 620.5,91 623.7,89.4 626.8,87.2 630,86.2 633.1,86.2 636.3,86.6 639.5,86.1 642.6,87 645.8,85.6 649,86.6 652.1,87.9 655.3,82.2 658.5,80.1" fill="none" stroke="#8acb58" stroke-width="0.9" stroke-opacity="0.95"/>
<polyline points="510.1,135.1 517.2,131.6 524.2,128.8 531.2,125.4 538.3,122.5 545.3,119.1 552.3,115.7 559.4,112.4 566.4,109.3 569.6,107.8 572.7,105.1 575.9,102 579,100.3 582.2,100.7 585.4,100.2 588.5,99.9 591.7,97.2 594.9,96.9 598,94.4 601.2,92.7 604.3,91.4 607.5,88.8 610.7,87.5 613.8,85.1 617,81.8 620.2,82 623.3,85.2 626.5,82.3 629.7,81.9 632.8,81.6 636,82.1 639.1,81.2 642.3,79.7" fill="none" stroke="#a8d65c" stroke-width="0.9" stroke-opacity="0.95"/>
<polyline points="496.4,127.8 503.4,125.2 510.5,122.8 517.5,120.4 524.5,117.5 531.6,115.3 538.6,112.2 545.6,109.7 552.6,106.7 559.7,104.1 566.7,101.5 569.9,100.6 573,98.9 576.2,99.8 579.4,99.2 582.5,99.4 585.7,97.2 588.9,94.9 592,92.1 595.2,91.2 598.3,89.4 601.5,88.4 604.7,85.5 607.8,84.3 611,82.8 614.2,80.6 617.3,79.5 620.5,80.2 623.7,77.2 626.8,78.3 630,74.9 633.1,76 636.3,79.1 639.5,77.5 642.6,75.7 645.8,74.4 649,74.3" fill="none" stroke="#3aa65c" stroke-width="0.9" stroke-opacity="0.95"/>
<polyline points="496.4,138.6 503.4,136.5 510.5,134.1 517.5,131.9 524.5,129.6 531.6,127.6 538.6,125.5 545.6,123.4 552.6,121 559.7,119.2 566.7,117 569.9,115.3 573,114.9 576.2,113.2 579.4,113.2 582.5,112.8 585.7,110.5 588.9,109.5 592,107.7 595.2,106.8" fill="none" stroke="#3aa65c" stroke-width="0.9" stroke-opacity="0.95"/>
<polyline points="496.4,144.6 503.4,141.4 510.5,138.7 517.5,136 524.5,133.5 531.6,130 538.6,126.7 545.6,124.3 552.6,121.2 559.7,118.3 566.7,115.3 569.9,114.5 573,113.9 576.2,112.7 579.4,112.1 582.5,111.4 585.7,109.5 588.9,109.4 592,108.9 595.2,107.3 598.3,104.8 601.5,103.3 604.7,102.1 607.8,100.8 611,99 614.2,97.5 617.3,98.4 620.5,96.4 623.7,94.8 626.8,92.9 630,91.5 633.1,94.6 636.3,93.8 639.5,93.7 642.6,91.4 645.8,89.7 649,89.3 652.1,86.8 655.3,83.3 658.5,82.9 661.6,80.9 664.8,76.2" fill="none" stroke="#1f8f6a" stroke-width="0.9" stroke-opacity="0.95"/>
<polyline points="496.4,152.2 503.4,149.6 510.5,147.2 517.5,144.5 524.5,141.9 531.6,139.3 538.6,136.5 545.6,133.6 552.6,131.5 559.7,129.1 566.7,126.3 569.9,125.7 573,124.3 576.2,122.7 579.4,121.9 582.5,121 585.7,120.8 588.9,119.8 592,118.3 595.2,117.1 598.3,115 601.5,114.2 604.7,113.9 607.8,112.5 611,111 614.2,111 617.3,111.1 620.5,112.6 623.7,111.8 626.8,110.6 630,109.1 633.1,108.5 636.3,106.4 639.5,105.4 642.6,104 645.8,103 649,100.9 652.1,98 655.3,95.8 658.5,96.5 661.6,91.7" fill="none" stroke="#4fb257" stroke-width="0.9" stroke-opacity="0.95"/>
<polyline points="496.4,128.6 503.4,127.6 510.5,126.4 517.5,125 524.5,124 531.6,123.3 538.6,122.3 545.6,121.6 552.6,120.3 559.7,119.5 566.7,118.3 569.9,117.1 573,116.9 576.2,115.6 579.4,115.7 582.5,116 585.7,115 588.9,115.1 592,113.9 595.2,113.6 598.3,113 601.5,112.4 604.7,112.5 607.8,111.7 611,110.9 614.2,111.9 617.3,112.5 620.5,115.5 623.7,114.5 626.8,113.8 630,111.7 633.1,112 636.3,109.7 639.5,111.4" fill="none" stroke="#c3e066" stroke-width="0.9" stroke-opacity="0.95"/>
<polyline points="496.4,144.1 503.4,141.5 510.5,139 517.5,136.9 524.5,134.6 531.6,132.2 538.6,130.2 545.6,128 552.6,126 559.7,123.8 566.7,121.2 569.9,119.7 573,118.4 576.2,117 579.4,116.5 582.5,115.7 585.7,114.9 588.9,114.6 592,113.8 595.2,113.5 598.3,112.4 601.5,110.7 604.7,109.4 607.8,108.3 611,106.9 614.2,105.9 617.3,106.7 620.5,103.3 623.7,104.3 626.8,102.5 630,100.7 633.1,100.9 636.3,101.6 639.5,101.3 642.6,101.9 645.8,102 649,102.2 652.1,101.7 655.3,103.9 658.5,102.5 661.6,100.8" fill="none" stroke="#3aa65c" stroke-width="0.9" stroke-opacity="0.95"/>
<polyline points="496.4,135.7 503.4,133.6 510.5,132 517.5,130.2 524.5,127.7 531.6,125.3 538.6,123.5 545.6,121.9 552.6,119.5 559.7,117.7 566.7,115.8 569.9,116.9 573,116 576.2,115.3 579.4,114.9 582.5,112.7 585.7,112.7 588.9,110.3 592,110.5 595.2,108.9 598.3,106.9 601.5,105.9 604.7,104.8 607.8,102.9 611,103.1 614.2,100.5 617.3,101.5 620.5,100.2 623.7,98.1 626.8,99.7 630,98.3 633.1,94.9 636.3,95.5 639.5,94.7 642.6,95.1 645.8,94.9 649,94.1 652.1,92 655.3,91.8" fill="none" stroke="#c3e066" stroke-width="0.9" stroke-opacity="0.95"/>
<polyline points="496.4,144.2 503.4,142.3 510.5,140 517.5,137.8 524.5,135.8 531.6,133.9 538.6,131.9 545.6,129.7 552.6,127.9 559.7,125.8 566.7,123.8 569.9,123.4 573,123.4 576.2,123.8 579.4,122.5 582.5,121.4 585.7,120.8 588.9,120 592,118.3 595.2,117.3 598.3,116.1 601.5,115.3 604.7,113.8 607.8,113.1 611,113 614.2,111.5 617.3,109.8 620.5,109.9 623.7,108.3 626.8,104.6 630,104.1 633.1,101 636.3,100.6 639.5,101.1 642.6,99.9 645.8,96.9 649,97.6 652.1,97.7 655.3,98.2 658.5,94.4 661.6,93.2" fill="none" stroke="#3aa65c" stroke-width="0.9" stroke-opacity="0.95"/>
<polyline points="496.4,127.3 503.4,125.8 510.5,124.4 517.5,122.8 524.5,121 531.6,119 538.6,117.6 545.6,116 552.6,114.3 559.7,112.3 566.7,110.4 569.9,106.7 573,107.6 576.2,107.1 579.4,106.2 582.5,105.3 585.7,103.8 588.9,103.4 592,105.3 595.2,105.5 598.3,105.4 601.5,104.3 604.7,103.2 607.8,101.7 611,100.1 614.2,101.2 617.3,97.7 620.5,98.5 623.7,97.8 626.8,100 630,101.8 633.1,100.7 636.3,99.9 639.5,99.2 642.6,98.6 644,122 645.8,98.4 649,99.7" fill="none" stroke="#d6ea70" stroke-width="0.9" stroke-opacity="0.95"/>
<polyline points="496.4,141.5 503.4,138.1 510.5,135.1 517.5,132.1 524.5,129.1 531.6,126.2 538.6,123.5 545.6,120.6 552.6,117.2 559.7,113.8 566.7,110.9 569.9,109.9 573,109.1 576.2,108.6 579.4,105.9 582.5,104 585.7,102.5 588.9,101.5 592,101 595.2,98.6 598.3,96.6 601.5,96 604.7,93.8 607.8,93.3 611,91.4 614.2,90.8 617.3,90.6 620.5,88 623.7,83.4 626.8,81.6 630,81.7 633.1,80.8 636.3,77.6 639.5,77.5 642.6,76.9 645.8,74.3 649,72.4 652.1,69.9 655.3,70.7 658.5,65.5 661.6,60.7 664.8,58.9" fill="none" stroke="#c3e066" stroke-width="0.9" stroke-opacity="0.95"/>
<polyline points="496.4,126.5 503.4,125.1 510.5,124.1 517.5,123.1 524.5,121.8 531.6,120.9 538.6,120.2 545.6,118.9 552.6,118.2 559.7,116.9 566.7,116.2 569.9,114.3 573,114.7 576.2,113.6 579.4,112 582.5,112.3 585.7,110.7 588.9,110.8 592,111.8 595.2,110.8 598.3,109.8 601.5,109.5 604.7,111 607.8,110.6 611,110.4 614.2,110.2 617.3,110.4 620.5,109.8 623.7,110.3 626.8,110.1 630,108.5 633.1,109 636.3,109.2 639.5,108.5 642.6,109.3 645.8,109.7" fill="none" stroke="#d6ea70" stroke-width="0.9" stroke-opacity="0.95"/>
<polyline points="510,137.5 517,136.7 524,135.7 531.1,134.8 538.1,133.9 545.1,133.3 552.1,132.7 559.2,132.2 566.2,131.5 569.4,129.9 572.5,129.8 575.7,129.9 578.9,129.3 582,127.9 585.2,127.8 588.4,128 591.5,126.8 594.7,126.6 597.8,125.8 601,125.8 604.2,125.7 607.3,124.8 610.5,125.5 613.7,125.6 616.8,124.4 620,122.6 623.1,122.9 626.3,122.4 629.5,120.7 632.6,122.5 635.8,124.4 639,118.8 642.1,116.3 645.3,116.9 648.5,117.1 651.6,116.1" fill="none" stroke="#2a9a63" stroke-width="0.9" stroke-opacity="0.95"/>
<polyline points="496.4,125.8 503.4,123 510.5,119.6 517.5,116.7 524.5,114.1 531.6,111.3 538.6,108.5 545.6,105.8 552.6,102.9 559.7,99.7 566.7,96.7 569.9,96.4 573,92.9 576.2,92.4 579.4,90.9 582.5,89.6 585.7,87.7 588.9,86.6 592,84.9 595.2,81.9 598.3,80.5 601.5,80 604.7,78.5 607.8,77.7 611,76.7 614.2,75.2 617.3,73.7 620.5,73.8 623.7,70.1 626.8,71.4 630,66.9 633.1,64.9 636.3,61.8 639.5,60.5 642.6,61.6 645.8,64.6 649,63.3 652.1,61.3 655.3,60.2" fill="none" stroke="#6bbf55" stroke-width="0.9" stroke-opacity="0.95"/>
<polyline points="509.7,127.9 516.8,124.4 523.8,121.1 530.8,118.4 537.8,115.3 544.9,112 551.9,108.7 558.9,105.2 566,101.8 569.1,101.1 572.3,99.2 575.5,98 578.6,97.2 581.8,94.6 584.9,93.7 588.1,92.9 591.3,91.8 594.4,91 597.6,88.8 600.8,87.1 603.9,84.6 607.1,82.8 610.3,81.9 613.4,79.6 616.6,78.7 619.7,78.5 622.9,73.3 626.1,71.9 629.2,68.5 632.4,66.6 635.6,64.7 638.7,63.1" fill="none" stroke="#d6ea70" stroke-width="0.9" stroke-opacity="0.95"/>
<polyline points="496.4,129.9 503.4,128.6 510.5,127 517.5,125.7 524.5,124.8 531.6,123.1 538.6,121.8 545.6,120.8 552.6,119.9 559.7,118.7 566.7,117.8 569.9,117.9 573,116.6 576.2,116.1 579.4,115 582.5,114.8 585.7,114.4 588.9,113 592,114.5 595.2,113.3 598.3,111.8 601.5,113.1 604.7,111.2 607.8,109.6 611,109.5 614.2,108.2 617.3,106.2 620.5,105.6 623.7,106.6 626.8,103.1 630,104.9 633.1,106.3 636.3,106.2 639.5,105 642.6,105.6 645.8,106.2 649,105 652.1,104.8" fill="none" stroke="#8acb58" stroke-width="0.9" stroke-opacity="0.95"/>
<polyline points="496.4,152.8 503.4,149.3 510.5,146.2 517.5,142.9 524.5,139.9 531.6,136.7 538.6,133.4 545.6,129.9 552.6,126.9 559.7,123.9 566.7,120.6 569.9,119.2 573,118.2 576.2,117 579.4,114.5 582.5,114.3 585.7,113.1 588.9,110.3 592,108.6 595.2,107.8 598.3,106.9 601.5,104.6 604.7,102.9 607.8,101.8 611,100.8 614.2,100.4 617.3,101.7 620.5,100 623.7,97.7 626.8,97.9 630,95.4 633.1,91 636.3,89.1 639.5,88 642.6,86.1" fill="none" stroke="#3aa65c" stroke-width="0.9" stroke-opacity="0.95"/>
<polyline points="496.4,138.5 503.4,136.4 510.5,133.5 517.5,131.2 524.5,128.9 531.6,126.6 538.6,124.2 545.6,121.5 552.6,118.9 559.7,116.8 566.7,114.6 569.9,113.6 573,112.7 576.2,111.4 579.4,110.5 582.5,107.9 585.7,105.5 588.9,103.5 592,102.6 595.2,100.9 598.3,99.8 601.5,99.8 604.7,99.1 607.8,100.4 611,100 614.2,100.5 617.3,100.4 620.5,95.2 623.7,92.2 626.8,91.3 630,89.8 633.1,89.6 636.3,84 639.5,82.1 642.6,85.8 645.8,83.1 649,81.8" fill="none" stroke="#6bbf55" stroke-width="0.9" stroke-opacity="0.95"/>
<polyline points="496.4,138.3 503.4,134.7 510.5,131.6 517.5,128.3 524.5,125.1 531.6,121.9 538.6,119.2 545.6,116.4 552.6,113.2 559.7,109.6 566.7,106.5 569.9,104.7 573,103.1 576.2,101.3 579.4,99.1 582.5,98.8 585.7,97.1 588.9,95.8 592,94.6 595.2,93.9 598.3,93 601.5,92.4 604.7,91.8 607.8,88.4 611,85.7 614.2,84.2 617.3,81.8 620.5,82.6 623.7,81.3 626.8,77.7 630,77.1 633.1,78 636.3,77.7 639.5,78.2 642.6,76.7 645.8,73.2 649,75.1" fill="none" stroke="#4fb257" stroke-width="0.9" stroke-opacity="0.95"/>
<polyline points="508.5,141.4 515.5,140 522.6,138.5 529.6,136.9 536.6,135.3 543.6,133.5 550.7,132 557.7,131 564.7,129.6 567.9,129.4 571.1,129.8 574.2,128 577.4,128.2 580.6,127.3 583.7,126.9 586.9,127.1 590,127.3 593.2,125.9 596.4,126 599.5,125.5 602.7,125.3 605.9,125.3 609,124.9 612.2,123.5 615.4,122.1 618.5,119.9 621.7,118.5 624.8,116.1 628,118.4 631.2,117.9 634.3,117 635.7,132.8 637.5,118 640.7,118.9 643.8,119.4 647,119 650.2,117.2 653.3,117.6 656.5,117.1" fill="none" stroke="#c3e066" stroke-width="0.9" stroke-opacity="0.95"/>
<polyline points="496.4,127.2 503.4,123.6 510.5,120.4 517.5,117 524.5,113.7 531.6,110.7 538.6,108 545.6,105.3 552.6,101.9 559.7,99 566.7,95.6 569.9,94 573,92.4 576.2,91.2 579.4,90.5 582.5,88.8 585.7,89 588.9,86.6 592,86 595.2,85.7 598.3,83.4 601.5,81.4 604.7,78.8 607.8,77.8 611,78.8 614.2,76.3 617.3,75 620.5,73.4 623.7,72.4 626.8,71.6 630,74.8 633.1,74.9 636.3,75.4 639.5,73.1 642.6,72.4 645.8,71.5 649,70.1 652.1,67 655.3,68" fill="none" stroke="#3aa65c" stroke-width="0.9" stroke-opacity="0.95"/>
<polyline points="510.1,133.4 517.1,131.1 524.1,129 531.2,126.7 538.2,124.7 545.2,122.4 552.3,120 559.3,118.2 566.3,116.4 569.5,115.5 572.6,113.9 575.8,112.7 579,110.8 582.1,110.9 585.3,109.6 588.5,109.1 591.6,108.1 594.8,106.9 598,106.7 601.1,106 604.3,105.9 607.4,104.8 610.6,104.5 613.8,103.9 616.9,102.8 620.1,103.3 623.3,103.2 626.4,102.8" fill="none" stroke="#6bbf55" stroke-width="0.9" stroke-opacity="0.95"/>
<polyline points="496.4,145.6 503.4,144 510.5,143 517.5,141.4 524.5,140 531.6,138.5 538.6,136.9 545.6,135.1 552.6,133.6 559.7,132.1 566.7,130.4 569.9,130.8 573,130.3 576.2,129.7 579.4,129.3 582.5,130 585.7,129.1 588.9,128 592,127.7 595.2,128.4 598.3,127.4 601.5,127.8 604.7,126.4 607.8,124.6 611,124.2 614.2,124.5 617.3,125.3 620.5,124.6 623.7,123.6 626.8,119.7 630,122.6 633.1,120.5 636.3,119 639.5,116.8 642.6,115.5 645.8,117.9 649,117.6 652.1,114.8 655.3,115.1" fill="none" stroke="#3aa65c" stroke-width="0.9" stroke-opacity="0.95"/>
<polyline points="496.4,134.1 503.4,133.4 510.5,132.2 517.5,130.7 524.5,129.3 531.6,127.8 538.6,126.3 545.6,124.5 552.6,123.5 559.7,122.6 566.7,121.6 569.9,121.9 573,120.3 576.2,121.6 579.4,121.1 582.5,119.9 585.7,118.9 588.9,117.7 592,118 595.2,117.8 598.3,117.4 601.5,116.5 604.7,115.6 607.8,113.9 611,114.3 614.2,113.6 617.3,109 620.5,112.7 623.7,115.2 626.8,115.2 630,115.3 633.1,115 636.3,111.5 639.5,111.4 642.6,110.4 645.8,113.2 649,113.9 652.1,111.3 655.3,110.5 658.5,108.5" fill="none" stroke="#3aa65c" stroke-width="0.9" stroke-opacity="0.95"/>
<polyline points="496.4,137.1 503.4,134.7 510.5,132.3 517.5,129.8 524.5,127.3 531.6,124.8 538.6,122.4 545.6,119.7 552.6,117.3 559.7,114.7 566.7,112.4 569.9,111.4 573,110.4 576.2,107.4 579.4,106.5 582.5,104.4 585.7,101.6 588.9,100.6 592,99.7 595.2,99.6 598.3,98.5 601.5,97 604.7,95.7 607.8,94.5 611,93.1 614.2,93.2 617.3,91.7 620.5,87.9 623.7,83.6 626.8,88.4 630,85.8 633.1,83.5 636.3,82.4 639.5,80.3 642.6,78.1 645.8,80.4" fill="none" stroke="#3aa65c" stroke-width="0.9" stroke-opacity="0.95"/>
<polyline points="509.1,134.6 516.1,132.3 523.1,130.5 530.2,128.6 537.2,126.6 544.2,124.6 551.3,122.2 558.3,120.3 565.3,118.4 568.5,117.8 571.6,116.5 574.8,115.5 578,114.1 581.1,114.2 584.3,111.4 587.5,109.1 590.6,108.3 593.8,108.3 597,107.3 600.1,106.1 603.3,106.9 606.4,106 609.6,106.3 612.8,105.1 615.9,103.1 619.1,100.6 622.3,102.7 625.4,102.7 628.6,101.2 631.8,100.6 634.9,101 638.1,97.8" fill="none" stroke="#3aa65c" stroke-width="0.9" stroke-opacity="0.95"/>
<polyline points="496.4,134.3 503.4,133.3 510.5,131.6 517.5,130 524.5,128 531.6,126.5 538.6,124.9 545.6,122.8 552.6,121.2 559.7,119.5 566.7,118.1 569.9,117.2 573,118.3 576.2,117.5 579.4,117.3 582.5,117.7 585.7,118.1 588.9,116.5 592,115.5 595.2,115.9 598.3,113.8 601.5,113.7 604.7,113.2 607.8,112.3 611,112.5 614.2,113 617.3,113.9 620.5,111.3 623.7,108.6 626.8,108 630,106.8 633.1,108.1 636.3,108.3 639.5,106.7 642.6,107.3 645.8,107.9 649,108 652.1,109.4" fill="none" stroke="#3aa65c" stroke-width="0.9" stroke-opacity="0.95"/>
<polyline points="496.4,147.2 503.4,145.7 510.5,143.9 517.5,143.1 524.5,142 531.6,140.5 538.6,138.9 545.6,138 552.6,137.1 559.7,136.2 566.7,134.7 569.9,134.3 573,132.1 576.2,131.5 579.4,130.4 582.5,129.5 585.7,130 588.9,129.9 592,129.4 595.2,130.1 598.3,128.2 601.5,127.7 604.7,127.2 607.8,127.8 611,126.3 614.2,124.7 617.3,124.4 620.5,122.1 623.7,121.8 626.8,119.9 630,121.2 633.1,124.9 636.3,125.7 639.5,127.1 642.6,123.9 645.8,126.3 649,126.7 652.1,124.3 655.3,128.3 658.5,126.7" fill="none" stroke="#d6ea70" stroke-width="0.9" stroke-opacity="0.95"/>
<polyline points="496.4,127.4 503.4,125.1 510.5,122.8 517.5,120.1 524.5,118.3 531.6,115.6 538.6,113.4 545.6,111.4 552.6,109.1 559.7,107 566.7,104.2 569.9,103.4 573,102.5 576.2,102.1 579.4,100.4 582.5,98.4 585.7,96.7 588.9,96.9 592,96.1 595.2,94.6 598.3,95.2 601.5,94.3 604.7,92.5 607.8,90.3 611,88.9 614.2,87.2 617.3,84.9 620.5,83.7 623.7,81.7 626.8,81.3 630,80 633.1,77.7 636.3,77 639.5,74.4 642.6,73.8 645.8,71.7 649,69.6 652.1,71.1 655.3,68.5 658.5,65.2" fill="none" stroke="#8acb58" stroke-width="0.9" stroke-opacity="0.95"/>
<polyline points="496.4,125.3 503.4,122.8 510.5,119.6 517.5,116.6 524.5,113.8 531.6,111.1 538.6,108.4 545.6,105.6 552.6,102.2 559.7,99.3 566.7,96.3 569.9,95.3 573,95.2 576.2,94.8 579.4,92.8 582.5,92.6 585.7,90.9 588.9,89.8 592,87.9 595.2,85.4 598.3,84.1 601.5,83.2 604.7,83.2 607.8,81 611,79.3 614.2,79.5 617.3,80.4 620.5,78.2 623.7,77.5 626.8,77.6 630,75.3 633.1,75 634.5,93.4 636.3,73.5 639.5,72.9 642.6,73.2 645.8,71.7 649,72.4" fill="none" stroke="#4fb257" stroke-width="0.9" stroke-opacity="0.95"/>
<polyline points="496.4,127.1 503.4,124.6 510.5,121.4 517.5,118.3 524.5,115.6 531.6,113.1 538.6,110.3 545.6,107.3 552.6,104.9 559.7,102.4 566.7,99.6 569.9,97.7 573,96.4 576.2,94.8 579.4,94.5 582.5,95.1 585.7,93.6 588.9,93.1 592,91.9 595.2,90.9 598.3,89.3 601.5,88.6 604.7,86.2 607.8,84.9 611,83.2 614.2,81.4 617.3,78.6 620.5,77 623.7,72.7 626.8,70.9 630,71.2 633.1,71.6 636.3,70 639.5,65.8 642.6,64.1 645.8,65.4 649,62.3 652.1,61 655.3,62.2 658.5,63.5 661.6,65.1" fill="none" stroke="#1f8f6a" stroke-width="0.9" stroke-opacity="0.95"/>
<polyline points="510.4,119.5 517.4,118.9 524.4,117.7 531.5,116.8 538.5,116 545.5,115.1 552.6,113.9 559.6,113.1 566.6,111.9 569.8,111 573,109.3 576.1,109.7 579.3,109.3 582.4,108.5 585.6,106.8 588.8,106.1 591.9,105.1 595.1,105.8 598.3,105.8 601.4,104 604.6,103.8 607.8,101.6 610.9,101.7 614.1,101.5 617.2,104.1 620.4,103.7 623.6,103.1 626.7,103.7 629.9,104.5 633.1,108.1 636.2,112 639.4,110.9" fill="none" stroke="#c3e066" stroke-width="0.9" stroke-opacity="0.95"/>
<polyline points="496.4,123.8 503.4,121.8 510.5,120 517.5,118.5 524.5,116.2 531.6,114 538.6,112.3 545.6,110.8 552.6,109.1 559.7,107.5 566.7,105.6 569.9,105.9 573,106.7 576.2,105.7 579.4,104.3 582.5,103.1 585.7,103.3 588.9,102.3 592,102.8 595.2,101.1 598.3,98.9 601.5,98.5 604.7,97.5 607.8,95.8 611,94.1 614.2,93.5 617.3,93.1 620.5,91.8 623.7,91.3 626.8,94.5 630,95.8 633.1,97.2 636.3,97.4 639.5,95.6 642.6,95 645.8,91.3 649,88.6" fill="none" stroke="#c3e066" stroke-width="0.9" stroke-opacity="0.95"/>
<polyline points="496.4,145.7 503.4,143.4 510.5,141.3 517.5,138.3 524.5,135.7 531.6,133.6 538.6,130.9 545.6,128.5 552.6,126 559.7,123.6 566.7,121 569.9,120.3 573,120.5 576.2,119.3 579.4,118.2 582.5,118.2 585.7,117.6 588.9,116.2 592,113.8 595.2,112.9 598.3,112.3 601.5,110.6 604.7,109.8 607.8,107.7 611,106.5 614.2,106.9 617.3,103.5 620.5,102.6 623.7,102.4 626.8,102 630,100.9 633.1,97.1 636.3,97.1 639.5,94.9 642.6,92.2" fill="none" stroke="#1f8f6a" stroke-width="0.9" stroke-opacity="0.95"/>
<polyline points="496.4,130.7 503.4,129.7 510.5,128.6 517.5,127.8 524.5,126.9 531.6,126.2 538.6,125.3 545.6,124.5 552.6,123.6 559.7,122.8 566.7,121.7 569.9,120.7 573,121.8 576.2,121.4 579.4,120.6 582.5,118.9 585.7,118.5 588.9,119.2 592,117.6 595.2,117.3 598.3,116 601.5,115 604.7,114.6 607.8,114.5 611,113.9 614.2,111.8 617.3,110.6 620.5,110.4 623.7,110.6 626.8,108.2 630,107.6 633.1,106.6 636.3,106.1 639.5,107 642.6,104.5 645.8,105.3 649,105 652.1,105.4 655.3,105.4" fill="none" stroke="#1f8f6a" stroke-width="0.9" stroke-opacity="0.95"/>
<polyline points="496.4,149.5 503.4,147.9 510.5,146.5 517.5,144.9 524.5,144.2 531.6,142.5 538.6,141.3 545.6,140.4 552.6,138.9 559.7,137.9 566.7,136 569.9,135.4 573,134.8 576.2,133.6 579.4,133 582.5,132.3 585.7,131.4 588.9,129.1 592,127.8 595.2,127.5 598.3,126.7 601.5,127.4 604.7,125.6 607.8,125.9 611,125.6 614.2,125 617.3,123.8 620.5,124.8 623.7,129.1 626.8,129.7 630,130.6 633.1,132.1 636.3,129.1 639.5,130.2 642.6,129.3 645.8,127.4" fill="none" stroke="#3aa65c" stroke-width="0.9" stroke-opacity="0.95"/>
<polyline points="496.4,125.1 503.4,124 510.5,122.6 517.5,121.2 524.5,120 531.6,118.5 538.6,117.5 545.6,116.5 552.6,115.5 559.7,114.3 566.7,113.2 569.9,112.3 573,111.7 576.2,111.3 579.4,110.6 582.5,110.1 585.7,110.5 588.9,109.7 592,109 595.2,109.6 598.3,109.5 601.5,109.5 604.7,109.7 607.8,107.9 611,108.6 614.2,109.6 617.3,108 620.5,109.9 623.7,107.7 626.8,104.6 630,106.8 633.1,105.9 636.3,103.7 639.5,102.9 642.6,100.8 645.8,100" fill="none" stroke="#6bbf55" stroke-width="0.9" stroke-opacity="0.95"/>
<polyline points="496.4,147.5 503.4,146.6 510.5,145.8 517.5,144.7 524.5,143.5 531.6,141.9 538.6,140.7 545.6,139.2 552.6,137.6 559.7,136.8 566.7,135.4 569.9,134 573,132.4 576.2,131.9 579.4,130.6 582.5,130.5 585.7,130.1 588.9,129.6 592,127.7 595.2,127.4 598.3,126.1 601.5,125.6 604.7,125.6 607.8,124.9 611,123.9 614.2,124 617.3,122.5 620.5,125.9 623.7,124.8 626.8,123.8 630,124.6 633.1,122.7 636.3,121 639.5,119.1 642.6,117.3 645.8,117.8 649,117.1" fill="none" stroke="#2a9a63" stroke-width="0.9" stroke-opacity="0.95"/>
<polyline points="496.4,145.1 503.4,142.6 510.5,140.4 517.5,138 524.5,135.7 531.6,133.4 538.6,131.4 545.6,129.1 552.6,126.8 559.7,124.3 566.7,122.3 569.9,121.1 573,118.8 576.2,118.2 579.4,116.1 582.5,114 585.7,113.2 588.9,112.4 592,111.7 595.2,109.2 598.3,107 601.5,105.5 604.7,105 607.8,103.9 611,104 614.2,103 617.3,100.7 620.5,103.7 623.7,100.3 626.8,99.1 630,97.2 633.1,95.1 636.3,94.6 639.5,93.4 642.6,94.3 645.8,96 649,95.6 652.1,96.8 655.3,92.6 658.5,92.4 661.6,91.4" fill="none" stroke="#8acb58" stroke-width="0.9" stroke-opacity="0.95"/>
<polyline points="508.9,135.3 515.9,132.3 522.9,129.2 529.9,126 537,123 544,119.6 551,116.4 558.1,113.2 565.1,109.4 568.3,108.3 571.4,106.2 574.6,105.4 577.7,103 580.9,100.8 584.1,99.3 587.2,97.1 590.4,94.4 593.6,91.9 596.7,90.5 599.9,89.1 603.1,86.8 606.2,86.6 609.4,85.6 612.5,83.8 615.7,82 618.9,77.5 622,73.2 625.2,74.7 628.4,74.1 631.5,73 634.7,70.8 637.9,73.2 641,70 644.2,67.6 647.3,67 650.5,62.1 653.7,59.8 656.8,59.2 660,56.7 663.2,57.7" fill="none" stroke="#d6ea70" stroke-width="0.9" stroke-opacity="0.95"/>
<polyline points="496.4,135.7 503.4,133.9 510.5,131.8 517.5,130 524.5,127.7 531.6,125.6 538.6,123.2 545.6,120.6 552.6,119 559.7,117 566.7,115.1 569.9,113.6 573,112.8 576.2,111.3 579.4,111.4 582.5,109.3 585.7,107.9 588.9,106.8 592,105.1 595.2,103.4 598.3,102.9 601.5,102.6 604.7,100.5 607.8,98 611,97.5 614.2,97.2 617.3,96.2 620.5,94.7 623.7,94.1 626.8,94.3 630,93 633.1,92.8 636.3,93.9 639.5,90.6 642.6,89.9 645.8,93.1" fill="none" stroke="#c3e066" stroke-width="0.9" stroke-opacity="0.95"/>
<polyline points="497.1,108.9 536.5,79.4 564.6,58.3 589.2,39.8" fill="none" stroke="#d6ea70" stroke-width="0.9" stroke-opacity="0.95"/>
<polyline points="509.8,113.8 536.5,95.5 564.6,76.2 591.3,57.9" fill="none" stroke="#2a9a70" stroke-width="0.9" stroke-opacity="0.95"/>
<polyline points="496.4,129.8 536.5,115 564.6,103 585.7,90.9 606.8,78.9 624.4,66.8 638.4,56.1 649,50 663,49.4" fill="none" stroke="#c8e36a" stroke-width="0.9" stroke-opacity="0.95"/>
<polyline points="496.4,165.5 536.5,157.9 564.6,152.5 585.7,148.5 599.8,145.8" fill="none" stroke="#8acb58" stroke-width="0.9" stroke-opacity="0.95"/>
<polyline points="509.8,149.8 512.2,149.9 514.7,149.6 517.1,149.3 519.6,148.9 522.1,148.5 524.5,148.2 527,147.5 529.5,146.7 531.9,145.8 534.4,145.2 536.8,144.5 539.3,143.8 541.8,142.8 544.2,142.4 546.7,141.6 549.1,141.4 551.6,141.2 554.1,140.9 556.5,140.2 559,139.7 561.4,139.2 563.9,138.9 566.4,138.4 568.8,137.3 571.3,137.2 573.7,137 576.2,136.2 578.7,135.9 581.1,135.3 583.6,134.4 586,137.2 588.5,137.4 591,137 593.4,135.6 595.9,133.8 598.3,133.2 600.8,132.7 603.3,132.4 605.7,131.6 608.2,129.4 610.6,130.4 613.1,136" fill="none" stroke="#2a9a70" stroke-width="0.9" stroke-opacity="0.95"/>
</g>
<line x1="499.4" y1="91" x2="561.8" y2="43" stroke="#111" stroke-width="1.3"/>
<line x1="527.2" y1="176.8" x2="596" y2="150" stroke="#111" stroke-width="1.3"/>
<text x="510.8" y="65.4" font-size="9.9" font-family='"DejaVu Sans", "Liberation Sans", sans-serif' fill="#222">∝ τ<tspan dy="-4.3" font-size="7.2">2</tspan></text>
<text x="564.5" y="170.6" font-size="9.9" font-family='"DejaVu Sans", "Liberation Sans", sans-serif' fill="#222">∝ τ</text>
<rect x="485.4" y="33.4" width="198.0" height="149.79999999999998" fill="none" stroke="#555" stroke-width="0.9"/>
<path d="M485.4 177.9h-1.6M485.4 173.2h-1.6M485.4 169.9h-1.6M485.4 167.3h-1.6M485.4 165.2h-1.6M485.4 163.4h-1.6M485.4 161.8h-1.6M485.4 160.4h-1.6M485.4 159.2h-3M485.4 151.2h-1.6M485.4 146.4h-1.6M485.4 143.1h-1.6M485.4 140.5h-1.6M485.4 138.4h-1.6M485.4 136.6h-1.6M485.4 135h-1.6M485.4 133.7h-1.6M485.4 132.4h-3M485.4 124.4h-1.6M485.4 119.7h-1.6M485.4 116.3h-1.6M485.4 113.7h-1.6M485.4 111.6h-1.6M485.4 109.8h-1.6M485.4 108.3h-1.6M485.4 106.9h-1.6M485.4 105.7h-3M485.4 97.6h-1.6M485.4 92.9h-1.6M485.4 89.5h-1.6M485.4 86.9h-1.6M485.4 84.8h-1.6M485.4 83h-1.6M485.4 81.5h-1.6M485.4 80.1h-1.6M485.4 78.9h-3M485.4 70.8h-1.6M485.4 66.1h-1.6M485.4 62.8h-1.6M485.4 60.2h-1.6M485.4 58h-1.6M485.4 56.2h-1.6M485.4 54.7h-1.6M485.4 53.3h-1.6M485.4 52.1h-3M485.4 44h-1.6M485.4 39.3h-1.6M485.4 36h-1.6M487.5 183.2v1.6M491.1 183.2v1.6M494.3 183.2v3M515.5 183.2v1.6M527.8 183.2v1.6M536.6 183.2v1.6M543.4 183.2v1.6M549 183.2v1.6M553.7 183.2v1.6M557.8 183.2v1.6M561.4 183.2v1.6M564.6 183.2v3M585.8 183.2v1.6M598.1 183.2v1.6M606.9 183.2v1.6M613.7 183.2v1.6M619.3 183.2v1.6M624 183.2v1.6M628.1 183.2v1.6M631.7 183.2v1.6M634.9 183.2v3M656.1 183.2v1.6M668.4 183.2v1.6M677.2 183.2v1.6" stroke="#444" stroke-width="0.7" fill="none"/>
<text x="481.5" y="56" font-size="9.6" text-anchor="end" font-family='"DejaVu Sans", "Liberation Sans", sans-serif' fill="#222">10<tspan dy="-3.8" font-size="6.8">1</tspan></text>
<text x="481.5" y="83" font-size="9.6" text-anchor="end" font-family='"DejaVu Sans", "Liberation Sans", sans-serif' fill="#222">10<tspan dy="-3.8" font-size="6.8">0</tspan></text>
<text x="481.5" y="109.8" font-size="9.6" text-anchor="end" font-family='"DejaVu Sans", "Liberation Sans", sans-serif' fill="#222">10<tspan dy="-3.8" font-size="6.8">−1</tspan></text>
<text x="481.5" y="136.4" font-size="9.6" text-anchor="end" font-family='"DejaVu Sans", "Liberation Sans", sans-serif' fill="#222">10<tspan dy="-3.8" font-size="6.8">−2</tspan></text>
<text x="481.5" y="163.1" font-size="9.6" text-anchor="end" font-family='"DejaVu Sans", "Liberation Sans", sans-serif' fill="#222">10<tspan dy="-3.8" font-size="6.8">−3</tspan></text>
<text x="493.7" y="193.9" font-size="9.6" text-anchor="middle" font-family='"DejaVu Sans", "Liberation Sans", sans-serif' fill="#222">10<tspan dy="-3.8" font-size="6.8">0</tspan></text>
<text x="564" y="193.9" font-size="9.6" text-anchor="middle" font-family='"DejaVu Sans", "Liberation Sans", sans-serif' fill="#222">10<tspan dy="-3.8" font-size="6.8">1</tspan></text>
<text x="634.3" y="193.9" font-size="9.6" text-anchor="middle" font-family='"DejaVu Sans", "Liberation Sans", sans-serif' fill="#222">10<tspan dy="-3.8" font-size="6.8">2</tspan></text>
<text x="584.4" y="207.3" font-size="11.1" text-anchor="middle" font-family='"DejaVu Sans", "Liberation Sans", sans-serif' fill="#222">τ [s]</text>
<text transform="translate(453.2 108.5) rotate(-90)" font-size="11" text-anchor="middle" font-family='"DejaVu Sans", "Liberation Sans", sans-serif' fill="#222">MSD [μm<tspan dy="-3.8" font-size="7.4">2</tspan><tspan dy="3.8">]</tspan></text>
<path d="M484.5 259 L484.5 257.4 C491.6 257.3 517.8 257.5 527 257 C536.2 256.5 535.5 255.3 540 254.4 C544.5 253.5 549.5 252.5 554 251.4 C558.5 250.3 562.7 249.2 567 248 C571.3 246.8 576.5 245 580 244.3 C583.5 243.6 586 243.8 588 243.7 C590 243.6 589 243.4 592 244 C595 244.6 601.5 246 606 247.4 C610.5 248.8 614.5 250.8 619 252.2 C623.5 253.6 628.5 254.8 633 255.6 C637.5 256.4 641.5 256.9 646 257.2 C650.5 257.5 653.9 257.4 660 257.5 C666.1 257.6 678.8 257.5 682.5 257.5 L682.5 259 Z" fill="#c8dc9f"/>
<path d="M511.4 295.2 L511.4 294.3 C514 294.2 522.2 294.4 527 294 C531.8 293.6 535.5 292.8 540 292.2 C544.5 291.6 549.5 291 554 290.3 C558.5 289.6 562.6 289.3 567 287.9 C571.4 286.5 576.6 283.2 580.6 281.9 C584.6 280.6 589.1 280.4 591 280.1 C592.9 279.8 590.7 279.6 592 280.1 C593.3 280.6 596.5 282.1 598.8 283.3 C601.1 284.5 603.3 286.3 605.6 287.4 C607.9 288.5 609 289.2 612.4 290.1 C615.8 291 620.4 292.2 626 292.8 C631.6 293.4 640 293.6 646 293.9 C652 294.1 659.3 294.2 662 294.3 L662 295.2 Z" fill="#cbbce6"/>
<path d="M507.4 332.5 L507.4 331.6 C509.5 331.4 516.2 330.9 520 330.4 C523.8 329.9 526.7 329.3 530 328.4 C533.3 327.5 536 326.2 540 325 C544 323.8 549.2 322.1 553.7 321.3 C558.2 320.6 562.5 320.7 567 320.5 C571.5 320.3 576.4 320.1 580.6 319.9 C584.8 319.7 587.8 319.7 592 319.4 C596.2 319.1 600.6 318.4 605.6 318.1 C610.6 317.8 617.5 317.2 622 317.7 C626.5 318.2 628.7 319.8 632.7 321.1 C636.8 322.3 642.4 323.9 646.3 325.2 C650.1 326.4 652.4 327.6 655.8 328.6 C659.2 329.5 662.7 330.4 666.7 330.9 C670.7 331.4 677.5 331.5 679.6 331.6 L679.6 332.5 Z" fill="#eecb8c"/>
<path d="M484.5 369 L484.5 367.3 C488.4 367.3 501.9 367.5 507.6 367.3 C513.3 367.1 514.8 366.9 518.7 366.2 C522.7 365.5 526.6 364.5 531.3 363.4 C536 362.3 541.8 360.6 547 359.4 C552.2 358.2 557 357.1 562.8 356.3 C568.6 355.5 576.8 354.9 581.7 354.7 C586.6 354.5 589.1 354.7 592 355.1 C594.9 355.5 596.5 356.2 598.8 357.1 C601.1 358 603.3 359.4 605.6 360.5 C607.9 361.6 610.1 363.1 612.4 363.9 C614.7 364.7 615.8 364.9 619.2 365.2 C622.6 365.5 627.7 365.6 632.7 365.9 C637.7 366.2 642.9 366.7 649 367 C655.1 367.3 666 367.8 669.4 367.9 L669.4 369 Z" fill="#e293a3"/>
<circle cx="640.5" cy="257.6" r="2.3" fill="#9acd32" fill-opacity="0.78"/>
<circle cx="585.5" cy="254.8" r="2.3" fill="#9acd32" fill-opacity="0.78"/>
<circle cx="553.6" cy="257.3" r="2.3" fill="#9acd32" fill-opacity="0.78"/>
<circle cx="589.8" cy="254.9" r="2.3" fill="#9acd32" fill-opacity="0.78"/>
<circle cx="577.1" cy="261.8" r="2.3" fill="#9acd32" fill-opacity="0.78"/>
<circle cx="580.3" cy="254.5" r="2.3" fill="#9acd32" fill-opacity="0.78"/>
<circle cx="594.1" cy="256.4" r="2.3" fill="#9acd32" fill-opacity="0.78"/>
<circle cx="551.8" cy="260.2" r="2.3" fill="#9acd32" fill-opacity="0.78"/>
<circle cx="631.8" cy="255.2" r="2.3" fill="#9acd32" fill-opacity="0.78"/>
<circle cx="590.2" cy="255" r="2.3" fill="#9acd32" fill-opacity="0.78"/>
<circle cx="603.2" cy="254.7" r="2.3" fill="#9acd32" fill-opacity="0.78"/>
<circle cx="545" cy="255.4" r="2.3" fill="#9acd32" fill-opacity="0.78"/>
<circle cx="596.1" cy="258.4" r="2.3" fill="#9acd32" fill-opacity="0.78"/>
<circle cx="596.9" cy="260.8" r="2.3" fill="#9acd32" fill-opacity="0.78"/>
<circle cx="599.3" cy="255.5" r="2.3" fill="#9acd32" fill-opacity="0.78"/>
<circle cx="608.7" cy="255.5" r="2.3" fill="#9acd32" fill-opacity="0.78"/>
<circle cx="549.5" cy="260.2" r="2.3" fill="#9acd32" fill-opacity="0.78"/>
<circle cx="569.2" cy="257.5" r="2.3" fill="#9acd32" fill-opacity="0.78"/>
<circle cx="613.7" cy="256.8" r="2.3" fill="#9acd32" fill-opacity="0.78"/>
<circle cx="595.3" cy="255.1" r="2.3" fill="#9acd32" fill-opacity="0.78"/>
<circle cx="547.8" cy="256" r="2.3" fill="#9acd32" fill-opacity="0.78"/>
<circle cx="592.9" cy="261.9" r="2.3" fill="#9acd32" fill-opacity="0.78"/>
<circle cx="594.4" cy="255" r="2.3" fill="#9acd32" fill-opacity="0.78"/>
<circle cx="583.2" cy="256.2" r="2.3" fill="#9acd32" fill-opacity="0.78"/>
<circle cx="591.4" cy="260" r="2.3" fill="#9acd32" fill-opacity="0.78"/>
<circle cx="544.3" cy="261.2" r="2.3" fill="#9acd32" fill-opacity="0.78"/>
<circle cx="550.4" cy="261.3" r="2.3" fill="#9acd32" fill-opacity="0.78"/>
<circle cx="594.6" cy="257.9" r="2.3" fill="#9acd32" fill-opacity="0.78"/>
<circle cx="563.1" cy="261.8" r="2.3" fill="#9acd32" fill-opacity="0.78"/>
<circle cx="612.7" cy="258.9" r="2.3" fill="#9acd32" fill-opacity="0.78"/>
<circle cx="595.2" cy="256.4" r="2.3" fill="#9acd32" fill-opacity="0.78"/>
<circle cx="580.2" cy="257.8" r="2.3" fill="#9acd32" fill-opacity="0.78"/>
<circle cx="598.5" cy="259.8" r="2.3" fill="#9acd32" fill-opacity="0.78"/>
<circle cx="631.3" cy="260" r="2.3" fill="#9acd32" fill-opacity="0.78"/>
<circle cx="634.1" cy="255.1" r="2.3" fill="#9acd32" fill-opacity="0.78"/>
<circle cx="584.9" cy="255.6" r="2.3" fill="#9acd32" fill-opacity="0.78"/>
<circle cx="545.1" cy="261.8" r="2.3" fill="#9acd32" fill-opacity="0.78"/>
<circle cx="546.2" cy="255" r="2.3" fill="#9acd32" fill-opacity="0.78"/>
<circle cx="590.8" cy="260.6" r="2.3" fill="#9acd32" fill-opacity="0.78"/>
<circle cx="603.3" cy="256.8" r="2.3" fill="#9acd32" fill-opacity="0.78"/>
<circle cx="622.1" cy="256.1" r="2.3" fill="#9acd32" fill-opacity="0.78"/>
<circle cx="579.1" cy="256.1" r="2.3" fill="#9acd32" fill-opacity="0.78"/>
<circle cx="560.1" cy="257.9" r="2.3" fill="#9acd32" fill-opacity="0.78"/>
<circle cx="596.8" cy="262" r="2.3" fill="#9acd32" fill-opacity="0.78"/>
<circle cx="568.3" cy="255.3" r="2.3" fill="#9acd32" fill-opacity="0.78"/>
<circle cx="577.6" cy="260.9" r="2.3" fill="#9acd32" fill-opacity="0.78"/>
<circle cx="589.9" cy="256.7" r="2.3" fill="#9acd32" fill-opacity="0.78"/>
<circle cx="595.4" cy="255.5" r="2.3" fill="#9acd32" fill-opacity="0.78"/>
<circle cx="585" cy="260.1" r="2.3" fill="#9acd32" fill-opacity="0.78"/>
<circle cx="596.7" cy="256.8" r="2.3" fill="#9acd32" fill-opacity="0.78"/>
<circle cx="618.8" cy="255.6" r="2.3" fill="#9acd32" fill-opacity="0.78"/>
<circle cx="603.1" cy="257.4" r="2.3" fill="#9acd32" fill-opacity="0.78"/>
<circle cx="627.8" cy="260.7" r="2.3" fill="#9acd32" fill-opacity="0.78"/>
<circle cx="589.1" cy="261" r="2.3" fill="#9acd32" fill-opacity="0.78"/>
<circle cx="552.3" cy="258.7" r="2.3" fill="#9acd32" fill-opacity="0.78"/>
<circle cx="604.7" cy="254.2" r="2.3" fill="#9acd32" fill-opacity="0.78"/>
<circle cx="610" cy="260.2" r="2.3" fill="#9acd32" fill-opacity="0.78"/>
<circle cx="594" cy="259" r="2.3" fill="#9acd32" fill-opacity="0.78"/>
<circle cx="577.5" cy="261.3" r="2.3" fill="#9acd32" fill-opacity="0.78"/>
<circle cx="633.3" cy="261.7" r="2.3" fill="#9acd32" fill-opacity="0.78"/>
<circle cx="516" cy="256.7" r="2.3" fill="#9acd32" fill-opacity="0.78"/>
<circle cx="523" cy="260.9" r="2.3" fill="#9acd32" fill-opacity="0.78"/>
<circle cx="650" cy="260.7" r="2.3" fill="#9acd32" fill-opacity="0.78"/>
<circle cx="657" cy="256.2" r="2.3" fill="#9acd32" fill-opacity="0.78"/>
<circle cx="660" cy="257" r="2.3" fill="#9acd32" fill-opacity="0.78"/>
<circle cx="669" cy="257.1" r="2.3" fill="#9acd32" fill-opacity="0.78"/>
<circle cx="655" cy="256.9" r="2.3" fill="#9acd32" fill-opacity="0.78"/>
<circle cx="646" cy="257.1" r="2.3" fill="#9acd32" fill-opacity="0.78"/>
<circle cx="580" cy="296.3" r="2.3" fill="#9370db" fill-opacity="0.78"/>
<circle cx="610.2" cy="296.7" r="2.3" fill="#9370db" fill-opacity="0.78"/>
<circle cx="571.2" cy="292.1" r="2.3" fill="#9370db" fill-opacity="0.78"/>
<circle cx="605.5" cy="297.4" r="2.3" fill="#9370db" fill-opacity="0.78"/>
<circle cx="621.4" cy="298.2" r="2.3" fill="#9370db" fill-opacity="0.78"/>
<circle cx="619.2" cy="293.8" r="2.3" fill="#9370db" fill-opacity="0.78"/>
<circle cx="621.7" cy="293.3" r="2.3" fill="#9370db" fill-opacity="0.78"/>
<circle cx="590.3" cy="296" r="2.3" fill="#9370db" fill-opacity="0.78"/>
<circle cx="594.7" cy="297.7" r="2.3" fill="#9370db" fill-opacity="0.78"/>
<circle cx="587.5" cy="291.9" r="2.3" fill="#9370db" fill-opacity="0.78"/>
<circle cx="594.2" cy="292.7" r="2.3" fill="#9370db" fill-opacity="0.78"/>
<circle cx="594.8" cy="292.9" r="2.3" fill="#9370db" fill-opacity="0.78"/>
<circle cx="623.5" cy="296.2" r="2.3" fill="#9370db" fill-opacity="0.78"/>
<circle cx="597" cy="291.8" r="2.3" fill="#9370db" fill-opacity="0.78"/>
<circle cx="564.8" cy="294.7" r="2.3" fill="#9370db" fill-opacity="0.78"/>
<circle cx="545.8" cy="294.3" r="2.3" fill="#9370db" fill-opacity="0.78"/>
<circle cx="614.1" cy="295.6" r="2.3" fill="#9370db" fill-opacity="0.78"/>
<circle cx="582.7" cy="291.4" r="2.3" fill="#9370db" fill-opacity="0.78"/>
<circle cx="620.8" cy="298" r="2.3" fill="#9370db" fill-opacity="0.78"/>
<circle cx="604.6" cy="298.3" r="2.3" fill="#9370db" fill-opacity="0.78"/>
<circle cx="580.6" cy="294.8" r="2.3" fill="#9370db" fill-opacity="0.78"/>
<circle cx="582.4" cy="296.7" r="2.3" fill="#9370db" fill-opacity="0.78"/>
<circle cx="593.6" cy="291.8" r="2.3" fill="#9370db" fill-opacity="0.78"/>
<circle cx="576.3" cy="297.6" r="2.3" fill="#9370db" fill-opacity="0.78"/>
<circle cx="592.3" cy="294.7" r="2.3" fill="#9370db" fill-opacity="0.78"/>
<circle cx="585.6" cy="296.4" r="2.3" fill="#9370db" fill-opacity="0.78"/>
<circle cx="593.8" cy="297.2" r="2.3" fill="#9370db" fill-opacity="0.78"/>
<circle cx="607.3" cy="293.2" r="2.3" fill="#9370db" fill-opacity="0.78"/>
<circle cx="571.4" cy="297.7" r="2.3" fill="#9370db" fill-opacity="0.78"/>
<circle cx="596.1" cy="292" r="2.3" fill="#9370db" fill-opacity="0.78"/>
<circle cx="553.8" cy="290.5" r="2.3" fill="#9370db" fill-opacity="0.78"/>
<circle cx="614.8" cy="294.3" r="2.3" fill="#9370db" fill-opacity="0.78"/>
<circle cx="588.6" cy="297.5" r="2.3" fill="#9370db" fill-opacity="0.78"/>
<circle cx="613.3" cy="297.5" r="2.3" fill="#9370db" fill-opacity="0.78"/>
<circle cx="584.6" cy="297.9" r="2.3" fill="#9370db" fill-opacity="0.78"/>
<circle cx="617.5" cy="294.4" r="2.3" fill="#9370db" fill-opacity="0.78"/>
<circle cx="583.3" cy="297.8" r="2.3" fill="#9370db" fill-opacity="0.78"/>
<circle cx="597.5" cy="294.8" r="2.3" fill="#9370db" fill-opacity="0.78"/>
<circle cx="548.2" cy="291.4" r="2.3" fill="#9370db" fill-opacity="0.78"/>
<circle cx="599.5" cy="295.3" r="2.3" fill="#9370db" fill-opacity="0.78"/>
<circle cx="557.5" cy="296.7" r="2.3" fill="#9370db" fill-opacity="0.78"/>
<circle cx="557.4" cy="293.7" r="2.3" fill="#9370db" fill-opacity="0.78"/>
<circle cx="587.1" cy="295.1" r="2.3" fill="#9370db" fill-opacity="0.78"/>
<circle cx="621" cy="292.4" r="2.3" fill="#9370db" fill-opacity="0.78"/>
<circle cx="579.9" cy="292.5" r="2.3" fill="#9370db" fill-opacity="0.78"/>
<circle cx="656" cy="293.7" r="2.3" fill="#9370db" fill-opacity="0.78"/>
<circle cx="658" cy="294.4" r="2.3" fill="#9370db" fill-opacity="0.78"/>
<circle cx="636" cy="294" r="2.3" fill="#9370db" fill-opacity="0.78"/>
<circle cx="630" cy="291" r="2.3" fill="#9370db" fill-opacity="0.78"/>
<circle cx="633" cy="290.3" r="2.3" fill="#9370db" fill-opacity="0.78"/>
<circle cx="607.2" cy="330.7" r="2.3" fill="#ffa500" fill-opacity="0.78"/>
<circle cx="539.4" cy="330.5" r="2.3" fill="#ffa500" fill-opacity="0.78"/>
<circle cx="596.4" cy="334.9" r="2.3" fill="#ffa500" fill-opacity="0.78"/>
<circle cx="601" cy="331.9" r="2.3" fill="#ffa500" fill-opacity="0.78"/>
<circle cx="629.4" cy="329.8" r="2.3" fill="#ffa500" fill-opacity="0.78"/>
<circle cx="557.8" cy="330.3" r="2.3" fill="#ffa500" fill-opacity="0.78"/>
<circle cx="557.5" cy="334.2" r="2.3" fill="#ffa500" fill-opacity="0.78"/>
<circle cx="540.8" cy="328.9" r="2.3" fill="#ffa500" fill-opacity="0.78"/>
<circle cx="654" cy="333.1" r="2.3" fill="#ffa500" fill-opacity="0.78"/>
<circle cx="619.5" cy="327.8" r="2.3" fill="#ffa500" fill-opacity="0.78"/>
<circle cx="573.1" cy="329.1" r="2.3" fill="#ffa500" fill-opacity="0.78"/>
<circle cx="611.5" cy="328.1" r="2.3" fill="#ffa500" fill-opacity="0.78"/>
<circle cx="535.8" cy="334" r="2.3" fill="#ffa500" fill-opacity="0.78"/>
<circle cx="603" cy="328.8" r="2.3" fill="#ffa500" fill-opacity="0.78"/>
<circle cx="633.9" cy="329.4" r="2.3" fill="#ffa500" fill-opacity="0.78"/>
<circle cx="630.8" cy="328.1" r="2.3" fill="#ffa500" fill-opacity="0.78"/>
<circle cx="577.1" cy="329.7" r="2.3" fill="#ffa500" fill-opacity="0.78"/>
<circle cx="601.8" cy="333.5" r="2.3" fill="#ffa500" fill-opacity="0.78"/>
<circle cx="577.2" cy="333.4" r="2.3" fill="#ffa500" fill-opacity="0.78"/>
<circle cx="573" cy="334.9" r="2.3" fill="#ffa500" fill-opacity="0.78"/>
<circle cx="585.5" cy="335.2" r="2.3" fill="#ffa500" fill-opacity="0.78"/>
<circle cx="537.4" cy="332" r="2.3" fill="#ffa500" fill-opacity="0.78"/>
<circle cx="592.2" cy="335" r="2.3" fill="#ffa500" fill-opacity="0.78"/>
<circle cx="639" cy="328.3" r="2.3" fill="#ffa500" fill-opacity="0.78"/>
<circle cx="638.5" cy="335" r="2.3" fill="#ffa500" fill-opacity="0.78"/>
<circle cx="600.4" cy="331.1" r="2.3" fill="#ffa500" fill-opacity="0.78"/>
<circle cx="577.6" cy="329.1" r="2.3" fill="#ffa500" fill-opacity="0.78"/>
<circle cx="606.3" cy="333.6" r="2.3" fill="#ffa500" fill-opacity="0.78"/>
<circle cx="636.2" cy="334.5" r="2.3" fill="#ffa500" fill-opacity="0.78"/>
<circle cx="591.4" cy="330.7" r="2.3" fill="#ffa500" fill-opacity="0.78"/>
<circle cx="605.8" cy="328.3" r="2.3" fill="#ffa500" fill-opacity="0.78"/>
<circle cx="576.6" cy="334.6" r="2.3" fill="#ffa500" fill-opacity="0.78"/>
<circle cx="642" cy="333.6" r="2.3" fill="#ffa500" fill-opacity="0.78"/>
<circle cx="614.4" cy="332.4" r="2.3" fill="#ffa500" fill-opacity="0.78"/>
<circle cx="543.9" cy="335.4" r="2.3" fill="#ffa500" fill-opacity="0.78"/>
<circle cx="565.4" cy="327.9" r="2.3" fill="#ffa500" fill-opacity="0.78"/>
<circle cx="591.8" cy="328" r="2.3" fill="#ffa500" fill-opacity="0.78"/>
<circle cx="598.4" cy="328.6" r="2.3" fill="#ffa500" fill-opacity="0.78"/>
<circle cx="558.3" cy="327.8" r="2.3" fill="#ffa500" fill-opacity="0.78"/>
<circle cx="627.4" cy="333.3" r="2.3" fill="#ffa500" fill-opacity="0.78"/>
<circle cx="614.5" cy="332.6" r="2.3" fill="#ffa500" fill-opacity="0.78"/>
<circle cx="642.6" cy="328.5" r="2.3" fill="#ffa500" fill-opacity="0.78"/>
<circle cx="543.3" cy="328.9" r="2.3" fill="#ffa500" fill-opacity="0.78"/>
<circle cx="641.2" cy="329" r="2.3" fill="#ffa500" fill-opacity="0.78"/>
<circle cx="578.3" cy="332.5" r="2.3" fill="#ffa500" fill-opacity="0.78"/>
<circle cx="617" cy="333" r="2.3" fill="#ffa500" fill-opacity="0.78"/>
<circle cx="623.4" cy="335.4" r="2.3" fill="#ffa500" fill-opacity="0.78"/>
<circle cx="594.3" cy="330.5" r="2.3" fill="#ffa500" fill-opacity="0.78"/>
<circle cx="588.1" cy="335.4" r="2.3" fill="#ffa500" fill-opacity="0.78"/>
<circle cx="634.4" cy="331.1" r="2.3" fill="#ffa500" fill-opacity="0.78"/>
<circle cx="565.7" cy="330.7" r="2.3" fill="#ffa500" fill-opacity="0.78"/>
<circle cx="548.5" cy="329.6" r="2.3" fill="#ffa500" fill-opacity="0.78"/>
<circle cx="589.3" cy="329.5" r="2.3" fill="#ffa500" fill-opacity="0.78"/>
<circle cx="560.3" cy="335.4" r="2.3" fill="#ffa500" fill-opacity="0.78"/>
<circle cx="588.4" cy="335.6" r="2.3" fill="#ffa500" fill-opacity="0.78"/>
<circle cx="661" cy="333.2" r="2.3" fill="#ffa500" fill-opacity="0.78"/>
<circle cx="666" cy="329" r="2.3" fill="#ffa500" fill-opacity="0.78"/>
<circle cx="675" cy="329" r="2.3" fill="#ffa500" fill-opacity="0.78"/>
<circle cx="669" cy="328.8" r="2.3" fill="#ffa500" fill-opacity="0.78"/>
<circle cx="584.4" cy="364.8" r="2.3" fill="#dc143c" fill-opacity="0.78"/>
<circle cx="576.3" cy="370.9" r="2.3" fill="#dc143c" fill-opacity="0.78"/>
<circle cx="520.5" cy="371.2" r="2.3" fill="#dc143c" fill-opacity="0.78"/>
<circle cx="586.5" cy="364.4" r="2.3" fill="#dc143c" fill-opacity="0.78"/>
<circle cx="535.6" cy="367.8" r="2.3" fill="#dc143c" fill-opacity="0.78"/>
<circle cx="626.5" cy="367.9" r="2.3" fill="#dc143c" fill-opacity="0.78"/>
<circle cx="571" cy="369.8" r="2.3" fill="#dc143c" fill-opacity="0.78"/>
<circle cx="640.2" cy="369.9" r="2.3" fill="#dc143c" fill-opacity="0.78"/>
<circle cx="624.4" cy="366.8" r="2.3" fill="#dc143c" fill-opacity="0.78"/>
<circle cx="562.4" cy="371.6" r="2.3" fill="#dc143c" fill-opacity="0.78"/>
<circle cx="582.6" cy="365.6" r="2.3" fill="#dc143c" fill-opacity="0.78"/>
<circle cx="586.9" cy="365.2" r="2.3" fill="#dc143c" fill-opacity="0.78"/>
<circle cx="621.9" cy="370.6" r="2.3" fill="#dc143c" fill-opacity="0.78"/>
<circle cx="586.8" cy="365.1" r="2.3" fill="#dc143c" fill-opacity="0.78"/>
<circle cx="581.7" cy="365.6" r="2.3" fill="#dc143c" fill-opacity="0.78"/>
<circle cx="545.7" cy="368.1" r="2.3" fill="#dc143c" fill-opacity="0.78"/>
<circle cx="593.1" cy="366.8" r="2.3" fill="#dc143c" fill-opacity="0.78"/>
<circle cx="643.8" cy="365.4" r="2.3" fill="#dc143c" fill-opacity="0.78"/>
<circle cx="530.8" cy="371.5" r="2.3" fill="#dc143c" fill-opacity="0.78"/>
<circle cx="566" cy="367.9" r="2.3" fill="#dc143c" fill-opacity="0.78"/>
<circle cx="636.6" cy="370.4" r="2.3" fill="#dc143c" fill-opacity="0.78"/>
<circle cx="638.1" cy="366.1" r="2.3" fill="#dc143c" fill-opacity="0.78"/>
<circle cx="631.1" cy="371.4" r="2.3" fill="#dc143c" fill-opacity="0.78"/>
<circle cx="585.2" cy="365.9" r="2.3" fill="#dc143c" fill-opacity="0.78"/>
<circle cx="579.4" cy="371.4" r="2.3" fill="#dc143c" fill-opacity="0.78"/>
<circle cx="589.1" cy="369" r="2.3" fill="#dc143c" fill-opacity="0.78"/>
<circle cx="566.3" cy="371.9" r="2.3" fill="#dc143c" fill-opacity="0.78"/>
<circle cx="599.1" cy="370.3" r="2.3" fill="#dc143c" fill-opacity="0.78"/>
<circle cx="634.7" cy="369.1" r="2.3" fill="#dc143c" fill-opacity="0.78"/>
<circle cx="585.3" cy="368.4" r="2.3" fill="#dc143c" fill-opacity="0.78"/>
<circle cx="552.1" cy="370.9" r="2.3" fill="#dc143c" fill-opacity="0.78"/>
<circle cx="534.8" cy="367.6" r="2.3" fill="#dc143c" fill-opacity="0.78"/>
<circle cx="599.3" cy="364.9" r="2.3" fill="#dc143c" fill-opacity="0.78"/>
<circle cx="600.1" cy="371.4" r="2.3" fill="#dc143c" fill-opacity="0.78"/>
<circle cx="560" cy="370.5" r="2.3" fill="#dc143c" fill-opacity="0.78"/>
<circle cx="618.1" cy="369.6" r="2.3" fill="#dc143c" fill-opacity="0.78"/>
<circle cx="528.6" cy="370.1" r="2.3" fill="#dc143c" fill-opacity="0.78"/>
<circle cx="542.8" cy="366" r="2.3" fill="#dc143c" fill-opacity="0.78"/>
<circle cx="574.9" cy="367.8" r="2.3" fill="#dc143c" fill-opacity="0.78"/>
<circle cx="527.1" cy="370.7" r="2.3" fill="#dc143c" fill-opacity="0.78"/>
<circle cx="529.4" cy="371.8" r="2.3" fill="#dc143c" fill-opacity="0.78"/>
<circle cx="591.6" cy="371.5" r="2.3" fill="#dc143c" fill-opacity="0.78"/>
<circle cx="647.5" cy="365.4" r="2.3" fill="#dc143c" fill-opacity="0.78"/>
<circle cx="577.9" cy="369.6" r="2.3" fill="#dc143c" fill-opacity="0.78"/>
<circle cx="634.8" cy="368.5" r="2.3" fill="#dc143c" fill-opacity="0.78"/>
<circle cx="589.4" cy="367.3" r="2.3" fill="#dc143c" fill-opacity="0.78"/>
<circle cx="592.7" cy="365.4" r="2.3" fill="#dc143c" fill-opacity="0.78"/>
<circle cx="560.1" cy="365.2" r="2.3" fill="#dc143c" fill-opacity="0.78"/>
<circle cx="524.5" cy="367.9" r="2.3" fill="#dc143c" fill-opacity="0.78"/>
<circle cx="521.2" cy="368" r="2.3" fill="#dc143c" fill-opacity="0.78"/>
<circle cx="623.3" cy="366.2" r="2.3" fill="#dc143c" fill-opacity="0.78"/>
<circle cx="524" cy="367" r="2.3" fill="#dc143c" fill-opacity="0.78"/>
<circle cx="532.9" cy="368.5" r="2.3" fill="#dc143c" fill-opacity="0.78"/>
<circle cx="587.4" cy="370.2" r="2.3" fill="#dc143c" fill-opacity="0.78"/>
<circle cx="574.2" cy="368.8" r="2.3" fill="#dc143c" fill-opacity="0.78"/>
<circle cx="507" cy="365.2" r="2.3" fill="#dc143c" fill-opacity="0.78"/>
<circle cx="657" cy="371.2" r="2.3" fill="#dc143c" fill-opacity="0.78"/>
<circle cx="661" cy="367" r="2.3" fill="#dc143c" fill-opacity="0.78"/>
<path d="M543.3 258.1H575.5 M605.3 258.1H641.6 M543.3 254.6v7 M641.6 254.6v7" stroke="#222" stroke-width="1.1" fill="none"/>
<rect x="575.5" y="252.5" width="29.8" height="11" fill="none" stroke="#222" stroke-width="1.1"/>
<line x1="586.3" y1="253.1" x2="586.3" y2="263.1" stroke="#e8141c" stroke-width="1.2"/>
<path d="M544.4 294.3H574.6 M598.5 294.3H627 M544.4 290.8v7 M627 290.8v7" stroke="#222" stroke-width="1.1" fill="none"/>
<rect x="574.6" y="288.7" width="23.9" height="11" fill="none" stroke="#222" stroke-width="1.1"/>
<line x1="589.8" y1="289.3" x2="589.8" y2="299.3" stroke="#e8141c" stroke-width="1.2"/>
<path d="M530.4 331.6H568.4 M622.5 331.6H656.5 M530.4 328.1v7 M656.5 328.1v7" stroke="#222" stroke-width="1.1" fill="none"/>
<rect x="568.4" y="326" width="54.1" height="11" fill="none" stroke="#222" stroke-width="1.1"/>
<line x1="597.4" y1="326.6" x2="597.4" y2="336.6" stroke="#e8141c" stroke-width="1.2"/>
<path d="M519.3 368.1H555.5 M594.7 368.1H647.6 M519.3 364.6v7 M647.6 364.6v7" stroke="#222" stroke-width="1.1" fill="none"/>
<rect x="555.5" y="362.5" width="39.2" height="11" fill="none" stroke="#222" stroke-width="1.1"/>
<line x1="577.4" y1="363.1" x2="577.4" y2="373.1" stroke="#e8141c" stroke-width="1.2"/>
<rect x="484.5" y="239.3" width="198.89999999999998" height="147.5" fill="none" stroke="#555" stroke-width="0.9"/>
<path d="M484.5 258.1h-3M484.5 294.3h-3M484.5 331.6h-3M484.5 368.1h-3M498.4 386.8v3M590.1 386.8v3M681.8 386.8v3" stroke="#444" stroke-width="0.7"/>
<text x="481.1" y="262.3" font-size="11.1" text-anchor="end" font-family='"DejaVu Sans", "Liberation Sans", sans-serif' fill="#111">CTRL</text>
<text x="481.1" y="298.5" font-size="11.1" text-anchor="end" font-family='"DejaVu Sans", "Liberation Sans", sans-serif' fill="#111">NOC</text>
<text x="481.1" y="335.8" font-size="11.1" text-anchor="end" font-family='"DejaVu Sans", "Liberation Sans", sans-serif' fill="#111">LAT</text>
<text x="479.4" y="372.3" font-size="11.1" text-anchor="end" font-family='"DejaVu Sans", "Liberation Sans", sans-serif' fill="#111">VIM<tspan dy="-4.4" dx="0.4" font-size="7" font-weight="bold">−</tspan></text>
<text x="498.4" y="398.6" font-size="9.3" text-anchor="middle" font-family='"DejaVu Sans", "Liberation Sans", sans-serif' fill="#222">0</text>
<text x="590.1" y="398.6" font-size="9.3" text-anchor="middle" font-family='"DejaVu Sans", "Liberation Sans", sans-serif' fill="#222">1</text>
<text x="681.8" y="398.6" font-size="9.3" text-anchor="middle" font-family='"DejaVu Sans", "Liberation Sans", sans-serif' fill="#222">2</text>
<text x="583.7" y="414.5" font-size="15" text-anchor="middle" font-family='"DejaVu Sans", "Liberation Sans", sans-serif' fill="#111">α</text>
<circle cx="594.3" cy="460.1" r="2.4" fill="#9acd32" fill-opacity="0.65"/>
<circle cx="557.9" cy="464.6" r="2.4" fill="#9acd32" fill-opacity="0.65"/>
<circle cx="582.4" cy="462.8" r="2.4" fill="#9acd32" fill-opacity="0.65"/>
<circle cx="505.5" cy="461.9" r="2.4" fill="#9acd32" fill-opacity="0.65"/>
<circle cx="542.6" cy="463.5" r="2.4" fill="#9acd32" fill-opacity="0.65"/>
<circle cx="545.9" cy="466.9" r="2.4" fill="#9acd32" fill-opacity="0.65"/>
<circle cx="516" cy="461.4" r="2.4" fill="#9acd32" fill-opacity="0.65"/>
<circle cx="588.4" cy="460.6" r="2.4" fill="#9acd32" fill-opacity="0.65"/>
<circle cx="572.7" cy="461.8" r="2.4" fill="#9acd32" fill-opacity="0.65"/>
<circle cx="515.2" cy="462" r="2.4" fill="#9acd32" fill-opacity="0.65"/>
<circle cx="588.1" cy="466.7" r="2.4" fill="#9acd32" fill-opacity="0.65"/>
<circle cx="558.8" cy="465" r="2.4" fill="#9acd32" fill-opacity="0.65"/>
<circle cx="573.5" cy="462.8" r="2.4" fill="#9acd32" fill-opacity="0.65"/>
<circle cx="573.6" cy="460.7" r="2.4" fill="#9acd32" fill-opacity="0.65"/>
<circle cx="534.8" cy="459.8" r="2.4" fill="#9acd32" fill-opacity="0.65"/>
<circle cx="501" cy="460.4" r="2.4" fill="#9acd32" fill-opacity="0.65"/>
<circle cx="497.3" cy="466.2" r="2.4" fill="#9acd32" fill-opacity="0.65"/>
<circle cx="588.1" cy="464.6" r="2.4" fill="#9acd32" fill-opacity="0.65"/>
<circle cx="531.3" cy="460.7" r="2.4" fill="#9acd32" fill-opacity="0.65"/>
<circle cx="588.3" cy="464.4" r="2.4" fill="#9acd32" fill-opacity="0.65"/>
<circle cx="492.4" cy="459.9" r="2.4" fill="#9acd32" fill-opacity="0.65"/>
<circle cx="551.6" cy="463.5" r="2.4" fill="#9acd32" fill-opacity="0.65"/>
<circle cx="581" cy="462.1" r="2.4" fill="#9acd32" fill-opacity="0.65"/>
<circle cx="492.7" cy="460.2" r="2.4" fill="#9acd32" fill-opacity="0.65"/>
<circle cx="570.8" cy="465.3" r="2.4" fill="#9acd32" fill-opacity="0.65"/>
<circle cx="527" cy="465.1" r="2.4" fill="#9acd32" fill-opacity="0.65"/>
<circle cx="542.6" cy="463.5" r="2.4" fill="#9acd32" fill-opacity="0.65"/>
<circle cx="567.9" cy="460.7" r="2.4" fill="#9acd32" fill-opacity="0.65"/>
<circle cx="572" cy="464.8" r="2.4" fill="#9acd32" fill-opacity="0.65"/>
<circle cx="569.9" cy="462.9" r="2.4" fill="#9acd32" fill-opacity="0.65"/>
<circle cx="505.9" cy="464.7" r="2.4" fill="#9acd32" fill-opacity="0.65"/>
<circle cx="582.8" cy="460.1" r="2.4" fill="#9acd32" fill-opacity="0.65"/>
<circle cx="495.1" cy="466.6" r="2.4" fill="#9acd32" fill-opacity="0.65"/>
<circle cx="594.3" cy="459.4" r="2.4" fill="#9acd32" fill-opacity="0.65"/>
<circle cx="564.5" cy="461.2" r="2.4" fill="#9acd32" fill-opacity="0.65"/>
<circle cx="540.4" cy="462.6" r="2.4" fill="#9acd32" fill-opacity="0.65"/>
<circle cx="561.1" cy="461" r="2.4" fill="#9acd32" fill-opacity="0.65"/>
<circle cx="594.6" cy="460.1" r="2.4" fill="#9acd32" fill-opacity="0.65"/>
<circle cx="587.2" cy="464.9" r="2.4" fill="#9acd32" fill-opacity="0.65"/>
<circle cx="499.1" cy="467.4" r="2.4" fill="#9acd32" fill-opacity="0.65"/>
<circle cx="515.5" cy="462.1" r="2.4" fill="#9acd32" fill-opacity="0.65"/>
<circle cx="570.7" cy="461.5" r="2.4" fill="#9acd32" fill-opacity="0.65"/>
<circle cx="540.1" cy="464.8" r="2.4" fill="#9acd32" fill-opacity="0.65"/>
<circle cx="540.4" cy="461.2" r="2.4" fill="#9acd32" fill-opacity="0.65"/>
<circle cx="526" cy="462.6" r="2.4" fill="#9acd32" fill-opacity="0.65"/>
<circle cx="554.7" cy="464.9" r="2.4" fill="#9acd32" fill-opacity="0.65"/>
<circle cx="515.9" cy="462.8" r="2.4" fill="#9acd32" fill-opacity="0.65"/>
<circle cx="556.3" cy="460.6" r="2.4" fill="#9acd32" fill-opacity="0.65"/>
<circle cx="536.7" cy="460" r="2.4" fill="#9acd32" fill-opacity="0.65"/>
<circle cx="543.9" cy="463.7" r="2.4" fill="#9acd32" fill-opacity="0.65"/>
<circle cx="579.5" cy="467.3" r="2.4" fill="#9acd32" fill-opacity="0.65"/>
<circle cx="579.5" cy="466.8" r="2.4" fill="#9acd32" fill-opacity="0.65"/>
<circle cx="553.6" cy="460.2" r="2.4" fill="#9acd32" fill-opacity="0.65"/>
<circle cx="547.9" cy="463.4" r="2.4" fill="#9acd32" fill-opacity="0.65"/>
<circle cx="579.1" cy="463.3" r="2.4" fill="#9acd32" fill-opacity="0.65"/>
<circle cx="527.4" cy="461" r="2.4" fill="#9acd32" fill-opacity="0.65"/>
<circle cx="554.7" cy="464.8" r="2.4" fill="#9acd32" fill-opacity="0.65"/>
<circle cx="586.8" cy="463.4" r="2.4" fill="#9acd32" fill-opacity="0.65"/>
<circle cx="537.2" cy="465.9" r="2.4" fill="#9acd32" fill-opacity="0.65"/>
<circle cx="547.8" cy="461.7" r="2.4" fill="#9acd32" fill-opacity="0.65"/>
<circle cx="601" cy="466.9" r="2.4" fill="#9acd32" fill-opacity="0.65"/>
<circle cx="605" cy="465.9" r="2.4" fill="#9acd32" fill-opacity="0.65"/>
<circle cx="612" cy="463.2" r="2.4" fill="#9acd32" fill-opacity="0.65"/>
<circle cx="614" cy="460.5" r="2.4" fill="#9acd32" fill-opacity="0.65"/>
<circle cx="638.5" cy="463.3" r="2.4" fill="#9acd32" fill-opacity="0.65"/>
<circle cx="498" cy="460.4" r="2.4" fill="#9acd32" fill-opacity="0.65"/>
<circle cx="492" cy="464.9" r="2.4" fill="#9acd32" fill-opacity="0.65"/>
<circle cx="519.7" cy="497.6" r="2.4" fill="#9370db" fill-opacity="0.65"/>
<circle cx="551.4" cy="497.8" r="2.4" fill="#9370db" fill-opacity="0.65"/>
<circle cx="526.4" cy="502.2" r="2.4" fill="#9370db" fill-opacity="0.65"/>
<circle cx="538.2" cy="501.1" r="2.4" fill="#9370db" fill-opacity="0.65"/>
<circle cx="543" cy="501.3" r="2.4" fill="#9370db" fill-opacity="0.65"/>
<circle cx="512.9" cy="501" r="2.4" fill="#9370db" fill-opacity="0.65"/>
<circle cx="513.4" cy="501.4" r="2.4" fill="#9370db" fill-opacity="0.65"/>
<circle cx="510.8" cy="498.1" r="2.4" fill="#9370db" fill-opacity="0.65"/>
<circle cx="557.1" cy="496.4" r="2.4" fill="#9370db" fill-opacity="0.65"/>
<circle cx="534" cy="498.8" r="2.4" fill="#9370db" fill-opacity="0.65"/>
<circle cx="528.3" cy="496.2" r="2.4" fill="#9370db" fill-opacity="0.65"/>
<circle cx="507.1" cy="503.6" r="2.4" fill="#9370db" fill-opacity="0.65"/>
<circle cx="561.2" cy="500.1" r="2.4" fill="#9370db" fill-opacity="0.65"/>
<circle cx="539.3" cy="501.3" r="2.4" fill="#9370db" fill-opacity="0.65"/>
<circle cx="502.6" cy="503.6" r="2.4" fill="#9370db" fill-opacity="0.65"/>
<circle cx="538.8" cy="502.3" r="2.4" fill="#9370db" fill-opacity="0.65"/>
<circle cx="565.2" cy="497.7" r="2.4" fill="#9370db" fill-opacity="0.65"/>
<circle cx="549" cy="498.6" r="2.4" fill="#9370db" fill-opacity="0.65"/>
<circle cx="563.3" cy="496.8" r="2.4" fill="#9370db" fill-opacity="0.65"/>
<circle cx="531.4" cy="502.3" r="2.4" fill="#9370db" fill-opacity="0.65"/>
<circle cx="530.7" cy="501.8" r="2.4" fill="#9370db" fill-opacity="0.65"/>
<circle cx="508.4" cy="499.8" r="2.4" fill="#9370db" fill-opacity="0.65"/>
<circle cx="516.9" cy="498.9" r="2.4" fill="#9370db" fill-opacity="0.65"/>
<circle cx="539.2" cy="498.1" r="2.4" fill="#9370db" fill-opacity="0.65"/>
<circle cx="520" cy="499.8" r="2.4" fill="#9370db" fill-opacity="0.65"/>
<circle cx="537.4" cy="501.6" r="2.4" fill="#9370db" fill-opacity="0.65"/>
<circle cx="517.5" cy="503.1" r="2.4" fill="#9370db" fill-opacity="0.65"/>
<circle cx="544.5" cy="502.7" r="2.4" fill="#9370db" fill-opacity="0.65"/>
<circle cx="542.1" cy="502.8" r="2.4" fill="#9370db" fill-opacity="0.65"/>
<circle cx="546.5" cy="499.4" r="2.4" fill="#9370db" fill-opacity="0.65"/>
<circle cx="525.8" cy="499.3" r="2.4" fill="#9370db" fill-opacity="0.65"/>
<circle cx="509.9" cy="498.4" r="2.4" fill="#9370db" fill-opacity="0.65"/>
<circle cx="558.2" cy="503.7" r="2.4" fill="#9370db" fill-opacity="0.65"/>
<circle cx="537.6" cy="497.4" r="2.4" fill="#9370db" fill-opacity="0.65"/>
<circle cx="545.3" cy="497.2" r="2.4" fill="#9370db" fill-opacity="0.65"/>
<circle cx="557.7" cy="498.1" r="2.4" fill="#9370db" fill-opacity="0.65"/>
<circle cx="508.8" cy="503.3" r="2.4" fill="#9370db" fill-opacity="0.65"/>
<circle cx="538.9" cy="502.7" r="2.4" fill="#9370db" fill-opacity="0.65"/>
<circle cx="538.9" cy="498.6" r="2.4" fill="#9370db" fill-opacity="0.65"/>
<circle cx="561.4" cy="502.7" r="2.4" fill="#9370db" fill-opacity="0.65"/>
<circle cx="581.8" cy="503" r="2.4" fill="#9370db" fill-opacity="0.65"/>
<circle cx="568" cy="499.3" r="2.4" fill="#9370db" fill-opacity="0.65"/>
<circle cx="604.3" cy="534.9" r="2.4" fill="#ffa500" fill-opacity="0.65"/>
<circle cx="583.4" cy="537.1" r="2.4" fill="#ffa500" fill-opacity="0.65"/>
<circle cx="619.7" cy="536.7" r="2.4" fill="#ffa500" fill-opacity="0.65"/>
<circle cx="598.6" cy="534.5" r="2.4" fill="#ffa500" fill-opacity="0.65"/>
<circle cx="580.2" cy="532.9" r="2.4" fill="#ffa500" fill-opacity="0.65"/>
<circle cx="591.7" cy="539.8" r="2.4" fill="#ffa500" fill-opacity="0.65"/>
<circle cx="591.5" cy="535.2" r="2.4" fill="#ffa500" fill-opacity="0.65"/>
<circle cx="617.7" cy="533.1" r="2.4" fill="#ffa500" fill-opacity="0.65"/>
<circle cx="563.9" cy="537.5" r="2.4" fill="#ffa500" fill-opacity="0.65"/>
<circle cx="580.3" cy="536.5" r="2.4" fill="#ffa500" fill-opacity="0.65"/>
<circle cx="563.3" cy="534.8" r="2.4" fill="#ffa500" fill-opacity="0.65"/>
<circle cx="586" cy="534.8" r="2.4" fill="#ffa500" fill-opacity="0.65"/>
<circle cx="628.4" cy="539" r="2.4" fill="#ffa500" fill-opacity="0.65"/>
<circle cx="598.3" cy="534.9" r="2.4" fill="#ffa500" fill-opacity="0.65"/>
<circle cx="551.2" cy="535.5" r="2.4" fill="#ffa500" fill-opacity="0.65"/>
<circle cx="590" cy="539.9" r="2.4" fill="#ffa500" fill-opacity="0.65"/>
<circle cx="562.9" cy="535.1" r="2.4" fill="#ffa500" fill-opacity="0.65"/>
<circle cx="542.8" cy="535.4" r="2.4" fill="#ffa500" fill-opacity="0.65"/>
<circle cx="589.5" cy="533.5" r="2.4" fill="#ffa500" fill-opacity="0.65"/>
<circle cx="591.2" cy="537.5" r="2.4" fill="#ffa500" fill-opacity="0.65"/>
<circle cx="613.7" cy="537.5" r="2.4" fill="#ffa500" fill-opacity="0.65"/>
<circle cx="616" cy="535.8" r="2.4" fill="#ffa500" fill-opacity="0.65"/>
<circle cx="616" cy="535.4" r="2.4" fill="#ffa500" fill-opacity="0.65"/>
<circle cx="553.5" cy="534.1" r="2.4" fill="#ffa500" fill-opacity="0.65"/>
<circle cx="605" cy="538.5" r="2.4" fill="#ffa500" fill-opacity="0.65"/>
<circle cx="616.5" cy="535.9" r="2.4" fill="#ffa500" fill-opacity="0.65"/>
<circle cx="620.4" cy="538.9" r="2.4" fill="#ffa500" fill-opacity="0.65"/>
<circle cx="612.5" cy="535.2" r="2.4" fill="#ffa500" fill-opacity="0.65"/>
<circle cx="586.9" cy="538.1" r="2.4" fill="#ffa500" fill-opacity="0.65"/>
<circle cx="570.3" cy="532.4" r="2.4" fill="#ffa500" fill-opacity="0.65"/>
<circle cx="621.7" cy="534" r="2.4" fill="#ffa500" fill-opacity="0.65"/>
<circle cx="605.1" cy="539.9" r="2.4" fill="#ffa500" fill-opacity="0.65"/>
<circle cx="587.9" cy="537.7" r="2.4" fill="#ffa500" fill-opacity="0.65"/>
<circle cx="619.7" cy="537.6" r="2.4" fill="#ffa500" fill-opacity="0.65"/>
<circle cx="613.2" cy="536.2" r="2.4" fill="#ffa500" fill-opacity="0.65"/>
<circle cx="586.4" cy="536" r="2.4" fill="#ffa500" fill-opacity="0.65"/>
<circle cx="582.6" cy="533.8" r="2.4" fill="#ffa500" fill-opacity="0.65"/>
<circle cx="591.4" cy="533.6" r="2.4" fill="#ffa500" fill-opacity="0.65"/>
<circle cx="595.8" cy="537.4" r="2.4" fill="#ffa500" fill-opacity="0.65"/>
<circle cx="602" cy="537.8" r="2.4" fill="#ffa500" fill-opacity="0.65"/>
<circle cx="578.8" cy="534.3" r="2.4" fill="#ffa500" fill-opacity="0.65"/>
<circle cx="595.9" cy="537.4" r="2.4" fill="#ffa500" fill-opacity="0.65"/>
<circle cx="591.5" cy="533.3" r="2.4" fill="#ffa500" fill-opacity="0.65"/>
<circle cx="615.4" cy="537.1" r="2.4" fill="#ffa500" fill-opacity="0.65"/>
<circle cx="618.2" cy="533.6" r="2.4" fill="#ffa500" fill-opacity="0.65"/>
<circle cx="634" cy="536.3" r="2.4" fill="#ffa500" fill-opacity="0.65"/>
<circle cx="641" cy="534.7" r="2.4" fill="#ffa500" fill-opacity="0.65"/>
<circle cx="647" cy="536.6" r="2.4" fill="#ffa500" fill-opacity="0.65"/>
<circle cx="653.9" cy="533.3" r="2.4" fill="#ffa500" fill-opacity="0.65"/>
<circle cx="571.8" cy="570.7" r="2.4" fill="#dc143c" fill-opacity="0.65"/>
<circle cx="563.1" cy="572.5" r="2.4" fill="#dc143c" fill-opacity="0.65"/>
<circle cx="537.7" cy="569" r="2.4" fill="#dc143c" fill-opacity="0.65"/>
<circle cx="546.3" cy="575.4" r="2.4" fill="#dc143c" fill-opacity="0.65"/>
<circle cx="525.8" cy="571" r="2.4" fill="#dc143c" fill-opacity="0.65"/>
<circle cx="577.8" cy="575.6" r="2.4" fill="#dc143c" fill-opacity="0.65"/>
<circle cx="545.3" cy="573.4" r="2.4" fill="#dc143c" fill-opacity="0.65"/>
<circle cx="567" cy="573.8" r="2.4" fill="#dc143c" fill-opacity="0.65"/>
<circle cx="596.4" cy="574" r="2.4" fill="#dc143c" fill-opacity="0.65"/>
<circle cx="521.5" cy="570" r="2.4" fill="#dc143c" fill-opacity="0.65"/>
<circle cx="518.8" cy="575.2" r="2.4" fill="#dc143c" fill-opacity="0.65"/>
<circle cx="598.9" cy="571.3" r="2.4" fill="#dc143c" fill-opacity="0.65"/>
<circle cx="527.4" cy="575.9" r="2.4" fill="#dc143c" fill-opacity="0.65"/>
<circle cx="585.6" cy="575.3" r="2.4" fill="#dc143c" fill-opacity="0.65"/>
<circle cx="591.3" cy="574.4" r="2.4" fill="#dc143c" fill-opacity="0.65"/>
<circle cx="579.5" cy="575.5" r="2.4" fill="#dc143c" fill-opacity="0.65"/>
<circle cx="577.8" cy="572.5" r="2.4" fill="#dc143c" fill-opacity="0.65"/>
<circle cx="537.2" cy="574.4" r="2.4" fill="#dc143c" fill-opacity="0.65"/>
<circle cx="586" cy="576.6" r="2.4" fill="#dc143c" fill-opacity="0.65"/>
<circle cx="588.3" cy="570.5" r="2.4" fill="#dc143c" fill-opacity="0.65"/>
<circle cx="563.9" cy="569.8" r="2.4" fill="#dc143c" fill-opacity="0.65"/>
<circle cx="556.4" cy="572.3" r="2.4" fill="#dc143c" fill-opacity="0.65"/>
<circle cx="522" cy="573.1" r="2.4" fill="#dc143c" fill-opacity="0.65"/>
<circle cx="562.7" cy="570.2" r="2.4" fill="#dc143c" fill-opacity="0.65"/>
<circle cx="580.3" cy="570.8" r="2.4" fill="#dc143c" fill-opacity="0.65"/>
<circle cx="597.2" cy="575.9" r="2.4" fill="#dc143c" fill-opacity="0.65"/>
<circle cx="590" cy="572.1" r="2.4" fill="#dc143c" fill-opacity="0.65"/>
<circle cx="587.3" cy="570.2" r="2.4" fill="#dc143c" fill-opacity="0.65"/>
<circle cx="596.2" cy="570.5" r="2.4" fill="#dc143c" fill-opacity="0.65"/>
<circle cx="526" cy="573.6" r="2.4" fill="#dc143c" fill-opacity="0.65"/>
<circle cx="580.5" cy="570.5" r="2.4" fill="#dc143c" fill-opacity="0.65"/>
<circle cx="540.1" cy="572.8" r="2.4" fill="#dc143c" fill-opacity="0.65"/>
<circle cx="585" cy="573.3" r="2.4" fill="#dc143c" fill-opacity="0.65"/>
<circle cx="534.7" cy="572.5" r="2.4" fill="#dc143c" fill-opacity="0.65"/>
<circle cx="590.3" cy="573" r="2.4" fill="#dc143c" fill-opacity="0.65"/>
<circle cx="581.4" cy="575.7" r="2.4" fill="#dc143c" fill-opacity="0.65"/>
<circle cx="575.4" cy="569.1" r="2.4" fill="#dc143c" fill-opacity="0.65"/>
<circle cx="586.8" cy="576.4" r="2.4" fill="#dc143c" fill-opacity="0.65"/>
<circle cx="532.2" cy="570.6" r="2.4" fill="#dc143c" fill-opacity="0.65"/>
<circle cx="560.5" cy="569.3" r="2.4" fill="#dc143c" fill-opacity="0.65"/>
<circle cx="588.8" cy="575.1" r="2.4" fill="#dc143c" fill-opacity="0.65"/>
<circle cx="536" cy="573.6" r="2.4" fill="#dc143c" fill-opacity="0.65"/>
<circle cx="575.7" cy="573.3" r="2.4" fill="#dc143c" fill-opacity="0.65"/>
<circle cx="549.8" cy="570.7" r="2.4" fill="#dc143c" fill-opacity="0.65"/>
<circle cx="560.3" cy="575.2" r="2.4" fill="#dc143c" fill-opacity="0.65"/>
<circle cx="575" cy="571.5" r="2.4" fill="#dc143c" fill-opacity="0.65"/>
<circle cx="532.5" cy="574.8" r="2.4" fill="#dc143c" fill-opacity="0.65"/>
<circle cx="523.3" cy="570.8" r="2.4" fill="#dc143c" fill-opacity="0.65"/>
<circle cx="590.5" cy="573.6" r="2.4" fill="#dc143c" fill-opacity="0.65"/>
<circle cx="546.6" cy="574.2" r="2.4" fill="#dc143c" fill-opacity="0.65"/>
<circle cx="574.8" cy="572" r="2.4" fill="#dc143c" fill-opacity="0.65"/>
<circle cx="577.3" cy="572.8" r="2.4" fill="#dc143c" fill-opacity="0.65"/>
<circle cx="562.2" cy="569.5" r="2.4" fill="#dc143c" fill-opacity="0.65"/>
<circle cx="535.4" cy="574.1" r="2.4" fill="#dc143c" fill-opacity="0.65"/>
<circle cx="570.7" cy="574.5" r="2.4" fill="#dc143c" fill-opacity="0.65"/>
<circle cx="520" cy="570.2" r="2.4" fill="#dc143c" fill-opacity="0.65"/>
<circle cx="525" cy="573.4" r="2.4" fill="#dc143c" fill-opacity="0.65"/>
<circle cx="621.5" cy="574.9" r="2.4" fill="#dc143c" fill-opacity="0.65"/>
<circle cx="634" cy="569.8" r="2.4" fill="#dc143c" fill-opacity="0.65"/>
<circle cx="651.9" cy="575.7" r="2.4" fill="#dc143c" fill-opacity="0.65"/>
<path d="M492.3 463.4H534.4 M574.7 463.4H594.7 M492.3 459.9v7 M594.7 459.9v7" stroke="#222" stroke-width="1.1" fill="none"/>
<rect x="534.4" y="457.8" width="40.3" height="11" fill="none" stroke="#222" stroke-width="1.1"/>
<line x1="551.6" y1="458.4" x2="551.6" y2="468.4" stroke="#e8141c" stroke-width="1.2"/>
<path d="M502.5 499.9H532.3 M550.7 499.9H565.3 M502.5 496.4v7 M565.3 496.4v7" stroke="#222" stroke-width="1.1" fill="none"/>
<rect x="532.3" y="494.3" width="18.4" height="11" fill="none" stroke="#222" stroke-width="1.1"/>
<line x1="541.7" y1="494.9" x2="541.7" y2="504.9" stroke="#e8141c" stroke-width="1.2"/>
<path d="M537.7 536.2H579.6 M611.5 536.2H630.1 M537.7 532.7v7 M630.1 532.7v7" stroke="#222" stroke-width="1.1" fill="none"/>
<rect x="579.6" y="530.6" width="31.9" height="11" fill="none" stroke="#222" stroke-width="1.1"/>
<line x1="599.4" y1="531.2" x2="599.4" y2="541.2" stroke="#e8141c" stroke-width="1.2"/>
<path d="M517.6 573H554.4 M582.6 573H599.4 M517.6 569.5v7 M599.4 569.5v7" stroke="#222" stroke-width="1.1" fill="none"/>
<rect x="554.4" y="567.4" width="28.2" height="11" fill="none" stroke="#222" stroke-width="1.1"/>
<line x1="571.3" y1="568" x2="571.3" y2="578" stroke="#e8141c" stroke-width="1.2"/>
<text x="663.4" y="543.7" font-size="13" font-weight="bold" font-family='"DejaVu Sans", "Liberation Sans", sans-serif' fill="#111">*</text>
<text x="663.4" y="580.6" font-size="13" font-weight="bold" font-family='"DejaVu Sans", "Liberation Sans", sans-serif' fill="#111">*</text>
<rect x="484.6" y="445.1" width="198.79999999999995" height="146.19999999999993" fill="none" stroke="#555" stroke-width="0.9"/>
<path d="M484.6 463.4h-3M484.6 499.9h-3M484.6 536.2h-3M484.6 573h-3M488.6 591.3v1.6M495.1 591.3v1.6M500.3 591.3v1.6M504.8 591.3v1.6M508.6 591.3v1.6M512.1 591.3v1.6M515.1 591.3v3M535.1 591.3v1.6M546.9 591.3v1.6M555.2 591.3v1.6M561.7 591.3v1.6M566.9 591.3v1.6M571.4 591.3v1.6M575.2 591.3v1.6M578.7 591.3v1.6M581.7 591.3v3M601.7 591.3v1.6M613.5 591.3v1.6M621.8 591.3v1.6M628.3 591.3v1.6M633.5 591.3v1.6M638 591.3v1.6M641.8 591.3v1.6M645.3 591.3v1.6M648.3 591.3v3M668.3 591.3v1.6M680.1 591.3v1.6" stroke="#444" stroke-width="0.7"/>
<text x="481.1" y="467.6" font-size="11.1" text-anchor="end" font-family='"DejaVu Sans", "Liberation Sans", sans-serif' fill="#111">CTRL</text>
<text x="481.1" y="504.1" font-size="11.1" text-anchor="end" font-family='"DejaVu Sans", "Liberation Sans", sans-serif' fill="#111">NOC</text>
<text x="481.1" y="540.4" font-size="11.1" text-anchor="end" font-family='"DejaVu Sans", "Liberation Sans", sans-serif' fill="#111">LAT</text>
<text x="479.4" y="577.2" font-size="11.1" text-anchor="end" font-family='"DejaVu Sans", "Liberation Sans", sans-serif' fill="#111">VIM<tspan dy="-4.4" dx="0.4" font-size="7" font-weight="bold">−</tspan></text>
<text x="514.3" y="603" font-size="9.6" text-anchor="middle" font-family='"DejaVu Sans", "Liberation Sans", sans-serif' fill="#222">10<tspan dy="-3.8" font-size="6.8">−3</tspan></text>
<text x="580.9" y="603" font-size="9.6" text-anchor="middle" font-family='"DejaVu Sans", "Liberation Sans", sans-serif' fill="#222">10<tspan dy="-3.8" font-size="6.8">−2</tspan></text>
<text x="647.5" y="603" font-size="9.6" text-anchor="middle" font-family='"DejaVu Sans", "Liberation Sans", sans-serif' fill="#222">10<tspan dy="-3.8" font-size="6.8">−1</tspan></text>
<text x="547.2" y="619" font-size="12.6" font-family='"DejaVu Sans", "Liberation Sans", sans-serif' fill="#111">D<tspan dy="-5.3" dx="1.6" font-size="8.8">∗</tspan><tspan dy="5.3" dx="0">[μm</tspan><tspan dy="-5" dx="0.4" font-size="8.8">2</tspan><tspan dy="5" dx="1.2">/s</tspan><tspan dy="-5" dx="1.6" font-size="8.8">α</tspan><tspan dy="5" dx="1.6">]</tspan></text>
</svg></body></html>
